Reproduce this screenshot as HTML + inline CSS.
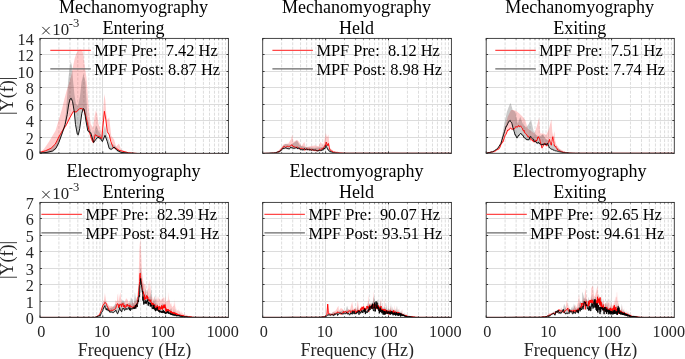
<!DOCTYPE html>
<html><head><meta charset="utf-8"><style>
html,body{margin:0;padding:0;background:#fff;}
svg{display:block;will-change:transform;filter:blur(0.3px);}
text{font-family:"Liberation Serif", serif;fill:#000;}
.tt{font-size:18px;text-anchor:middle;}
.lg{font-size:16.4px;white-space:pre;}
.tl{font-size:16.2px;fill:#262626;}
.al{fill:#262626;}
.ex{font-size:16.8px;fill:#262626;}
.es{font-size:12.6px;fill:#262626;}
.xm{stroke:#262626;stroke-width:1;fill:none;}
.mg{stroke:#d2d2d2;stroke-width:0.75;stroke-dasharray:3 1.4;stroke-dashoffset:0.5;fill:none;}
.Mg{stroke:#dcdcdc;stroke-width:1;fill:none;}
.tk{stroke:#262626;stroke-width:0.9;fill:none;}
.ax{stroke:#333;stroke-width:0.9;fill:none;}
.gb{fill:#000;fill-opacity:0.2;stroke:none;}
.pb{fill:#ff0000;fill-opacity:0.2;stroke:none;}
.bl{fill:none;stroke:#000;stroke-width:0.9;stroke-linejoin:round;}
.rl{fill:none;stroke:#ff0000;stroke-width:0.9;stroke-linejoin:round;}
.lr{stroke:#ff4848;stroke-width:1.1;fill:none;}
.lb{stroke:#6a6a6a;stroke-width:1.1;fill:none;}
</style></head><body>
<svg width="685" height="359" viewBox="0 0 685 359" xml:space="preserve">
<path d="M58.90 38.4V153.3M69.96 38.4V153.3M77.81 38.4V153.3M83.90 38.4V153.3M88.87 38.4V153.3M93.07 38.4V153.3M96.71 38.4V153.3M99.93 38.4V153.3M121.70 38.4V153.3M132.76 38.4V153.3M140.61 38.4V153.3M146.70 38.4V153.3M151.67 38.4V153.3M155.87 38.4V153.3M159.51 38.4V153.3M162.73 38.4V153.3M184.50 38.4V153.3M195.56 38.4V153.3M203.41 38.4V153.3M209.50 38.4V153.3M214.47 38.4V153.3M218.67 38.4V153.3M222.31 38.4V153.3M225.53 38.4V153.3" class="mg"/>
<path d="M102.50 38.4V153.3M165.50 38.4V153.3M40.0 54.50H228.4M40.0 71.50H228.4M40.0 87.50H228.4M40.0 104.50H228.4M40.0 120.50H228.4M40.0 137.50H228.4" class="Mg"/>
<clipPath id="c00"><rect x="40.0" y="38.4" width="188.40" height="114.90"/></clipPath><g clip-path="url(#c00)">
<polygon points="40.0,152.0 44.0,149.0 48.9,141.7 52.0,136.5 55.6,130.6 58.9,119.4 62.2,108.3 64.4,99.0 66.5,91.0 68.5,85.0 70.3,79.0 71.8,73.0 73.3,65.0 74.8,58.0 76.5,53.0 78.5,50.2 80.4,49.2 82.0,50.2 83.2,53.5 84.2,62.0 85.3,70.0 86.4,77.2 87.3,88.0 88.0,99.4 89.0,110.0 90.7,124.0 93.0,128.0 94.8,115.0 96.0,110.3 97.3,115.0 98.5,124.0 101.4,131.8 103.2,110.0 104.3,94.0 105.3,100.0 106.3,114.2 107.5,120.0 109.2,117.2 111.2,135.7 114.1,139.6 116.1,146.4 119.0,143.5 120.9,149.3 124.8,151.3 130.0,152.5 140.0,153.1 228.4,153.3 228.4,153.3 138.5,153.3 128.7,153.3 122.9,152.5 119.0,151.5 116.1,149.6 113.1,148.6 110.8,142.7 109.2,135.9 107.3,133.0 105.9,121.3 104.4,112.5 101.8,139.8 99.5,137.9 97.5,137.3 95.2,135.9 93.3,143.7 91.7,140.8 88.8,131.0 85.8,117.4 83.9,111.2 81.8,109.7 79.7,109.7 76.2,113.2 73.4,112.5 69.9,118.7 66.5,125.7 62.3,133.4 58.8,143.1 55.3,149.3 51.1,151.9 45.6,153.0 40.0,153.3" class="pb"/>
<polygon points="40.0,152.4 45.6,150.7 51.1,148.2 55.3,144.0 58.8,137.0 62.3,130.8 64.5,124.0 66.0,112.0 67.2,95.0 68.2,80.0 69.6,68.0 70.8,61.5 72.0,66.0 73.0,80.0 74.5,95.0 76.0,104.0 78.0,106.0 80.0,96.0 81.5,82.0 83.5,74.0 85.5,82.0 86.5,100.0 87.5,118.0 90.0,128.0 93.0,138.0 96.0,125.0 99.0,132.0 102.0,136.0 105.0,125.0 107.0,135.0 110.0,143.0 114.0,145.0 118.0,149.0 122.0,152.0 130.0,153.0 228.4,153.3 228.4,153.3 140.0,153.3 128.7,153.3 120.9,153.3 117.0,151.5 114.1,148.2 111.2,150.5 109.2,149.6 107.3,142.7 105.0,136.5 102.4,142.7 100.5,139.8 97.9,138.4 95.6,140.8 93.6,143.7 90.7,134.0 87.8,132.0 85.8,121.3 84.3,110.6 83.2,109.7 81.8,114.6 79.7,129.9 78.3,136.0 77.3,135.4 75.5,125.7 74.3,113.2 72.6,102.9 71.3,99.6 70.0,100.2 68.6,106.2 67.2,115.9 65.1,125.7 62.3,134.1 58.8,143.8 56.0,149.4 52.5,152.2 47.0,153.3 40.0,153.3" class="gb"/>
<polyline points="40.0,152.4 45.6,150.7 51.1,148.2 55.3,144.0 58.8,137.0 62.3,130.8 66.5,124.5 69.9,117.5 73.4,111.3 76.2,112.0 79.7,108.5 81.8,108.5 83.9,110.0 85.8,116.2 88.8,129.8 91.7,139.6 93.3,142.5 95.2,134.7 97.5,136.1 99.5,136.7 101.8,138.6 104.4,111.3 105.9,120.1 107.3,131.8 109.2,134.7 110.8,141.5 113.1,147.4 116.1,148.4 119.0,150.3 122.9,151.3 128.7,152.8 138.5,153.6 228.4,153.6" class="rl"/>
<polyline points="40.0,153.0 47.0,152.4 52.5,151.0 56.0,148.2 58.8,142.6 62.3,132.9 65.1,124.5 67.2,114.7 68.6,105.0 70.0,99.0 71.3,98.4 72.6,101.7 74.3,112.0 75.5,124.5 77.3,134.2 78.3,134.8 79.7,128.7 81.8,113.4 83.2,108.5 84.3,109.4 85.8,120.1 87.8,130.8 90.7,132.8 93.6,142.5 95.6,139.6 97.9,137.2 100.5,138.6 102.4,141.5 105.0,135.3 107.3,141.5 109.2,148.4 111.2,149.3 114.1,147.0 117.0,150.3 120.9,152.3 128.7,153.2 140.0,153.6 228.4,153.6" class="bl"/>
</g>
<path d="M40.00 153.3v-1.9M40.00 38.4v1.9M58.90 153.3v-1.0M58.90 38.4v1.0M69.96 153.3v-1.0M69.96 38.4v1.0M77.81 153.3v-1.0M77.81 38.4v1.0M83.90 153.3v-1.0M83.90 38.4v1.0M88.87 153.3v-1.0M88.87 38.4v1.0M93.07 153.3v-1.0M93.07 38.4v1.0M96.71 153.3v-1.0M96.71 38.4v1.0M99.93 153.3v-1.0M99.93 38.4v1.0M102.80 153.3v-1.9M102.80 38.4v1.9M121.70 153.3v-1.0M121.70 38.4v1.0M132.76 153.3v-1.0M132.76 38.4v1.0M140.61 153.3v-1.0M140.61 38.4v1.0M146.70 153.3v-1.0M146.70 38.4v1.0M151.67 153.3v-1.0M151.67 38.4v1.0M155.87 153.3v-1.0M155.87 38.4v1.0M159.51 153.3v-1.0M159.51 38.4v1.0M162.73 153.3v-1.0M162.73 38.4v1.0M165.60 153.3v-1.9M165.60 38.4v1.9M184.50 153.3v-1.0M184.50 38.4v1.0M195.56 153.3v-1.0M195.56 38.4v1.0M203.41 153.3v-1.0M203.41 38.4v1.0M209.50 153.3v-1.0M209.50 38.4v1.0M214.47 153.3v-1.0M214.47 38.4v1.0M218.67 153.3v-1.0M218.67 38.4v1.0M222.31 153.3v-1.0M222.31 38.4v1.0M225.53 153.3v-1.0M225.53 38.4v1.0M40.0 38.50h1.9M228.4 38.50h-1.9M40.0 54.50h1.9M228.4 54.50h-1.9M40.0 71.50h1.9M228.4 71.50h-1.9M40.0 87.50h1.9M228.4 87.50h-1.9M40.0 104.50h1.9M228.4 104.50h-1.9M40.0 120.50h1.9M228.4 120.50h-1.9M40.0 137.50h1.9M228.4 137.50h-1.9M40.0 153.50h1.9M228.4 153.50h-1.9" class="tk"/>
<rect x="40.0" y="38.4" width="188.40" height="114.90" class="ax"/>
<text x="133.60" y="13.10" class="tt">Mechanomyography</text>
<text x="133.60" y="34.20" class="tt">Entering</text>
<path d="M50.30 50.40h40.5" class="lr"/>
<path d="M50.30 68.90h40.5" class="lb"/>
<text x="94.30" y="56.20" class="lg">MPF Pre:  7.42 Hz</text>
<text x="94.30" y="74.80" class="lg">MPF Post: 8.87 Hz</text>
<text x="33.80" y="44.50" class="tl" text-anchor="end">14</text>
<text x="33.80" y="60.50" class="tl" text-anchor="end">12</text>
<text x="33.80" y="77.55" class="tl" text-anchor="end">10</text>
<text x="33.80" y="93.60" class="tl" text-anchor="end">8</text>
<text x="33.80" y="110.60" class="tl" text-anchor="end">6</text>
<text x="33.80" y="126.80" class="tl" text-anchor="end">4</text>
<text x="33.80" y="143.60" class="tl" text-anchor="end">2</text>
<text x="33.80" y="159.50" class="tl" text-anchor="end">0</text>
<path d="M42.30 26.90l7.4 7.4M49.70 26.90l-7.4 7.4" class="xm"/>
<text x="52.30" y="35.00" class="ex">10</text>
<text x="68.80" y="26.80" class="es">-3</text>
<text transform="translate(13.3 95.85) rotate(-90)" x="0" y="0" class="tt al">|Y(f)|</text>
<path d="M281.63 38.4V153.3M292.71 38.4V153.3M300.57 38.4V153.3M306.67 38.4V153.3M311.65 38.4V153.3M315.86 38.4V153.3M319.50 38.4V153.3M322.72 38.4V153.3M344.53 38.4V153.3M355.61 38.4V153.3M363.47 38.4V153.3M369.57 38.4V153.3M374.55 38.4V153.3M378.76 38.4V153.3M382.40 38.4V153.3M385.62 38.4V153.3M407.43 38.4V153.3M418.51 38.4V153.3M426.37 38.4V153.3M432.47 38.4V153.3M437.45 38.4V153.3M441.66 38.4V153.3M445.30 38.4V153.3M448.52 38.4V153.3" class="mg"/>
<path d="M325.50 38.4V153.3M388.50 38.4V153.3M262.7 54.50H451.4M262.7 71.50H451.4M262.7 87.50H451.4M262.7 104.50H451.4M262.7 120.50H451.4M262.7 137.50H451.4" class="Mg"/>
<clipPath id="c01"><rect x="262.7" y="38.4" width="188.70" height="114.90"/></clipPath><g clip-path="url(#c01)">
<polygon points="262.7,153.3 270.0,153.2 276.6,152.4 281.0,147.7 283.9,144.1 288.3,143.4 291.2,139.0 292.2,134.6 293.4,141.9 297.0,139.7 299.2,141.9 301.4,146.3 304.3,141.9 305.8,147.0 310.2,146.3 314.6,145.5 318.9,146.3 320.4,141.9 323.3,145.5 325.9,133.1 327.0,137.5 328.4,134.6 329.9,147.7 333.5,151.0 340.8,152.4 349.6,153.3 451.4,153.3 451.4,153.3 451.4,153.3 349.7,153.3 349.6,153.3 349.6,153.3 346.2,153.3 346.1,153.3 345.9,153.3 345.8,153.3 345.6,153.3 345.4,153.3 345.3,153.3 345.1,153.3 345.0,153.3 344.8,153.3 344.6,153.3 344.5,153.3 344.3,153.3 344.1,153.3 344.0,153.3 343.8,153.3 343.6,153.3 343.5,153.3 343.3,153.3 343.1,153.3 343.0,153.3 342.8,153.3 342.6,153.3 342.4,153.3 342.3,153.3 342.1,153.3 341.9,153.3 341.7,153.3 341.5,153.3 341.4,153.3 341.2,153.3 341.0,153.3 340.8,153.3 340.8,153.3 340.6,153.3 340.4,153.3 340.2,153.3 340.0,153.3 339.8,153.3 339.6,153.3 339.4,153.3 339.2,153.3 339.0,153.3 338.8,153.3 338.6,153.3 338.4,153.3 338.2,153.3 338.0,153.3 337.8,153.3 337.6,153.3 337.4,153.3 337.2,153.3 337.0,153.3 336.7,153.3 336.5,153.3 336.3,153.3 336.1,153.3 335.9,153.3 335.6,153.3 335.4,153.3 335.2,153.3 334.9,153.1 334.7,153.0 334.5,153.0 334.2,153.3 334.0,153.2 333.8,153.2 333.5,153.1 333.5,153.1 333.3,153.1 333.0,152.7 332.8,152.6 332.5,152.8 332.3,152.0 332.0,152.1 331.7,152.1 331.5,152.0 331.2,151.7 330.9,151.7 330.7,151.3 330.4,151.1 330.1,150.7 329.9,150.9 329.8,150.3 329.6,150.2 329.3,148.9 329.0,147.1 328.7,145.6 328.4,144.6 328.4,144.4 328.1,146.5 327.8,146.1 327.5,145.5 327.4,146.5 327.2,145.9 326.9,145.0 326.6,144.2 326.2,143.0 326.2,143.6 325.9,145.4 325.6,146.7 325.3,145.7 324.9,146.5 324.8,147.3 324.6,147.1 324.3,147.8 323.9,147.9 323.6,148.7 323.2,149.5 322.8,149.1 322.5,150.0 322.1,150.1 321.9,150.2 321.7,150.0 321.4,149.7 321.0,150.6 320.6,151.2 320.2,151.3 319.8,150.8 319.4,150.4 319.0,150.7 318.5,151.4 318.1,151.1 317.7,151.4 317.5,151.7 317.2,151.5 316.8,151.7 316.3,151.5 315.9,151.5 315.4,151.3 314.9,151.5 314.4,151.3 313.9,151.1 313.4,151.2 313.1,150.9 312.9,151.2 312.4,150.8 311.8,150.9 311.3,150.5 310.7,150.8 310.1,150.2 309.6,150.0 309.0,150.5 308.7,150.2 308.4,150.7 307.7,150.0 307.1,150.4 306.4,149.9 305.8,150.3 305.1,151.1 304.4,151.0 304.3,150.2 303.7,150.0 302.9,149.7 302.2,149.8 301.4,149.3 300.6,149.5 300.0,149.5 299.7,149.8 298.9,149.4 298.0,148.5 297.1,148.0 296.1,148.4 295.6,148.0 295.1,148.6 294.1,147.3 293.1,147.7 292.0,145.8 291.9,145.8 290.8,146.7 289.6,147.4 288.4,147.7 288.3,147.6 287.1,147.1 285.7,148.6 284.2,147.0 283.9,147.3 282.7,149.1 281.1,150.4 281.0,150.9 279.4,152.2 277.5,153.1 276.6,153.3 275.5,153.3 273.4,153.3 271.1,153.3 270.0,153.3 265.8,153.3 262.7,153.3" class="pb"/>
<polygon points="262.7,153.3 275.0,153.2 279.5,150.7 283.2,145.5 285.4,144.1 291.2,144.8 297.0,140.4 300.0,145.5 305.8,147.0 314.6,147.7 323.3,147.0 326.2,141.9 328.4,147.7 332.1,151.4 337.9,152.8 345.0,153.3 451.4,153.3 451.4,153.3 451.4,153.3 339.0,153.3 338.8,153.3 338.6,153.3 338.4,153.3 338.2,153.3 338.0,153.3 337.8,153.3 337.6,153.3 337.4,153.3 337.2,153.3 337.0,153.3 336.7,153.3 336.5,153.3 336.3,153.3 336.1,153.3 335.9,153.3 335.6,153.3 335.4,153.3 335.2,153.3 334.9,153.3 334.7,153.3 334.5,153.3 334.2,153.3 334.0,153.3 333.8,153.3 333.5,153.3 333.5,153.3 333.3,153.3 333.0,153.3 332.8,153.3 332.5,153.3 332.3,153.3 332.0,153.1 331.7,153.1 331.5,152.8 331.2,152.9 330.9,152.9 330.7,152.9 330.4,152.4 330.1,152.5 329.9,152.4 329.8,152.6 329.6,151.9 329.3,152.0 329.0,151.6 328.7,151.4 328.4,151.2 328.1,151.0 327.8,150.1 327.7,150.2 327.5,149.9 327.2,149.0 326.9,148.7 326.6,147.7 326.2,147.4 326.2,146.5 325.9,146.6 325.6,147.6 325.3,148.8 324.9,148.7 324.8,149.5 324.6,149.1 324.3,150.1 323.9,149.3 323.6,150.4 323.2,150.9 322.8,150.8 322.5,150.8 322.1,150.7 321.9,150.9 321.7,151.7 321.4,151.1 321.0,151.3 320.6,151.2 320.2,151.6 319.8,151.5 319.4,151.5 319.0,151.7 318.9,151.7 318.5,151.5 318.1,152.0 317.7,151.8 317.2,151.8 316.8,151.5 316.3,151.4 315.9,151.1 315.4,151.0 314.9,151.0 314.6,150.9 314.4,150.8 313.9,151.3 313.4,150.7 312.9,150.4 312.4,150.9 311.8,151.4 311.3,151.1 310.7,150.5 310.2,150.9 310.1,151.2 309.6,150.9 309.0,150.7 308.4,149.9 307.7,150.6 307.1,150.7 306.4,149.9 305.8,150.2 305.8,150.6 305.1,150.2 304.4,149.6 303.7,150.6 302.9,151.2 302.9,150.9 302.2,150.5 301.4,150.6 300.6,150.6 300.0,150.2 299.7,149.8 298.9,148.7 298.0,149.9 297.1,149.1 296.1,148.5 295.6,149.0 295.1,149.2 294.1,149.2 293.1,149.2 292.0,148.7 291.2,148.7 290.8,148.1 289.6,149.8 288.4,149.8 288.3,149.5 287.1,149.4 285.7,148.8 285.4,149.0 284.2,149.3 282.7,149.5 282.4,150.2 281.1,151.4 279.5,152.4 279.4,152.8 277.5,153.0 275.5,153.3 275.1,153.3 273.4,153.3 271.1,153.3 268.6,153.3 265.8,153.3 262.7,153.3" class="gb"/>
<polyline points="262.7,153.4 265.8,153.3 270.0,153.3 271.1,153.2 273.4,153.0 275.5,152.8 276.6,152.8 277.5,152.1 279.4,151.2 281.0,149.9 281.1,149.4 282.7,148.1 283.9,146.3 284.2,146.0 285.7,147.6 287.1,146.1 288.3,146.6 288.4,146.7 289.6,146.4 290.8,145.7 291.9,144.8 292.0,144.8 293.1,146.7 294.1,146.3 295.1,147.6 295.6,147.0 296.1,147.4 297.1,147.0 298.0,147.5 298.9,148.4 299.7,148.8 300.0,148.5 300.6,148.5 301.4,148.3 302.2,148.8 302.9,148.7 303.7,149.0 304.3,149.2 304.4,150.0 305.1,150.1 305.8,149.3 306.4,148.9 307.1,149.4 307.7,149.0 308.4,149.7 308.7,149.2 309.0,149.5 309.6,149.0 310.1,149.2 310.7,149.8 311.3,149.5 311.8,149.9 312.4,149.8 312.9,150.2 313.1,149.9 313.4,150.2 313.9,150.1 314.4,150.3 314.9,150.5 315.4,150.3 315.9,150.5 316.3,150.5 316.8,150.7 317.2,150.5 317.5,150.7 317.7,150.4 318.1,150.1 318.5,150.4 319.0,149.7 319.4,149.4 319.8,149.8 320.2,150.3 320.6,150.2 321.0,149.6 321.4,148.7 321.7,149.0 321.9,149.2 322.1,149.1 322.5,149.0 322.8,148.1 323.2,148.5 323.6,147.7 323.9,146.9 324.3,146.8 324.6,146.1 324.8,146.3 324.9,145.5 325.3,144.7 325.6,145.7 325.9,144.4 326.2,142.6 326.2,142.0 326.6,143.2 326.9,144.0 327.2,144.9 327.4,145.5 327.5,144.5 327.8,145.1 328.1,145.5 328.4,143.4 328.4,143.6 328.7,144.6 329.0,146.1 329.3,147.9 329.6,149.2 329.8,149.3 329.9,149.9 330.1,149.7 330.4,150.1 330.7,150.3 330.9,150.7 331.2,150.7 331.5,151.0 331.7,151.1 332.0,151.1 332.3,151.0 332.5,151.8 332.8,151.6 333.0,151.7 333.3,152.1 333.5,152.1 333.5,152.1 333.8,152.2 334.0,152.2 334.2,152.3 334.5,152.0 334.7,152.0 334.9,152.1 335.2,152.3 335.4,152.3 335.6,152.3 335.9,152.5 336.1,152.4 336.3,152.4 336.5,152.5 336.7,152.6 337.0,152.6 337.2,152.5 337.4,152.6 337.6,152.6 337.8,152.5 338.0,152.7 338.2,152.7 338.4,152.7 338.6,152.6 338.8,152.8 339.0,152.7 339.2,152.7 339.4,152.8 339.6,152.9 339.8,152.8 340.0,152.9 340.2,152.9 340.4,152.9 340.6,153.0 340.8,153.0 340.8,153.0 341.0,153.0 341.2,153.0 341.4,153.0 341.5,153.0 341.7,153.0 341.9,153.0 342.1,153.0 342.3,153.0 342.4,153.1 342.6,153.1 342.8,153.1 343.0,153.1 343.1,153.1 343.3,153.1 343.5,153.2 343.6,153.1 343.8,153.2 344.0,153.2 344.1,153.2 344.3,153.2 344.5,153.2 344.6,153.2 344.8,153.2 345.0,153.2 345.1,153.2 345.3,153.2 345.4,153.2 345.6,153.2 345.8,153.2 345.9,153.2 346.1,153.2 346.2,153.3 349.6,153.3 349.6,153.4 349.7,153.3 451.4,153.3 451.4,153.4" class="rl"/>
<polyline points="262.7,153.4 265.8,153.3 268.6,153.2 271.1,153.0 273.4,153.0 275.1,152.9 275.5,152.7 277.5,152.0 279.4,151.8 279.5,151.4 281.1,150.4 282.4,149.2 282.7,148.5 284.2,148.3 285.4,148.0 285.7,147.8 287.1,148.4 288.3,148.5 288.4,148.8 289.6,148.8 290.8,147.1 291.2,147.7 292.0,147.7 293.1,148.2 294.1,148.2 295.1,148.2 295.6,148.0 296.1,147.5 297.1,148.1 298.0,148.9 298.9,147.7 299.7,148.8 300.0,149.2 300.6,149.6 301.4,149.6 302.2,149.5 302.9,149.9 302.9,150.2 303.7,149.6 304.4,148.6 305.1,149.2 305.8,149.6 305.8,149.2 306.4,148.9 307.1,149.7 307.7,149.6 308.4,148.9 309.0,149.7 309.6,149.9 310.1,150.2 310.2,149.9 310.7,149.5 311.3,150.1 311.8,150.4 312.4,149.9 312.9,149.4 313.4,149.7 313.9,150.3 314.4,149.8 314.6,149.9 314.9,150.0 315.4,150.0 315.9,150.1 316.3,150.4 316.8,150.5 317.2,150.8 317.7,150.8 318.1,151.0 318.5,150.5 318.9,150.7 319.0,150.7 319.4,150.5 319.8,150.5 320.2,150.6 320.6,150.2 321.0,150.3 321.4,150.1 321.7,150.7 321.9,149.9 322.1,149.7 322.5,149.8 322.8,149.8 323.2,149.9 323.6,149.4 323.9,148.3 324.3,149.1 324.6,148.1 324.8,148.5 324.9,147.7 325.3,147.8 325.6,146.6 325.9,145.6 326.2,145.5 326.2,146.4 326.6,146.7 326.9,147.7 327.2,148.0 327.5,148.9 327.7,149.2 327.8,149.1 328.1,150.0 328.4,150.2 328.7,150.4 329.0,150.6 329.3,151.0 329.6,150.9 329.8,151.6 329.9,151.4 330.1,151.5 330.4,151.4 330.7,151.9 330.9,151.9 331.2,151.9 331.5,151.8 331.7,152.1 332.0,152.1 332.3,152.4 332.5,152.3 332.8,152.6 333.0,152.7 333.3,152.8 333.5,152.8 333.5,152.8 333.8,152.8 334.0,152.8 334.2,152.8 334.5,152.8 334.7,152.9 334.9,152.9 335.2,153.0 335.4,153.0 335.6,153.0 335.9,153.0 336.1,153.0 336.3,153.0 336.5,153.0 336.7,153.1 337.0,153.1 337.2,153.1 337.4,153.1 337.6,153.1 337.8,153.2 338.0,153.2 338.2,153.2 338.4,153.2 338.6,153.2 338.8,153.2 339.0,153.3 451.4,153.3 451.4,153.4" class="bl"/>
</g>
<path d="M262.70 153.3v-1.9M262.70 38.4v1.9M281.63 153.3v-1.0M281.63 38.4v1.0M292.71 153.3v-1.0M292.71 38.4v1.0M300.57 153.3v-1.0M300.57 38.4v1.0M306.67 153.3v-1.0M306.67 38.4v1.0M311.65 153.3v-1.0M311.65 38.4v1.0M315.86 153.3v-1.0M315.86 38.4v1.0M319.50 153.3v-1.0M319.50 38.4v1.0M322.72 153.3v-1.0M322.72 38.4v1.0M325.60 153.3v-1.9M325.60 38.4v1.9M344.53 153.3v-1.0M344.53 38.4v1.0M355.61 153.3v-1.0M355.61 38.4v1.0M363.47 153.3v-1.0M363.47 38.4v1.0M369.57 153.3v-1.0M369.57 38.4v1.0M374.55 153.3v-1.0M374.55 38.4v1.0M378.76 153.3v-1.0M378.76 38.4v1.0M382.40 153.3v-1.0M382.40 38.4v1.0M385.62 153.3v-1.0M385.62 38.4v1.0M388.50 153.3v-1.9M388.50 38.4v1.9M407.43 153.3v-1.0M407.43 38.4v1.0M418.51 153.3v-1.0M418.51 38.4v1.0M426.37 153.3v-1.0M426.37 38.4v1.0M432.47 153.3v-1.0M432.47 38.4v1.0M437.45 153.3v-1.0M437.45 38.4v1.0M441.66 153.3v-1.0M441.66 38.4v1.0M445.30 153.3v-1.0M445.30 38.4v1.0M448.52 153.3v-1.0M448.52 38.4v1.0M262.7 38.50h1.9M451.4 38.50h-1.9M262.7 54.50h1.9M451.4 54.50h-1.9M262.7 71.50h1.9M451.4 71.50h-1.9M262.7 87.50h1.9M451.4 87.50h-1.9M262.7 104.50h1.9M451.4 104.50h-1.9M262.7 120.50h1.9M451.4 120.50h-1.9M262.7 137.50h1.9M451.4 137.50h-1.9M262.7 153.50h1.9M451.4 153.50h-1.9" class="tk"/>
<rect x="262.7" y="38.4" width="188.70" height="114.90" class="ax"/>
<text x="356.45" y="13.10" class="tt">Mechanomyography</text>
<text x="356.45" y="34.20" class="tt">Held</text>
<path d="M272.40 50.40h40.5" class="lr"/>
<path d="M272.40 68.90h40.5" class="lb"/>
<text x="316.40" y="56.20" class="lg">MPF Pre:  8.12 Hz</text>
<text x="316.40" y="74.80" class="lg">MPF Post: 8.98 Hz</text>
<path d="M505.07 38.4V153.3M516.12 38.4V153.3M523.95 38.4V153.3M530.03 38.4V153.3M534.99 38.4V153.3M539.19 38.4V153.3M542.82 38.4V153.3M546.03 38.4V153.3M567.77 38.4V153.3M578.82 38.4V153.3M586.65 38.4V153.3M592.73 38.4V153.3M597.69 38.4V153.3M601.89 38.4V153.3M605.52 38.4V153.3M608.73 38.4V153.3M630.47 38.4V153.3M641.52 38.4V153.3M649.35 38.4V153.3M655.43 38.4V153.3M660.39 38.4V153.3M664.59 38.4V153.3M668.22 38.4V153.3M671.43 38.4V153.3" class="mg"/>
<path d="M548.50 38.4V153.3M611.50 38.4V153.3M486.2 54.50H674.3M486.2 71.50H674.3M486.2 87.50H674.3M486.2 104.50H674.3M486.2 120.50H674.3M486.2 137.50H674.3" class="Mg"/>
<clipPath id="c02"><rect x="486.2" y="38.4" width="188.10" height="114.90"/></clipPath><g clip-path="url(#c02)">
<polygon points="486.2,153.2 492.0,152.5 496.0,150.0 499.4,145.1 504.4,130.1 507.7,116.7 511.0,110.0 513.5,110.0 516.1,110.9 519.4,113.4 521.9,115.9 525.2,120.0 527.7,128.4 531.1,130.9 534.4,133.4 536.9,125.9 539.1,117.5 540.3,133.4 543.6,133.4 546.1,135.1 548.6,130.1 551.4,119.2 552.3,132.0 553.3,137.0 554.4,131.0 555.3,141.0 556.1,144.0 559.5,148.8 564.5,151.4 566.1,152.3 572.0,153.0 580.0,153.3 674.3,153.3 674.3,153.3 674.3,153.3 578.1,153.3 578.0,153.3 578.0,153.3 575.1,153.3 575.0,153.3 574.9,153.3 574.8,153.3 574.6,153.3 574.5,153.3 574.4,153.3 574.2,153.3 574.1,153.3 574.0,153.3 573.9,153.3 573.7,153.3 573.6,153.3 573.5,153.3 573.3,153.3 573.2,153.3 573.1,153.3 572.9,153.3 572.8,153.3 572.6,153.3 572.5,153.3 572.4,153.3 572.2,153.3 572.1,153.3 572.0,153.3 571.8,153.3 571.7,153.3 571.5,153.3 571.4,153.3 571.2,153.3 571.1,153.3 571.0,153.3 570.8,153.3 570.7,153.3 570.5,153.3 570.4,153.3 570.2,153.3 570.1,153.3 569.9,153.3 569.8,153.3 569.6,153.3 569.5,153.3 569.3,153.3 569.2,153.3 569.0,153.3 568.8,153.3 568.7,153.3 568.5,153.3 568.4,153.3 568.2,153.3 568.0,153.3 568.0,153.3 567.9,153.3 567.7,153.3 567.6,153.3 567.4,153.3 567.2,153.3 567.1,153.3 566.9,153.3 566.7,153.3 566.5,153.3 566.4,153.3 566.2,153.3 566.0,153.3 565.9,153.3 565.7,153.3 565.5,153.3 565.3,153.3 565.1,153.3 565.0,153.3 564.8,153.3 564.6,153.2 564.4,153.3 564.2,153.3 564.0,153.3 563.9,153.2 563.7,153.3 563.5,153.3 563.4,153.1 563.3,153.0 563.1,153.0 562.9,152.9 562.7,153.0 562.5,152.8 562.3,152.7 562.1,152.7 561.9,152.6 561.7,152.6 561.5,152.5 561.3,152.5 561.1,152.3 560.9,152.3 560.7,152.4 560.4,152.2 560.2,152.2 560.0,152.1 559.9,152.0 559.8,151.9 559.6,151.9 559.4,151.5 559.1,151.4 558.9,151.5 558.7,151.2 558.4,151.2 558.2,151.3 558.0,151.2 557.7,151.1 557.5,150.3 557.5,150.8 557.3,150.3 557.0,150.2 556.8,149.2 556.5,148.8 556.3,148.8 556.0,148.5 555.8,147.3 555.8,147.6 555.5,147.1 555.3,147.5 555.0,147.1 554.8,147.1 554.5,146.4 554.4,146.9 554.2,146.1 554.0,144.6 553.7,142.3 553.4,141.5 553.1,140.0 552.8,138.2 552.8,137.7 552.6,138.6 552.3,140.2 552.0,142.7 551.7,143.9 551.4,146.1 551.4,146.1 551.1,146.1 550.8,144.8 550.5,143.9 550.2,143.5 549.9,142.3 549.5,140.4 549.4,141.1 549.2,141.6 548.9,142.1 548.6,143.2 548.2,143.6 547.9,144.8 547.6,145.4 547.2,146.3 546.9,146.9 546.9,147.1 546.5,146.2 546.2,145.9 545.8,145.7 545.4,146.0 545.0,144.1 544.7,144.2 544.4,144.4 544.3,145.6 543.9,145.3 543.5,145.9 543.1,147.2 542.7,147.7 542.3,148.3 541.9,149.1 541.9,148.7 541.4,147.1 541.0,145.0 540.6,144.0 540.3,142.7 540.1,142.2 539.7,140.0 539.2,139.2 538.7,138.6 538.6,137.7 538.2,139.1 537.7,138.4 537.3,140.9 536.7,141.9 536.2,141.1 536.1,142.4 535.7,141.6 535.2,142.9 534.6,142.4 534.1,143.0 533.6,142.7 533.5,141.7 532.9,142.2 532.3,141.0 531.7,140.5 531.1,141.2 530.5,139.3 530.2,139.7 529.8,139.3 529.1,138.8 528.5,137.4 527.8,137.8 527.0,136.0 526.9,136.1 526.3,135.2 525.5,134.5 524.8,134.0 523.9,131.1 523.6,131.9 523.1,131.6 522.3,129.2 521.4,128.3 521.1,127.7 520.5,126.8 519.5,127.9 518.6,126.4 518.5,126.4 517.5,128.1 516.5,127.7 515.4,127.8 515.2,128.6 514.2,130.1 513.0,129.6 512.7,130.2 511.8,130.3 510.5,128.8 510.2,129.1 509.1,130.8 507.7,131.1 507.7,131.0 506.1,135.2 505.2,136.1 504.5,138.4 502.8,143.1 502.7,142.7 501.0,145.5 499.4,149.4 499.0,149.7 496.9,150.7 494.6,152.4 494.3,152.4 492.1,152.9 489.3,153.3 486.2,153.3" class="pb"/>
<polygon points="486.2,153.2 494.0,152.0 498.0,148.0 501.0,141.7 504.4,123.4 506.9,111.7 509.4,105.0 510.7,103.0 512.7,110.0 515.2,111.7 517.7,123.4 520.2,116.7 522.7,123.4 526.1,127.6 528.6,124.2 531.1,119.7 533.6,130.9 536.1,135.1 539.4,136.7 542.8,134.2 546.1,139.2 551.1,141.7 556.1,146.8 562.8,151.8 570.0,153.2 674.3,153.3 674.3,153.3 674.3,153.3 580.0,153.3 580.0,153.3 579.9,153.3 575.0,153.3 574.9,153.3 574.8,153.3 574.6,153.3 574.5,153.3 574.4,153.3 574.2,153.3 574.1,153.3 574.0,153.3 573.9,153.3 573.7,153.3 573.6,153.3 573.5,153.3 573.3,153.3 573.2,153.3 573.1,153.3 572.9,153.3 572.8,153.3 572.6,153.3 572.5,153.3 572.4,153.3 572.2,153.3 572.1,153.3 572.0,153.3 571.8,153.3 571.7,153.3 571.5,153.3 571.4,153.3 571.2,153.3 571.1,153.3 571.0,153.3 570.8,153.3 570.7,153.3 570.5,153.3 570.4,153.3 570.2,153.3 570.1,153.3 570.0,153.3 569.9,153.3 569.8,153.3 569.6,153.3 569.5,153.3 569.3,153.3 569.2,153.3 569.0,153.3 568.8,153.3 568.7,153.3 568.5,153.3 568.4,153.3 568.2,153.3 568.0,153.3 567.9,153.3 567.7,153.3 567.6,153.3 567.4,153.3 567.2,153.3 567.1,153.3 566.9,153.3 566.7,153.3 566.5,153.3 566.4,153.3 566.2,153.3 566.0,153.3 565.9,153.3 565.7,153.3 565.5,153.3 565.3,153.3 565.1,153.3 565.0,153.3 564.8,153.3 564.6,153.3 564.4,153.3 564.2,153.3 564.0,153.3 563.9,153.3 563.7,153.3 563.5,153.3 563.4,153.3 563.3,153.3 563.1,153.3 562.9,153.3 562.7,153.3 562.5,153.3 562.3,153.3 562.1,153.1 561.9,153.1 561.7,153.2 561.5,153.0 561.3,153.0 561.1,153.0 560.9,152.9 560.7,152.9 560.4,152.8 560.2,152.8 560.0,152.7 559.8,152.7 559.6,152.6 559.4,152.7 559.1,152.7 558.9,152.5 558.7,152.5 558.7,152.5 558.4,152.5 558.2,152.4 558.0,152.3 557.7,152.3 557.5,152.2 557.3,152.2 557.0,152.0 556.8,152.1 556.5,151.9 556.3,151.7 556.0,151.7 555.8,151.7 555.5,151.7 555.3,151.7 555.2,151.6 555.0,151.5 554.8,151.4 554.5,151.3 554.2,151.1 554.0,151.4 553.7,151.1 553.4,151.0 553.1,150.8 552.8,150.4 552.6,150.5 552.3,150.2 552.0,150.4 551.7,150.2 551.7,150.3 551.4,150.1 551.1,149.9 550.8,149.7 550.5,149.4 550.2,149.0 549.9,148.9 549.5,148.6 549.3,148.5 549.2,148.7 548.9,147.6 548.6,147.0 548.2,146.0 547.9,145.2 547.6,144.4 547.6,144.8 547.2,144.8 546.9,145.0 546.5,145.5 546.2,144.7 545.8,145.5 545.8,145.2 545.4,145.7 545.0,144.7 544.7,145.2 544.3,145.1 543.9,144.9 543.5,145.0 543.5,145.4 543.1,144.9 542.7,145.7 542.3,145.0 541.9,145.9 541.4,145.7 541.1,145.7 541.0,145.7 540.6,145.3 540.1,145.0 539.7,144.2 539.2,144.8 538.7,143.2 538.6,143.6 538.2,143.1 537.7,143.5 537.3,144.4 536.7,143.9 536.2,142.9 535.7,142.5 535.2,142.7 535.2,142.3 534.6,142.3 534.1,142.3 533.5,140.1 532.9,140.2 532.7,140.2 532.3,139.5 531.7,139.2 531.1,138.5 530.7,137.4 530.5,138.0 529.8,138.0 529.1,140.6 528.6,141.1 528.5,140.6 527.8,140.4 527.0,141.0 526.3,139.9 526.1,140.2 525.5,139.4 524.8,138.8 523.9,138.7 523.1,136.4 522.7,136.1 522.3,136.3 521.4,135.1 520.7,134.1 520.5,134.5 519.5,135.4 518.6,136.9 518.5,136.4 517.5,138.2 516.9,139.1 516.5,138.1 515.4,135.8 515.2,136.1 514.2,132.7 513.5,130.2 513.0,128.9 511.9,124.4 511.8,123.8 510.5,122.4 510.2,121.4 509.1,122.4 508.5,122.7 507.7,124.9 506.1,127.9 506.0,127.7 504.5,132.7 503.5,136.1 502.8,138.1 501.0,144.4 501.0,144.4 499.0,147.3 497.7,149.4 496.9,150.0 494.6,151.5 492.7,152.8 492.1,152.8 489.3,153.3 486.2,153.3" class="gb"/>
<polyline points="486.2,153.2 489.3,152.5 492.1,151.9 494.3,151.4 494.6,151.4 496.9,149.7 499.0,148.7 499.4,148.4 501.0,144.5 502.7,141.7 502.8,142.1 504.5,137.4 505.2,135.1 506.1,134.2 507.7,130.0 507.7,130.1 509.1,129.8 510.2,128.1 510.5,127.8 511.8,129.3 512.7,129.2 513.0,128.6 514.2,129.1 515.2,127.6 515.4,126.8 516.5,126.7 517.5,127.1 518.5,125.4 518.6,125.4 519.5,126.9 520.5,125.8 521.1,126.7 521.4,127.3 522.3,128.2 523.1,130.6 523.6,130.9 523.9,130.1 524.8,133.0 525.5,133.5 526.3,134.2 526.9,135.1 527.0,135.0 527.8,136.8 528.5,136.4 529.1,137.8 529.8,138.3 530.2,138.7 530.5,138.3 531.1,140.2 531.7,139.5 532.3,140.0 532.9,141.2 533.5,140.7 533.6,141.7 534.1,142.0 534.6,141.4 535.2,141.9 535.7,140.6 536.1,141.4 536.2,140.1 536.7,140.9 537.3,139.9 537.7,137.4 538.2,138.1 538.6,136.7 538.7,137.6 539.2,138.2 539.7,139.0 540.1,141.2 540.3,141.7 540.6,143.0 541.0,144.0 541.4,146.1 541.9,147.7 541.9,148.1 542.3,147.3 542.7,146.7 543.1,146.2 543.5,144.9 543.9,144.3 544.3,144.6 544.4,143.4 544.7,143.2 545.0,143.1 545.4,145.0 545.8,144.7 546.2,144.9 546.5,145.2 546.9,146.1 546.9,145.9 547.2,145.3 547.6,144.4 547.9,143.8 548.2,142.6 548.6,142.2 548.9,141.1 549.2,140.6 549.4,140.1 549.5,139.4 549.9,141.3 550.2,142.5 550.5,142.9 550.8,143.8 551.1,145.1 551.4,145.1 551.4,145.1 551.7,142.9 552.0,141.7 552.3,139.2 552.6,137.6 552.8,136.7 552.8,137.2 553.1,139.0 553.4,140.5 553.7,141.3 554.0,143.6 554.2,145.1 554.4,145.9 554.5,145.4 554.8,146.1 555.0,146.1 555.3,146.5 555.5,146.1 555.8,146.6 555.8,146.3 556.0,147.5 556.3,147.8 556.5,147.8 556.8,148.2 557.0,149.2 557.3,149.3 557.5,149.8 557.5,149.3 557.7,150.1 558.0,150.2 558.2,150.3 558.4,150.2 558.7,150.2 558.9,150.5 559.1,150.4 559.4,150.5 559.6,150.9 559.8,150.9 559.9,151.0 560.0,151.1 560.2,151.2 560.4,151.2 560.7,151.4 560.9,151.3 561.1,151.3 561.3,151.5 561.5,151.5 561.7,151.6 561.9,151.6 562.1,151.7 562.3,151.7 562.5,151.8 562.7,152.0 562.9,151.9 563.1,152.0 563.3,152.0 563.4,152.1 563.5,152.3 563.7,152.3 563.9,152.2 564.0,152.3 564.2,152.4 564.4,152.3 564.6,152.2 564.8,152.3 565.0,152.4 565.1,152.4 565.3,152.4 565.5,152.5 565.7,152.4 565.9,152.6 566.0,152.5 566.2,152.5 566.4,152.6 566.5,152.6 566.7,152.7 566.9,152.7 567.1,152.7 567.2,152.7 567.4,152.8 567.6,152.8 567.7,152.8 567.9,152.9 568.0,152.9 568.0,152.9 568.2,152.9 568.4,152.9 568.5,152.9 568.7,152.9 568.8,152.9 569.0,152.9 569.2,152.9 569.3,152.9 569.5,153.0 569.6,153.0 569.8,153.0 569.9,153.0 570.1,153.0 570.2,153.0 570.4,153.0 570.5,153.0 570.7,153.0 570.8,153.0 571.0,153.0 571.1,153.1 571.2,153.1 571.4,153.0 571.5,153.1 571.7,153.1 571.8,153.1 572.0,153.1 572.1,153.1 572.2,153.1 572.4,153.1 572.5,153.1 572.6,153.1 572.8,153.1 572.9,153.1 573.1,153.1 573.2,153.2 573.3,153.2 573.5,153.2 573.6,153.2 573.7,153.2 573.9,153.2 574.0,153.2 574.1,153.2 574.2,153.2 574.4,153.2 574.5,153.2 574.6,153.2 574.8,153.2 574.9,153.2 575.0,153.2 575.1,153.3 578.0,153.3 578.0,153.4 578.1,153.3 674.3,153.3 674.3,153.4" class="rl"/>
<polyline points="486.2,153.2 489.3,152.6 492.1,151.8 492.7,151.8 494.6,150.5 496.9,149.0 497.7,148.4 499.0,146.3 501.0,143.4 501.0,143.4 502.8,137.1 503.5,135.1 504.5,131.7 506.0,126.7 506.1,126.9 507.7,123.9 508.5,121.7 509.1,121.4 510.2,120.4 510.5,121.4 511.8,122.8 511.9,123.4 513.0,127.9 513.5,129.2 514.2,131.7 515.2,135.1 515.4,134.8 516.5,137.1 516.9,138.1 517.5,137.2 518.5,135.4 518.6,135.9 519.5,134.4 520.5,133.5 520.7,133.1 521.4,134.1 522.3,135.3 522.7,135.1 523.1,135.4 523.9,137.7 524.8,137.8 525.5,138.4 526.1,139.2 526.3,138.9 527.0,140.0 527.8,139.4 528.5,139.6 528.6,140.1 529.1,139.6 529.8,137.0 530.5,137.0 530.7,136.4 531.1,137.5 531.7,138.2 532.3,138.5 532.7,139.2 532.9,139.2 533.5,139.1 534.1,141.3 534.6,141.3 535.2,141.3 535.2,141.7 535.7,141.5 536.2,141.9 536.7,142.9 537.3,143.4 537.7,142.5 538.2,142.1 538.6,142.6 538.7,142.2 539.2,143.8 539.7,143.2 540.1,144.0 540.6,144.3 541.0,144.7 541.1,144.7 541.4,144.7 541.9,144.9 542.3,144.0 542.7,144.7 543.1,143.9 543.5,144.4 543.5,144.0 543.9,143.9 544.3,144.1 544.7,144.2 545.0,143.7 545.4,144.7 545.8,144.2 545.8,144.5 546.2,143.7 546.5,144.5 546.9,144.0 547.2,143.8 547.6,143.8 547.6,143.4 547.9,144.2 548.2,145.0 548.6,146.0 548.9,146.6 549.2,147.7 549.3,147.5 549.5,147.6 549.9,147.9 550.2,148.0 550.5,148.4 550.8,148.7 551.1,148.9 551.4,149.1 551.7,149.3 551.7,149.2 552.0,149.4 552.3,149.2 552.6,149.5 552.8,149.4 553.1,149.8 553.4,150.0 553.7,150.1 554.0,150.4 554.2,150.1 554.5,150.3 554.8,150.4 555.0,150.5 555.2,150.6 555.3,150.7 555.5,150.7 555.8,150.7 556.0,150.7 556.3,150.7 556.5,150.9 556.8,151.1 557.0,151.0 557.3,151.2 557.5,151.2 557.7,151.3 558.0,151.3 558.2,151.4 558.4,151.5 558.7,151.5 558.7,151.5 558.9,151.5 559.1,151.7 559.4,151.7 559.6,151.6 559.8,151.7 560.0,151.7 560.2,151.8 560.4,151.8 560.7,151.9 560.9,151.9 561.1,152.0 561.3,152.0 561.5,152.0 561.7,152.2 561.9,152.1 562.1,152.1 562.3,152.3 562.5,152.3 562.7,152.4 562.9,152.4 563.1,152.4 563.3,152.5 563.4,152.5 563.5,152.6 563.7,152.5 563.9,152.6 564.0,152.6 564.2,152.6 564.4,152.6 564.6,152.6 564.8,152.7 565.0,152.6 565.1,152.6 565.3,152.7 565.5,152.7 565.7,152.8 565.9,152.7 566.0,152.7 566.2,152.7 566.4,152.8 566.5,152.8 566.7,152.8 566.9,152.8 567.1,152.9 567.2,152.8 567.4,152.9 567.6,152.9 567.7,152.9 567.9,152.9 568.0,152.9 568.2,152.9 568.4,152.9 568.5,153.0 568.7,153.0 568.8,153.0 569.0,153.0 569.2,153.0 569.3,153.0 569.5,153.1 569.6,153.1 569.8,153.1 569.9,153.1 570.0,153.1 570.1,153.1 570.2,153.1 570.4,153.1 570.5,153.1 570.7,153.1 570.8,153.1 571.0,153.1 571.1,153.1 571.2,153.1 571.4,153.1 571.5,153.1 571.7,153.1 571.8,153.2 572.0,153.2 572.1,153.2 572.2,153.2 572.4,153.2 572.5,153.2 572.6,153.2 572.8,153.2 572.9,153.2 573.1,153.2 573.2,153.2 573.3,153.2 573.5,153.2 573.6,153.2 573.7,153.2 573.9,153.2 574.0,153.2 574.1,153.2 574.2,153.2 574.4,153.2 574.5,153.2 574.6,153.2 574.8,153.2 574.9,153.2 575.0,153.3 579.9,153.3 580.0,153.4 580.0,153.3 674.3,153.3 674.3,153.4" class="bl"/>
</g>
<path d="M486.20 153.3v-1.9M486.20 38.4v1.9M505.07 153.3v-1.0M505.07 38.4v1.0M516.12 153.3v-1.0M516.12 38.4v1.0M523.95 153.3v-1.0M523.95 38.4v1.0M530.03 153.3v-1.0M530.03 38.4v1.0M534.99 153.3v-1.0M534.99 38.4v1.0M539.19 153.3v-1.0M539.19 38.4v1.0M542.82 153.3v-1.0M542.82 38.4v1.0M546.03 153.3v-1.0M546.03 38.4v1.0M548.90 153.3v-1.9M548.90 38.4v1.9M567.77 153.3v-1.0M567.77 38.4v1.0M578.82 153.3v-1.0M578.82 38.4v1.0M586.65 153.3v-1.0M586.65 38.4v1.0M592.73 153.3v-1.0M592.73 38.4v1.0M597.69 153.3v-1.0M597.69 38.4v1.0M601.89 153.3v-1.0M601.89 38.4v1.0M605.52 153.3v-1.0M605.52 38.4v1.0M608.73 153.3v-1.0M608.73 38.4v1.0M611.60 153.3v-1.9M611.60 38.4v1.9M630.47 153.3v-1.0M630.47 38.4v1.0M641.52 153.3v-1.0M641.52 38.4v1.0M649.35 153.3v-1.0M649.35 38.4v1.0M655.43 153.3v-1.0M655.43 38.4v1.0M660.39 153.3v-1.0M660.39 38.4v1.0M664.59 153.3v-1.0M664.59 38.4v1.0M668.22 153.3v-1.0M668.22 38.4v1.0M671.43 153.3v-1.0M671.43 38.4v1.0M486.2 38.50h1.9M674.3 38.50h-1.9M486.2 54.50h1.9M674.3 54.50h-1.9M486.2 71.50h1.9M674.3 71.50h-1.9M486.2 87.50h1.9M674.3 87.50h-1.9M486.2 104.50h1.9M674.3 104.50h-1.9M486.2 120.50h1.9M674.3 120.50h-1.9M486.2 137.50h1.9M674.3 137.50h-1.9M486.2 153.50h1.9M674.3 153.50h-1.9" class="tk"/>
<rect x="486.2" y="38.4" width="188.10" height="114.90" class="ax"/>
<text x="579.65" y="13.10" class="tt">Mechanomyography</text>
<text x="579.65" y="34.20" class="tt">Exiting</text>
<path d="M495.30 50.40h40.5" class="lr"/>
<path d="M495.30 68.90h40.5" class="lb"/>
<text x="539.30" y="56.20" class="lg">MPF Pre:  7.51 Hz</text>
<text x="539.30" y="74.80" class="lg">MPF Post: 7.74 Hz</text>
<path d="M58.90 202.4V317.4M69.96 202.4V317.4M77.81 202.4V317.4M83.90 202.4V317.4M88.87 202.4V317.4M93.07 202.4V317.4M96.71 202.4V317.4M99.93 202.4V317.4M121.70 202.4V317.4M132.76 202.4V317.4M140.61 202.4V317.4M146.70 202.4V317.4M151.67 202.4V317.4M155.87 202.4V317.4M159.51 202.4V317.4M162.73 202.4V317.4M184.50 202.4V317.4M195.56 202.4V317.4M203.41 202.4V317.4M209.50 202.4V317.4M214.47 202.4V317.4M218.67 202.4V317.4M222.31 202.4V317.4M225.53 202.4V317.4" class="mg"/>
<path d="M102.50 202.4V317.4M165.50 202.4V317.4M40.0 218.50H228.4M40.0 235.50H228.4M40.0 251.50H228.4M40.0 268.50H228.4M40.0 284.50H228.4M40.0 301.50H228.4" class="Mg"/>
<clipPath id="c10"><rect x="40.0" y="202.4" width="188.40" height="115.00"/></clipPath><g clip-path="url(#c10)">
<polygon points="40.0,317.4 96.0,317.4 98.4,315.2 100.0,313.5 102.2,305.0 102.8,302.8 104.2,299.0 104.9,293.0 105.8,299.0 106.6,302.1 107.7,304.0 110.0,306.4 111.3,306.0 112.9,306.6 114.9,306.5 115.6,299.9 116.8,302.0 117.6,295.0 118.1,293.2 118.5,302.0 120.3,292.0 120.3,292.7 121.2,300.0 122.4,301.9 123.9,302.0 124.3,303.0 126.1,298.2 127.8,300.1 128.5,303.5 129.4,300.5 130.9,304.5 132.1,303.0 132.3,301.5 133.7,303.4 134.9,300.2 135.7,301.0 136.2,299.2 137.4,296.5 137.5,296.0 138.4,285.0 138.5,282.3 139.4,250.0 139.6,246.6 140.2,238.4 140.6,243.8 141.0,250.0 141.6,264.6 142.0,272.0 142.6,276.7 143.5,282.6 143.8,283.0 144.4,284.4 145.3,284.4 146.1,290.6 146.5,292.0 147.0,292.4 147.8,290.1 148.4,288.0 148.5,285.1 149.2,280.3 149.3,281.1 150.0,291.8 150.1,292.0 150.7,283.1 151.1,297.0 151.4,296.9 152.1,296.6 152.8,299.3 153.4,299.9 154.1,297.2 154.7,296.1 154.7,299.5 155.3,299.5 155.9,299.9 156.5,299.6 157.0,295.8 157.6,300.0 158.1,298.3 158.3,300.0 158.6,295.8 159.2,300.8 159.7,298.0 160.0,300.0 160.2,301.0 160.7,299.4 161.2,298.6 161.6,299.9 162.1,298.9 162.6,298.5 163.0,297.0 163.3,297.0 163.5,298.2 163.9,297.9 164.3,297.4 164.8,302.1 165.0,303.0 165.2,295.7 165.6,298.1 166.0,302.0 166.4,300.9 166.8,302.5 167.2,299.0 167.6,301.6 168.0,301.1 168.3,299.4 168.7,292.1 169.1,300.2 169.4,299.6 169.5,299.0 169.8,300.8 170.1,302.8 170.5,304.1 170.8,304.1 171.1,306.5 171.1,306.5 171.5,302.2 171.8,305.9 172.1,306.6 172.4,307.5 172.8,306.8 173.1,306.1 173.4,305.6 173.4,306.0 173.7,306.0 174.0,301.9 174.3,304.0 174.6,305.8 174.9,298.7 175.2,306.7 175.5,307.3 175.7,309.2 176.0,308.6 176.3,311.0 176.6,307.4 176.7,310.5 176.8,311.6 177.1,309.7 177.4,310.3 177.6,311.4 177.9,310.2 178.2,309.3 178.4,312.3 178.7,308.7 178.9,311.0 179.2,311.8 179.4,311.1 179.7,311.5 179.9,309.5 180.1,312.5 180.2,312.9 180.4,313.3 180.6,310.8 180.9,313.1 181.1,311.7 181.3,310.8 181.6,313.6 181.8,312.6 182.0,313.6 182.2,313.4 182.5,312.4 182.7,314.2 182.9,312.4 183.1,314.1 183.3,313.9 183.5,314.3 183.7,314.0 184.0,314.5 184.2,313.2 184.4,315.0 184.5,314.6 184.6,314.3 184.8,314.6 185.0,313.9 185.2,314.9 185.4,315.1 185.6,314.1 185.8,315.5 186.0,315.2 186.2,315.0 186.3,315.1 186.5,315.3 186.7,314.5 186.9,315.3 187.1,314.5 187.3,315.9 187.5,315.9 187.7,315.5 187.8,314.3 188.0,316.0 188.2,316.1 188.4,316.1 188.6,315.8 188.7,316.0 188.9,315.9 189.0,316.2 189.1,315.5 189.2,316.1 189.4,316.4 189.6,316.1 189.8,316.4 189.9,316.5 190.1,315.9 190.3,316.4 190.4,316.4 190.6,316.4 190.8,316.5 190.9,316.6 191.1,316.5 191.2,316.0 191.4,316.6 191.6,316.7 191.7,316.2 191.9,316.7 192.0,316.8 192.2,316.7 192.3,316.4 192.5,316.6 192.6,316.8 192.8,316.8 192.9,316.8 193.1,316.7 193.2,316.6 193.4,316.5 193.5,316.8 193.7,316.8 193.8,316.9 194.0,316.9 194.1,316.9 194.3,316.9 194.4,317.0 194.5,317.0 194.7,317.0 194.8,317.1 195.0,317.0 195.1,317.1 195.2,317.0 195.4,317.1 195.5,317.2 195.7,317.0 195.8,317.2 195.9,317.2 196.0,317.2 196.1,317.2 196.2,317.1 196.3,317.2 196.5,317.2 196.6,317.2 196.7,317.2 196.9,317.2 197.0,317.2 197.1,317.2 197.2,317.2 197.4,317.2 197.5,317.2 197.6,317.0 197.7,317.2 197.9,317.2 198.0,317.0 198.1,317.2 198.2,317.2 198.4,317.2 198.5,317.2 198.6,317.1 198.7,317.1 198.9,317.2 199.0,317.1 199.1,317.2 199.2,317.2 199.3,317.2 199.5,317.2 199.6,317.2 199.7,317.1 199.8,317.2 199.9,317.3 200.0,317.2 200.2,317.2 200.3,317.2 200.4,317.2 200.5,317.2 200.6,317.2 200.7,317.3 200.8,317.3 200.9,317.2 201.1,317.2 201.2,317.1 201.3,317.2 201.4,317.1 201.5,317.3 201.6,317.3 201.7,317.2 201.8,317.2 201.9,317.2 202.0,317.2 202.2,317.2 202.3,317.2 202.4,317.2 202.5,317.3 202.6,317.2 202.7,317.3 202.8,317.2 202.9,317.2 203.0,317.2 203.1,317.2 203.2,317.3 203.3,317.3 203.4,317.1 203.5,317.3 203.6,317.3 203.7,317.3 203.8,317.3 203.9,317.3 204.0,317.2 204.1,317.3 204.2,317.3 204.3,317.3 204.4,317.2 204.5,317.3 204.6,317.3 204.7,317.3 204.8,317.3 204.9,317.2 205.0,317.1 205.1,317.3 205.2,317.2 205.3,317.3 205.4,317.3 205.5,317.3 205.6,317.2 205.7,317.1 205.8,317.3 205.9,317.2 205.9,317.3 206.0,317.3 206.1,317.3 206.2,317.2 206.3,317.2 206.4,317.3 206.5,317.2 206.6,317.1 206.7,317.3 206.8,317.3 206.9,317.3 207.0,317.2 207.0,317.3 207.1,317.3 207.2,317.3 207.3,317.2 207.4,317.2 207.5,317.3 207.6,317.3 207.7,317.3 207.7,317.3 207.8,317.2 207.9,317.3 208.0,317.2 208.1,317.3 208.2,317.3 208.3,317.3 208.4,317.3 208.4,317.3 208.5,317.2 208.6,317.3 208.7,317.3 208.8,317.3 208.9,317.3 208.9,317.3 209.0,317.2 209.1,317.2 209.2,317.2 209.3,317.3 209.4,317.2 209.4,317.3 209.5,317.3 209.6,317.3 209.7,317.3 209.8,317.2 209.8,317.3 209.9,317.3 210.0,317.3 210.1,317.3 210.2,317.3 210.2,317.2 210.3,317.3 210.4,317.3 210.5,317.3 210.6,317.3 210.6,317.3 210.7,317.3 210.8,317.2 210.9,317.3 211.0,317.3 211.0,317.3 211.1,317.3 211.2,317.3 211.3,317.3 211.3,317.2 211.4,317.3 211.5,317.3 211.6,317.2 211.6,317.3 211.7,317.3 211.8,317.3 211.9,317.3 211.9,317.3 212.0,317.3 212.1,317.3 212.2,317.3 212.2,317.3 212.3,317.3 212.4,317.2 212.5,317.3 212.5,317.3 212.6,317.3 212.7,317.2 212.8,317.3 212.8,317.3 212.9,317.3 213.0,317.3 213.0,317.3 213.1,317.3 213.2,317.3 213.3,317.3 213.3,317.3 213.4,317.3 213.5,317.3 213.5,317.3 213.6,317.3 213.7,317.3 213.8,317.3 213.8,317.3 213.9,317.2 214.0,317.3 214.0,317.3 214.1,317.3 214.2,317.3 214.2,317.3 214.3,317.3 214.4,317.3 214.4,317.3 214.5,317.3 214.6,317.3 214.6,317.3 214.7,317.3 214.8,317.2 214.9,317.3 214.9,317.3 215.0,317.3 215.1,317.3 215.1,317.3 215.2,317.3 215.3,317.3 215.3,317.3 215.4,317.3 215.5,317.3 215.5,317.3 215.6,317.3 215.6,317.3 215.7,317.3 215.8,317.3 215.8,317.3 215.9,317.3 216.0,317.3 216.0,317.3 216.1,317.3 216.2,317.3 216.2,317.3 216.3,317.3 216.4,317.3 216.4,317.3 216.5,317.3 216.5,317.3 216.6,317.3 216.7,317.3 216.7,317.3 216.8,317.3 216.9,317.3 216.9,317.3 217.0,317.3 217.0,317.3 217.1,317.3 217.2,317.3 217.2,317.3 217.3,317.3 217.4,317.3 217.4,317.3 217.5,317.3 217.5,317.3 217.6,317.3 217.7,317.3 217.7,317.3 217.8,317.3 217.8,317.3 217.9,317.3 218.0,317.3 218.0,317.3 218.1,317.3 218.1,317.3 218.2,317.3 218.3,317.3 218.3,317.3 218.4,317.3 218.4,317.3 218.5,317.3 218.6,317.3 218.6,317.3 218.7,317.3 218.7,317.3 218.8,317.3 218.8,317.3 218.9,317.4 219.0,317.3 219.0,317.3 219.1,317.3 219.1,317.3 219.2,317.3 219.3,317.3 219.3,317.3 219.4,317.3 219.4,317.4 219.5,317.3 219.5,317.3 219.6,317.3 219.6,317.3 219.7,317.3 219.8,317.4 219.8,317.3 219.9,317.3 219.9,317.3 220.0,317.3 220.0,317.4 220.1,317.3 220.2,317.3 220.2,317.4 220.3,317.4 220.3,317.3 220.4,317.3 220.4,317.4 220.5,317.4 220.5,317.3 220.6,317.3 220.6,317.3 220.7,317.4 220.9,317.4 221.0,317.3 221.0,317.3 221.1,317.4 221.2,317.4 221.2,317.3 221.3,317.4 221.3,317.4 221.4,317.3 221.4,317.3 221.5,317.4 221.6,317.3 221.6,317.4 221.8,317.4 221.8,317.3 221.9,317.4 222.0,317.4 222.0,317.3 222.1,317.4 222.1,317.4 222.2,317.3 222.2,317.4 223.2,317.4 223.2,317.3 223.3,317.4 223.3,317.3 223.4,317.4 223.6,317.4 223.6,317.3 223.7,317.3 223.7,317.3 223.8,317.4 225.2,317.4 225.2,317.3 225.3,317.4 228.4,317.4 228.4,317.4 199.0,317.4 198.9,317.4 198.9,317.4 198.9,317.4 198.8,317.4 198.7,317.4 198.7,317.4 198.7,317.4 198.6,317.4 198.6,317.4 198.5,317.4 198.5,317.4 198.5,317.4 198.4,317.4 198.4,317.4 198.3,317.4 198.3,317.4 198.2,317.4 198.2,317.4 198.2,317.4 198.1,317.4 198.1,317.4 198.0,317.4 198.0,317.4 198.0,317.4 197.9,317.4 197.9,317.4 197.8,317.4 197.8,317.4 197.7,317.4 197.7,317.4 197.7,317.4 197.6,317.4 197.6,317.4 197.5,317.4 197.5,317.4 197.5,317.4 197.4,317.4 197.4,317.4 197.3,317.4 197.3,317.4 197.2,317.4 197.2,317.4 197.2,317.4 197.1,317.4 197.1,317.4 197.0,317.4 197.0,317.4 196.9,317.4 196.9,317.4 196.9,317.4 196.8,317.4 196.8,317.4 196.7,317.4 196.7,317.4 196.6,317.4 196.6,317.4 196.5,317.4 196.5,317.4 196.5,317.4 196.4,317.4 196.4,317.4 196.3,317.4 196.3,317.4 196.2,317.4 196.2,317.4 196.1,317.4 196.1,317.4 196.1,317.4 196.0,317.4 196.0,317.4 195.9,317.4 195.9,317.4 195.8,317.4 195.8,317.4 195.7,317.4 195.7,317.4 195.7,317.4 195.6,317.4 195.6,317.4 195.5,317.4 195.5,317.4 195.4,317.4 195.4,317.4 195.3,317.4 195.3,317.4 195.2,317.4 195.2,317.4 195.2,317.4 195.1,317.4 195.1,317.4 195.0,317.4 195.0,317.4 194.9,317.4 194.9,317.4 194.8,317.4 194.8,317.4 194.7,317.4 194.7,317.4 194.6,317.4 194.6,317.4 194.5,317.4 194.5,317.4 194.4,317.4 194.4,317.4 194.4,317.4 194.3,317.4 194.3,317.4 194.2,317.4 194.2,317.4 194.1,317.4 194.1,317.4 194.0,317.4 194.0,317.4 193.9,317.4 193.9,317.4 193.8,317.4 193.8,317.4 193.7,317.4 193.7,317.4 193.6,317.4 193.6,317.4 193.5,317.4 193.5,317.4 193.4,317.4 193.4,317.4 193.4,317.4 193.3,317.4 193.3,317.4 193.2,317.4 193.2,317.4 193.1,317.4 193.1,317.4 193.0,317.4 193.0,317.4 192.9,317.4 192.9,317.4 192.8,317.4 192.8,317.4 192.7,317.4 192.7,317.4 192.6,317.4 192.6,317.4 192.5,317.4 192.5,317.4 192.4,317.4 192.4,317.4 192.3,317.4 192.3,317.4 192.2,317.4 192.2,317.4 192.1,317.4 192.1,317.4 192.0,317.4 192.0,317.4 191.9,317.4 191.9,317.4 191.8,317.4 191.8,317.4 191.7,317.4 191.7,317.4 191.6,317.4 191.6,317.4 191.5,317.4 191.4,317.4 191.4,317.4 191.3,317.4 191.3,317.4 191.2,317.4 191.2,317.4 191.1,317.4 191.1,317.4 191.0,317.4 191.0,317.4 190.9,317.4 190.9,317.4 190.8,317.4 190.8,317.4 190.7,317.4 190.6,317.4 190.6,317.4 190.5,317.4 190.5,317.4 190.4,317.4 190.4,317.4 190.3,317.4 190.3,317.4 190.2,317.4 190.2,317.4 190.1,317.4 190.0,317.4 190.0,317.4 189.9,317.4 189.9,317.4 189.8,317.4 189.8,317.4 189.7,317.4 189.6,317.4 189.6,317.4 189.5,317.4 189.5,317.4 189.4,317.4 189.4,317.4 189.3,317.4 189.2,317.4 189.2,317.4 189.1,317.4 189.1,317.4 189.0,317.4 189.0,317.4 188.9,317.4 188.8,317.4 188.8,317.4 188.7,317.4 188.7,317.4 188.6,317.4 188.6,317.4 188.5,317.4 188.4,317.4 188.4,317.4 188.3,317.4 188.3,317.4 188.2,317.4 188.1,317.4 188.1,317.4 188.0,317.4 188.0,317.4 187.9,317.4 187.8,317.4 187.8,317.4 187.7,317.4 187.7,317.4 187.6,317.4 187.5,317.4 187.5,317.4 187.4,317.4 187.4,317.4 187.3,317.4 187.2,317.4 187.2,317.4 187.1,317.4 187.0,317.4 187.0,317.4 186.9,317.4 186.9,317.4 186.8,317.4 186.8,317.4 186.7,317.4 186.7,317.4 186.6,317.4 186.5,317.4 186.5,317.4 186.4,317.4 186.3,317.3 186.3,317.4 186.2,317.4 186.2,317.4 186.1,317.4 186.0,317.4 186.0,317.4 185.9,317.4 185.8,317.3 185.8,317.4 185.7,317.3 185.6,317.3 185.6,317.4 185.5,317.4 185.4,317.2 185.4,317.2 185.3,317.0 185.2,317.3 185.2,317.2 185.1,317.1 185.0,317.3 185.0,317.1 184.9,317.3 184.8,317.1 184.8,317.2 184.7,317.4 184.6,317.0 184.6,317.2 184.5,317.3 184.4,317.1 184.4,317.1 184.3,316.9 184.2,317.4 184.2,317.0 184.1,317.1 184.0,317.1 184.0,317.2 183.9,316.9 183.8,316.9 183.7,316.8 183.7,317.1 183.6,317.0 183.5,316.7 183.5,316.7 183.4,317.0 183.3,317.0 183.2,316.9 183.2,316.7 183.1,316.7 183.0,316.7 183.0,316.9 182.9,316.9 182.8,316.7 182.7,316.7 182.7,316.6 182.6,316.4 182.5,317.1 182.5,316.8 182.4,316.4 182.3,316.9 182.3,316.7 182.2,316.8 182.2,316.7 182.1,316.8 182.0,316.3 181.9,316.5 181.9,316.8 181.8,316.4 181.7,316.4 181.6,316.4 181.6,316.3 181.5,316.6 181.4,316.1 181.3,316.5 181.2,316.6 181.2,316.5 181.1,316.5 181.0,316.2 180.9,316.3 180.9,316.3 180.8,316.2 180.7,316.5 180.6,316.1 180.5,316.6 180.5,316.2 180.4,316.2 180.3,316.0 180.2,315.8 180.2,316.1 180.1,316.1 180.0,316.9 179.9,316.8 179.8,316.1 179.7,316.1 179.7,315.9 179.6,316.2 179.5,316.2 179.4,315.9 179.3,315.8 179.3,315.8 179.2,316.1 179.1,315.9 179.0,316.0 178.9,316.0 178.8,316.0 178.8,316.1 178.7,316.0 178.6,315.8 178.5,315.7 178.4,316.3 178.3,316.1 178.2,315.9 178.2,316.2 178.1,315.8 178.0,315.7 177.9,316.1 177.8,315.4 177.8,315.6 177.7,315.2 177.6,315.1 177.6,315.5 177.5,314.8 177.4,315.5 177.3,315.9 177.2,315.1 177.1,315.5 177.0,315.3 176.9,315.6 176.8,315.5 176.7,315.5 176.7,315.2 176.6,315.6 176.5,315.1 176.4,314.9 176.3,314.3 176.2,314.8 176.1,314.8 176.0,314.5 175.9,314.1 175.8,315.4 175.7,316.0 175.6,314.6 175.5,315.4 175.5,315.1 175.4,315.0 175.3,315.3 175.2,315.1 175.1,315.1 175.0,314.7 174.9,313.6 174.8,314.1 174.7,314.6 174.6,314.0 174.5,314.4 174.5,314.7 174.4,314.7 174.3,314.4 174.2,313.7 174.1,314.8 174.0,313.7 173.9,315.0 173.8,314.5 173.7,313.8 173.6,314.0 173.5,314.5 173.4,314.5 173.3,314.4 173.2,313.5 173.1,314.5 173.0,313.9 172.9,314.0 172.8,314.0 172.7,313.5 172.5,315.1 172.4,313.7 172.3,313.7 172.2,313.7 172.1,312.9 172.0,314.2 171.9,313.7 171.8,313.6 171.7,313.4 171.6,313.7 171.5,313.5 171.4,312.9 171.2,312.3 171.1,314.1 171.1,313.3 171.0,313.2 170.9,312.4 170.8,314.1 170.7,313.4 170.6,312.0 170.5,312.3 170.3,312.8 170.2,312.1 170.1,312.4 170.0,312.4 169.9,311.5 169.8,310.9 169.6,311.1 169.5,311.0 169.4,311.4 169.3,311.3 169.2,311.7 169.1,311.6 168.9,311.4 168.9,311.1 168.8,312.5 168.7,311.9 168.6,311.1 168.4,310.6 168.3,311.8 168.2,312.3 168.1,311.4 168.0,310.7 167.8,311.0 167.7,310.2 167.6,311.4 167.4,311.9 167.3,311.6 167.2,311.0 167.1,310.8 166.9,311.9 166.8,311.8 166.7,311.5 166.7,311.7 166.5,310.3 166.4,312.0 166.3,313.0 166.1,309.8 166.0,310.2 165.9,312.3 165.7,308.7 165.6,309.8 165.5,308.0 165.3,307.8 165.2,309.2 165.0,305.5 164.9,308.6 164.8,308.2 164.6,309.1 164.5,307.8 164.5,308.0 164.3,306.4 164.2,307.4 164.1,306.8 163.9,305.8 163.8,305.7 163.6,308.2 163.5,308.9 163.3,307.1 163.2,307.3 163.0,309.4 162.9,306.7 162.7,308.2 162.6,308.9 162.4,310.8 162.3,308.9 162.2,308.3 162.1,309.6 162.0,310.0 161.8,308.5 161.6,306.4 161.5,308.4 161.3,308.2 161.2,309.9 161.0,308.5 160.8,307.9 160.7,308.6 160.5,309.2 160.4,310.0 160.2,310.5 160.1,309.5 160.0,310.5 159.9,310.0 159.7,307.0 159.5,307.3 159.3,309.3 159.2,309.5 159.0,309.3 158.8,308.4 158.6,309.5 158.5,309.6 158.3,311.7 158.1,307.4 157.9,307.8 157.8,309.9 157.6,307.7 157.4,306.4 157.2,310.6 157.0,309.3 156.8,309.3 156.6,308.3 156.5,308.4 156.5,309.5 156.3,307.5 156.1,306.9 155.9,307.8 155.7,309.1 155.5,308.4 155.3,308.1 155.1,308.0 154.9,308.6 154.7,305.4 154.5,308.1 154.3,307.8 154.1,309.6 153.9,307.0 153.6,305.1 153.4,308.3 153.2,305.2 153.0,303.9 152.9,306.6 152.8,306.4 152.6,303.9 152.3,304.9 152.1,304.3 151.9,305.8 151.7,306.4 151.4,303.5 151.2,304.1 151.0,303.0 150.7,300.7 150.5,302.6 150.3,302.3 150.2,303.0 150.0,302.2 149.8,301.0 149.5,301.6 149.3,302.1 149.0,300.0 148.8,300.3 148.5,301.5 148.3,301.1 148.0,299.3 147.8,297.9 147.5,299.8 147.4,297.6 147.2,297.0 147.0,298.4 146.7,296.3 146.4,298.2 146.1,300.1 145.9,299.7 145.6,299.8 145.3,299.0 145.0,297.7 144.7,301.0 144.7,299.4 144.4,295.7 144.1,300.3 143.8,296.0 143.5,292.7 143.2,294.8 142.9,294.0 142.9,293.7 142.6,292.5 142.3,290.4 141.9,287.5 141.7,284.9 141.6,283.8 141.3,282.5 140.9,279.8 140.6,280.1 140.3,276.7 140.2,274.1 139.9,275.5 139.6,282.5 139.2,287.8 138.8,291.7 138.5,297.1 138.4,297.6 138.1,298.0 137.7,303.1 137.4,304.6 137.0,304.1 136.6,306.6 136.6,308.0 136.2,307.3 135.8,305.7 135.4,308.9 134.9,309.0 134.5,309.3 134.1,306.7 133.7,309.1 133.2,308.2 133.0,308.4 132.8,308.5 132.3,308.7 131.8,307.4 131.4,308.0 130.9,307.6 130.4,308.3 129.9,305.9 129.4,307.5 129.4,308.3 128.9,306.5 128.3,306.7 127.8,307.1 127.2,305.0 126.7,307.5 126.1,306.5 125.7,308.4 125.5,308.6 124.9,309.0 124.3,306.0 123.7,308.1 123.0,304.3 122.4,305.5 122.1,304.8 121.7,308.1 121.0,305.1 120.3,305.3 119.6,307.3 119.4,305.7 118.8,308.9 118.1,305.1 117.3,304.7 116.7,306.6 116.5,306.6 115.6,309.7 114.8,310.3 113.9,310.6 113.1,311.2 112.9,311.5 112.0,311.2 111.0,311.2 110.0,312.3 109.5,311.2 108.9,311.1 107.8,308.6 106.8,306.6 106.6,305.1 105.4,303.6 104.9,303.4 104.1,304.9 102.8,306.6 102.2,308.4 101.4,311.0 99.9,314.8 99.5,315.7 98.4,316.4 96.7,317.4 95.0,317.4 40.0,317.4" class="pb"/>
<polygon points="40.0,317.4 97.0,317.4 98.4,316.0 101.0,313.0 102.8,306.5 104.9,301.0 106.6,304.7 107.0,305.0 110.0,308.7 110.0,308.0 112.9,307.2 113.0,307.0 115.6,303.4 116.0,304.0 118.1,304.4 119.0,303.0 120.3,304.2 122.0,301.0 122.4,300.3 124.3,301.1 125.0,304.0 126.1,303.9 127.8,303.5 129.4,303.2 130.0,303.0 130.9,297.3 132.3,299.6 133.7,304.0 134.0,302.0 134.9,292.1 136.2,300.5 137.0,298.0 137.4,297.3 138.5,286.2 139.0,285.0 139.6,277.9 140.6,268.0 140.6,266.1 141.6,276.1 142.0,280.0 142.6,284.8 143.5,285.6 144.0,294.0 144.4,295.7 145.3,288.6 146.1,295.0 147.0,296.3 147.0,296.0 147.8,287.9 148.5,299.2 149.3,295.3 150.0,299.0 150.0,292.3 150.7,297.8 151.4,287.6 152.1,302.5 152.8,303.2 153.4,298.2 154.0,303.0 154.1,295.5 154.7,301.5 155.3,303.8 155.9,294.6 156.5,305.9 157.0,302.9 157.6,304.2 158.0,305.0 158.1,306.4 158.6,306.7 159.2,306.4 159.7,306.7 160.2,306.8 160.7,306.4 161.2,307.7 161.6,302.0 162.0,307.0 162.1,304.2 162.6,303.7 163.0,308.8 163.5,306.9 163.9,307.1 164.3,309.5 164.8,302.2 165.2,309.6 165.6,308.1 166.0,309.0 166.0,309.3 166.4,309.3 166.8,307.3 167.2,310.4 167.6,309.5 168.0,310.1 168.3,308.6 168.7,309.4 169.1,310.2 169.4,310.0 169.8,311.8 170.0,311.0 170.1,311.0 170.5,307.8 170.8,310.5 171.1,308.7 171.5,308.1 171.8,310.9 172.1,312.1 172.4,312.2 172.8,312.2 173.1,312.8 173.4,310.5 173.7,308.0 174.0,313.2 174.3,308.1 174.6,312.2 174.9,312.6 175.0,313.0 175.2,309.2 175.5,312.5 175.7,313.4 176.0,313.1 176.3,312.8 176.6,312.7 176.8,314.0 177.1,314.0 177.4,312.5 177.6,313.9 177.9,314.2 178.2,314.2 178.4,313.9 178.7,313.4 178.9,314.6 179.2,314.7 179.4,312.0 179.7,314.5 179.9,314.2 180.2,314.6 180.4,314.9 180.6,313.6 180.9,315.1 181.0,315.0 181.1,315.1 181.3,314.5 181.6,314.9 181.8,314.6 182.0,315.0 182.2,315.6 182.5,315.6 182.7,314.8 182.9,315.6 183.1,315.2 183.3,315.4 183.5,315.8 183.7,315.4 184.0,315.9 184.2,315.3 184.4,315.0 184.6,315.7 184.8,316.2 185.0,316.2 185.2,316.0 185.4,316.0 185.6,316.2 185.8,316.0 186.0,315.9 186.2,316.4 186.3,316.2 186.5,316.5 186.7,316.4 186.9,316.3 187.1,316.5 187.3,316.6 187.5,316.6 187.7,316.8 187.8,316.6 188.0,316.8 188.0,316.8 188.2,316.7 188.4,316.9 188.6,316.8 188.7,316.6 188.9,316.8 189.1,316.8 189.2,316.7 189.4,316.4 189.6,316.6 189.8,316.8 189.9,316.9 190.1,316.9 190.3,316.9 190.4,316.6 190.6,316.9 190.8,316.8 190.9,316.9 191.1,317.0 191.2,316.8 191.4,316.9 191.6,316.8 191.7,316.9 191.9,316.8 192.0,317.0 192.2,317.0 192.3,317.1 192.5,316.9 192.6,316.9 192.8,316.9 192.9,317.1 193.1,317.1 193.2,316.9 193.4,317.0 193.5,317.0 193.7,317.0 193.8,317.1 194.0,317.1 194.1,317.0 194.3,317.1 194.4,316.8 194.5,317.2 194.7,317.1 194.8,317.2 195.0,317.2 195.1,317.1 195.2,317.2 195.4,317.1 195.5,317.2 195.7,317.2 195.8,317.2 195.9,317.2 196.1,317.1 196.2,317.1 196.3,317.2 196.5,317.2 196.6,317.2 196.7,317.2 196.9,317.2 197.0,317.2 197.1,317.3 197.2,317.3 197.4,317.2 197.5,317.3 197.6,317.3 197.7,317.3 197.9,317.2 198.0,317.2 198.1,317.3 198.2,317.3 198.4,317.3 198.5,317.3 198.6,317.3 198.7,317.3 198.9,317.4 199.0,317.3 199.1,317.3 199.2,317.4 228.4,317.4 228.4,317.4 213.3,317.4 213.2,317.4 213.2,317.4 213.0,317.4 212.9,317.4 212.9,317.4 212.7,317.4 212.7,317.4 212.6,317.4 212.5,317.4 212.5,317.4 212.4,317.4 212.4,317.4 212.4,317.4 212.3,317.4 211.8,317.4 211.7,317.4 211.7,317.4 211.7,317.4 211.7,317.4 211.6,317.4 211.6,317.4 211.5,317.4 211.5,317.4 211.4,317.4 211.3,317.4 211.3,317.4 211.3,317.4 211.2,317.4 211.2,317.4 211.1,317.4 211.1,317.4 211.0,317.4 211.0,317.4 211.0,317.4 211.0,317.4 210.9,317.4 210.9,317.4 210.9,317.4 210.9,317.4 210.8,317.4 210.8,317.4 210.7,317.4 210.7,317.4 210.7,317.4 210.6,317.4 210.6,317.4 210.5,317.4 210.5,317.4 210.5,317.4 210.5,317.4 210.4,317.4 210.4,317.4 210.4,317.4 210.4,317.4 210.3,317.4 210.3,317.4 210.2,317.4 210.2,317.4 210.2,317.4 210.2,317.4 210.0,317.4 210.0,317.4 210.0,317.4 210.0,317.4 209.9,317.4 209.9,317.4 209.9,317.4 209.8,317.4 209.8,317.4 209.8,317.4 209.8,317.4 209.7,317.4 209.7,317.4 209.7,317.4 209.7,317.4 209.6,317.4 209.6,317.4 209.6,317.4 209.5,317.4 209.5,317.4 209.5,317.4 209.5,317.4 209.4,317.4 209.4,317.4 209.4,317.4 209.4,317.4 209.3,317.4 209.3,317.4 209.3,317.4 209.2,317.4 209.2,317.4 209.2,317.4 209.2,317.4 209.1,317.4 209.1,317.4 209.1,317.4 209.0,317.4 209.0,317.4 209.0,317.4 208.9,317.4 208.9,317.4 208.9,317.4 208.9,317.4 208.8,317.4 208.8,317.4 208.8,317.4 208.7,317.4 208.7,317.4 208.7,317.4 208.7,317.4 208.6,317.4 208.6,317.4 208.6,317.4 208.6,317.4 208.5,317.4 208.5,317.4 208.5,317.4 208.4,317.4 208.4,317.4 208.4,317.4 208.4,317.4 208.3,317.4 208.3,317.4 208.3,317.4 208.2,317.4 208.2,317.4 208.2,317.4 208.2,317.4 208.1,317.4 208.1,317.4 208.1,317.4 208.0,317.4 208.0,317.4 208.0,317.4 208.0,317.4 207.9,317.4 207.9,317.4 207.9,317.4 207.8,317.4 207.8,317.4 207.8,317.4 207.7,317.4 207.7,317.4 207.7,317.4 207.7,317.4 207.6,317.4 207.6,317.4 207.6,317.4 207.5,317.4 207.5,317.4 207.5,317.4 207.5,317.4 207.4,317.4 207.4,317.4 207.4,317.4 207.3,317.4 207.3,317.4 207.3,317.4 207.3,317.4 207.2,317.4 207.2,317.4 207.2,317.4 207.1,317.4 207.1,317.4 207.1,317.4 207.0,317.4 207.0,317.4 207.0,317.4 207.0,317.4 206.9,317.4 206.9,317.4 206.9,317.4 206.8,317.4 206.8,317.4 206.8,317.4 206.7,317.4 206.7,317.4 206.7,317.4 206.7,317.4 206.6,317.4 206.6,317.4 206.6,317.4 206.5,317.4 206.5,317.4 206.5,317.4 206.4,317.4 206.4,317.4 206.4,317.4 206.3,317.4 206.3,317.4 206.3,317.4 206.3,317.4 206.2,317.4 206.2,317.4 206.2,317.4 206.1,317.4 206.1,317.4 206.1,317.4 206.0,317.4 206.0,317.4 206.0,317.4 205.9,317.4 205.9,317.4 205.9,317.4 205.9,317.4 205.8,317.4 205.8,317.4 205.8,317.4 205.7,317.4 205.7,317.4 205.7,317.4 205.6,317.4 205.6,317.4 205.6,317.4 205.5,317.4 205.5,317.4 205.5,317.4 205.4,317.4 205.4,317.4 205.4,317.4 205.4,317.4 205.3,317.4 205.3,317.4 205.3,317.4 205.2,317.4 205.2,317.4 205.2,317.4 205.1,317.4 205.1,317.4 205.1,317.4 205.0,317.4 205.0,317.4 205.0,317.4 204.9,317.4 204.9,317.4 204.9,317.4 204.8,317.4 204.8,317.4 204.8,317.4 204.7,317.4 204.7,317.4 204.7,317.4 204.6,317.4 204.6,317.4 204.6,317.4 204.5,317.4 204.5,317.4 204.5,317.4 204.4,317.4 204.4,317.4 204.4,317.4 204.3,317.4 204.3,317.4 204.3,317.4 204.2,317.4 204.2,317.4 204.2,317.4 204.1,317.4 204.1,317.4 204.1,317.4 204.0,317.4 204.0,317.4 204.0,317.4 203.9,317.4 203.9,317.4 203.9,317.4 203.8,317.4 203.8,317.4 203.8,317.4 203.7,317.4 203.7,317.4 203.7,317.4 203.6,317.4 203.6,317.4 203.6,317.4 203.5,317.4 203.5,317.4 203.5,317.4 203.4,317.4 203.4,317.4 203.4,317.4 203.3,317.4 203.3,317.4 203.3,317.4 203.2,317.4 203.2,317.4 203.2,317.4 203.1,317.4 203.1,317.4 203.1,317.4 203.0,317.4 203.0,317.4 203.0,317.4 202.9,317.4 202.9,317.4 202.9,317.4 202.8,317.4 202.8,317.4 202.8,317.4 202.7,317.4 202.7,317.4 202.6,317.4 202.6,317.4 202.6,317.4 202.5,317.4 202.5,317.4 202.5,317.4 202.4,317.4 202.4,317.4 202.4,317.4 202.3,317.4 202.3,317.4 202.3,317.4 202.2,317.4 202.2,317.4 202.2,317.4 202.1,317.4 202.1,317.4 202.0,317.4 202.0,317.4 202.0,317.4 201.9,317.4 201.9,317.4 201.9,317.4 201.8,317.4 201.8,317.4 201.8,317.4 201.7,317.4 201.7,317.4 201.6,317.4 201.6,317.4 201.6,317.4 201.5,317.4 201.5,317.4 201.5,317.4 201.4,317.4 201.4,317.4 201.4,317.4 201.3,317.4 201.3,317.4 201.2,317.4 201.2,317.4 201.2,317.4 201.1,317.4 201.1,317.4 201.1,317.4 201.0,317.4 201.0,317.4 200.9,317.4 200.9,317.4 200.9,317.4 200.8,317.4 200.8,317.4 200.8,317.4 200.7,317.4 200.7,317.4 200.6,317.4 200.6,317.4 200.6,317.4 200.5,317.4 200.5,317.4 200.5,317.4 200.4,317.4 200.4,317.4 200.3,317.4 200.3,317.4 200.3,317.4 200.2,317.4 200.2,317.4 200.2,317.4 200.1,317.4 200.1,317.4 200.0,317.4 200.0,317.4 200.0,317.4 199.9,317.4 199.9,317.4 199.8,317.4 199.8,317.4 199.8,317.4 199.7,317.4 199.7,317.4 199.7,317.4 199.6,317.4 199.6,317.4 199.5,317.4 199.5,317.4 199.5,317.4 199.4,317.4 199.4,317.4 199.3,317.4 199.3,317.4 199.3,317.4 199.2,317.4 199.2,317.4 199.1,317.4 199.1,317.4 199.1,317.4 199.0,317.4 199.0,317.4 198.9,317.4 198.9,317.4 198.9,317.4 198.8,317.4 198.8,317.4 198.7,317.4 198.7,317.4 198.7,317.4 198.6,317.4 198.6,317.4 198.5,317.4 198.5,317.4 198.5,317.4 198.4,317.4 198.4,317.4 198.3,317.4 198.3,317.4 198.2,317.4 198.2,317.4 198.2,317.4 198.1,317.4 198.1,317.4 198.0,317.4 198.0,317.4 198.0,317.4 197.9,317.4 197.9,317.4 197.8,317.4 197.8,317.4 197.7,317.4 197.7,317.4 197.7,317.4 197.6,317.4 197.6,317.4 197.5,317.4 197.5,317.4 197.5,317.4 197.4,317.4 197.4,317.4 197.3,317.4 197.3,317.4 197.2,317.4 197.2,317.4 197.2,317.4 197.1,317.4 197.1,317.4 197.0,317.4 197.0,317.4 196.9,317.4 196.9,317.4 196.9,317.4 196.8,317.4 196.8,317.4 196.7,317.4 196.7,317.4 196.6,317.4 196.6,317.4 196.5,317.4 196.5,317.4 196.5,317.4 196.4,317.4 196.4,317.4 196.3,317.4 196.3,317.4 196.2,317.4 196.2,317.4 196.1,317.4 196.1,317.4 196.1,317.4 196.0,317.4 196.0,317.4 195.9,317.4 195.9,317.4 195.8,317.4 195.8,317.4 195.7,317.4 195.7,317.4 195.7,317.4 195.6,317.4 195.6,317.4 195.5,317.4 195.5,317.4 195.4,317.4 195.4,317.4 195.3,317.4 195.3,317.4 195.2,317.4 195.2,317.4 195.2,317.4 195.1,317.4 195.1,317.4 195.0,317.4 195.0,317.4 194.9,317.4 194.9,317.4 194.8,317.4 194.8,317.4 194.7,317.4 194.7,317.4 194.6,317.4 194.6,317.4 194.5,317.4 194.5,317.4 194.4,317.4 194.4,317.4 194.4,317.4 194.3,317.4 194.3,317.4 194.2,317.4 194.2,317.4 194.1,317.4 194.1,317.4 194.0,317.4 194.0,317.4 193.9,317.4 193.9,317.4 193.8,317.4 193.8,317.4 193.7,317.4 193.7,317.4 193.6,317.4 193.6,317.4 193.5,317.4 193.5,317.4 193.4,317.4 193.4,317.4 193.3,317.4 193.3,317.4 193.2,317.4 193.2,317.4 193.1,317.4 193.1,317.4 193.0,317.4 193.0,317.4 192.9,317.4 192.9,317.4 192.8,317.4 192.8,317.4 192.7,317.4 192.7,317.4 192.6,317.4 192.6,317.4 192.5,317.4 192.5,317.4 192.4,317.4 192.4,317.4 192.3,317.4 192.3,317.4 192.2,317.4 192.2,317.4 192.1,317.4 192.1,317.4 192.0,317.4 192.0,317.4 192.0,317.4 191.9,317.4 191.9,317.4 191.8,317.4 191.8,317.4 191.7,317.4 191.7,317.4 191.6,317.4 191.6,317.4 191.5,317.4 191.4,317.4 191.4,317.4 191.3,317.4 191.3,317.4 191.2,317.4 191.2,317.4 191.1,317.4 191.1,317.4 191.0,317.4 191.0,317.4 190.9,317.4 190.9,317.4 190.8,317.4 190.8,317.4 190.7,317.4 190.6,317.4 190.6,317.4 190.5,317.4 190.5,317.4 190.4,317.4 190.4,317.4 190.3,317.4 190.3,317.4 190.2,317.4 190.2,317.4 190.1,317.4 190.0,317.4 190.0,317.4 189.9,317.4 189.9,317.4 189.8,317.4 189.8,317.4 189.7,317.4 189.6,317.4 189.6,317.4 189.5,317.4 189.5,317.4 189.4,317.4 189.4,317.4 189.3,317.4 189.2,317.4 189.2,317.4 189.1,317.4 189.1,317.4 189.0,317.4 189.0,317.4 188.9,317.4 188.8,317.4 188.8,317.4 188.7,317.4 188.7,317.4 188.6,317.4 188.6,317.4 188.5,317.4 188.4,317.4 188.4,317.4 188.3,317.4 188.3,317.4 188.2,317.4 188.1,317.4 188.1,317.4 188.0,317.4 188.0,317.4 187.9,317.4 187.8,317.4 187.8,317.4 187.7,317.4 187.7,317.4 187.6,317.4 187.5,317.4 187.5,317.4 187.4,317.4 187.4,317.4 187.3,317.4 187.2,317.4 187.2,317.4 187.1,317.4 187.0,317.4 187.0,317.4 186.9,317.4 186.9,317.4 186.8,317.4 186.7,317.4 186.7,317.4 186.6,317.4 186.5,317.4 186.5,317.4 186.4,317.4 186.3,317.4 186.3,317.4 186.2,317.4 186.2,317.4 186.1,317.4 186.0,317.4 186.0,317.4 185.9,317.4 185.8,317.4 185.8,317.4 185.7,317.4 185.6,317.4 185.6,317.4 185.5,317.4 185.4,317.4 185.4,317.4 185.3,317.4 185.2,317.4 185.2,317.4 185.1,317.4 185.0,317.4 185.0,317.4 184.9,317.4 184.8,317.4 184.8,317.4 184.7,317.4 184.6,317.4 184.6,317.4 184.5,317.4 184.5,317.4 184.4,317.4 184.4,317.4 184.3,317.4 184.2,317.4 184.2,317.4 184.1,317.4 184.0,317.4 184.0,317.4 183.9,317.4 183.8,317.4 183.7,317.4 183.7,317.4 183.6,317.4 183.5,317.4 183.5,317.4 183.4,317.4 183.3,317.4 183.2,317.4 183.2,317.4 183.1,317.4 183.0,317.4 183.0,317.4 182.9,317.4 182.8,317.4 182.7,317.4 182.7,317.4 182.6,317.4 182.5,317.2 182.5,317.4 182.4,317.4 182.3,317.4 182.2,317.2 182.2,317.4 182.1,317.4 182.0,317.3 181.9,317.4 181.9,317.4 181.8,317.4 181.7,317.4 181.6,317.4 181.6,317.1 181.5,317.3 181.4,317.4 181.3,317.1 181.2,316.8 181.2,317.0 181.1,317.4 181.0,317.4 180.9,317.2 180.9,317.2 180.8,317.2 180.7,317.2 180.6,317.1 180.5,317.2 180.5,317.1 180.4,317.4 180.3,317.3 180.2,317.0 180.2,317.1 180.1,317.3 180.0,317.3 179.9,317.2 179.8,316.8 179.7,316.9 179.7,317.0 179.6,316.6 179.5,316.9 179.4,317.0 179.3,316.8 179.3,316.7 179.2,317.2 179.1,316.7 179.0,316.6 179.0,316.9 178.9,317.1 178.8,317.0 178.8,316.8 178.7,317.0 178.6,316.7 178.5,316.6 178.4,316.9 178.3,316.7 178.2,316.8 178.2,316.9 178.1,317.0 178.0,316.5 177.9,316.8 177.8,316.5 177.7,316.5 177.6,316.7 177.6,316.7 177.5,317.0 177.4,316.7 177.3,316.5 177.2,316.4 177.1,316.5 177.0,317.2 176.9,316.2 176.8,316.2 176.7,316.4 176.7,317.1 176.6,316.5 176.5,316.2 176.4,316.7 176.3,316.7 176.2,316.9 176.1,316.4 176.0,316.4 175.9,316.2 175.8,316.6 175.7,316.5 175.6,316.3 175.5,315.6 175.5,316.0 175.4,316.4 175.3,316.3 175.2,316.2 175.1,316.4 175.0,316.3 174.9,316.3 174.8,316.5 174.7,316.4 174.6,315.9 174.5,316.1 174.5,316.0 174.4,316.2 174.3,315.5 174.2,315.6 174.1,316.3 174.0,315.4 173.9,316.1 173.8,316.4 173.7,315.8 173.6,315.5 173.5,315.7 173.4,315.6 173.3,315.6 173.2,315.9 173.1,315.5 173.0,316.1 172.9,316.2 172.8,316.3 172.7,315.5 172.5,315.2 172.4,315.4 172.3,314.8 172.2,315.8 172.1,315.2 172.0,315.4 171.9,314.7 171.8,315.4 171.7,315.3 171.6,315.5 171.5,315.8 171.4,314.7 171.2,314.9 171.1,315.5 171.1,315.0 171.0,315.4 170.9,314.6 170.8,314.5 170.7,314.4 170.6,315.2 170.5,314.3 170.3,314.9 170.2,314.7 170.1,315.2 170.0,313.7 169.9,313.8 169.8,314.2 169.6,314.1 169.5,314.2 169.4,314.4 169.3,313.8 169.2,314.4 169.1,314.3 168.9,313.7 168.8,314.0 168.7,313.4 168.6,314.5 168.4,314.8 168.3,313.0 168.2,312.7 168.1,312.4 168.0,312.3 167.8,314.1 167.8,313.3 167.7,312.7 167.6,312.3 167.4,313.8 167.3,313.9 167.2,313.7 167.1,313.5 166.9,312.8 166.8,314.2 166.7,314.1 166.5,313.2 166.4,313.6 166.3,314.1 166.1,314.5 166.0,313.6 165.9,313.6 165.7,313.5 165.6,314.8 165.6,313.9 165.5,314.2 165.3,313.9 165.2,314.2 165.0,313.5 164.9,313.1 164.8,314.3 164.6,313.1 164.5,312.3 164.3,313.9 164.2,313.2 164.1,313.2 163.9,312.6 163.8,313.9 163.6,311.9 163.5,311.8 163.3,311.3 163.3,312.5 163.2,311.5 163.0,311.5 162.9,313.6 162.7,313.2 162.6,313.6 162.4,312.0 162.3,313.1 162.1,312.3 162.0,313.7 161.8,312.7 161.6,312.8 161.5,313.6 161.3,312.5 161.2,312.1 161.0,312.6 160.8,312.5 160.7,311.8 160.5,312.2 160.4,313.0 160.2,313.1 160.1,313.0 160.0,312.0 159.9,313.6 159.7,311.4 159.5,312.6 159.3,311.7 159.2,311.1 159.0,312.1 158.8,311.3 158.6,311.8 158.5,312.5 158.3,311.7 158.1,311.3 157.9,310.9 157.8,311.4 157.6,310.7 157.4,311.2 157.4,310.8 157.2,308.2 157.0,309.6 156.8,310.8 156.6,311.1 156.5,311.4 156.3,310.2 156.1,309.3 155.9,310.8 155.7,309.8 155.5,312.2 155.3,309.2 155.1,309.6 154.9,311.2 154.7,309.3 154.7,309.5 154.5,308.4 154.3,308.2 154.1,309.9 153.9,306.0 153.6,309.3 153.4,310.1 153.2,305.9 153.0,310.0 152.8,308.8 152.6,308.8 152.3,309.3 152.1,309.4 151.9,308.4 151.9,308.1 151.7,307.9 151.4,306.0 151.2,307.0 151.0,305.6 150.7,306.7 150.5,303.9 150.3,307.6 150.0,305.1 149.8,304.7 149.5,303.7 149.3,304.6 149.2,304.8 149.0,303.9 148.8,305.2 148.5,303.1 148.3,306.7 148.0,306.0 147.8,300.4 147.5,300.7 147.4,302.1 147.2,302.8 147.0,301.6 146.7,303.8 146.4,302.4 146.1,305.0 145.9,302.9 145.6,304.2 145.3,301.3 145.0,301.3 144.7,302.3 144.7,303.9 144.4,304.3 144.1,303.3 143.8,305.5 143.5,302.0 143.2,299.6 142.9,297.6 142.9,301.6 142.6,291.9 142.3,293.2 141.9,289.7 141.7,288.5 141.6,287.0 141.3,285.7 140.9,282.1 140.6,281.3 140.6,279.5 140.3,285.8 139.9,286.4 139.6,295.9 139.3,297.6 139.2,296.8 138.8,299.3 138.5,303.0 138.1,301.4 137.7,305.2 137.5,305.7 137.4,307.9 137.0,307.3 136.6,304.8 136.2,307.6 135.8,309.6 135.4,306.1 134.9,308.8 134.8,308.4 134.5,309.8 134.1,307.9 133.7,309.8 133.2,308.7 132.8,309.4 132.3,309.1 131.8,310.4 131.4,309.9 131.2,309.3 130.9,308.9 130.4,311.7 129.9,308.8 129.4,311.1 128.9,308.3 128.3,309.4 127.8,310.0 127.5,310.2 127.2,309.8 126.7,310.5 126.1,309.2 125.5,310.1 124.9,311.3 124.3,311.2 123.9,309.3 123.7,309.8 123.0,309.1 122.4,310.1 121.7,312.9 121.2,312.1 121.0,311.3 120.3,311.3 119.6,308.6 119.4,310.2 118.8,311.8 118.1,313.8 117.6,314.8 117.3,314.6 116.5,312.5 115.8,311.2 115.6,312.0 114.8,312.3 113.9,313.2 113.1,313.5 112.9,313.6 112.0,312.8 111.0,313.1 110.0,312.9 109.5,313.0 108.9,311.2 107.8,311.5 106.8,309.3 106.6,311.1 105.4,309.6 104.9,306.6 104.1,308.0 103.1,310.2 102.8,311.8 101.4,313.5 100.4,316.6 99.9,316.4 98.4,317.1 96.7,317.4 95.0,317.4 40.0,317.4" class="gb"/>
<polyline points="40.0,317.4 95.0,317.4 96.7,316.6 98.4,315.4 99.5,314.7 99.9,313.8 101.4,310.0 102.2,307.4 102.8,305.6 104.1,303.9 104.9,302.4 105.4,302.6 106.6,304.1 106.8,305.6 107.8,307.6 108.9,310.1 109.5,310.2 110.0,311.3 111.0,310.2 112.0,310.2 112.9,310.5 113.1,310.2 113.9,309.6 114.8,309.3 115.6,308.7 116.5,305.6 116.7,305.6 117.3,303.7 118.1,304.1 118.8,307.9 119.4,304.7 119.6,306.3 120.3,304.3 121.0,304.1 121.7,307.1 122.1,303.8 122.4,304.5 123.0,303.3 123.7,307.1 124.3,305.0 124.9,308.0 125.5,307.6 125.7,307.4 126.1,305.5 126.7,306.5 127.2,304.0 127.8,306.1 128.3,305.7 128.9,305.5 129.4,307.3 129.4,306.5 129.9,304.9 130.4,307.3 130.9,306.6 131.4,307.0 131.8,306.4 132.3,307.7 132.8,307.5 133.0,307.4 133.2,307.2 133.7,308.1 134.1,305.7 134.5,308.3 134.9,308.0 135.4,307.9 135.8,304.7 136.2,306.3 136.6,307.0 136.6,305.6 137.0,303.1 137.4,303.6 137.7,302.1 138.1,297.0 138.4,296.6 138.5,296.1 138.8,290.7 139.2,286.8 139.6,281.5 139.9,274.5 140.2,273.1 140.3,275.7 140.6,279.1 140.9,278.8 141.3,281.5 141.6,282.8 141.7,283.9 141.9,286.5 142.3,289.4 142.6,291.5 142.9,292.7 142.9,293.0 143.2,293.8 143.5,291.7 143.8,295.0 144.1,299.3 144.4,294.7 144.7,298.4 144.7,300.0 145.0,296.7 145.3,298.0 145.6,298.8 145.9,298.7 146.1,299.1 146.4,297.2 146.7,295.3 147.0,297.4 147.2,296.0 147.4,296.6 147.5,298.8 147.8,296.9 148.0,298.3 148.3,300.1 148.5,300.5 148.8,299.3 149.0,299.0 149.3,301.1 149.5,300.6 149.8,300.0 150.0,301.2 150.2,302.0 150.3,301.3 150.5,301.6 150.7,299.7 151.0,302.0 151.2,303.1 151.4,302.5 151.7,305.4 151.9,304.8 152.1,303.3 152.3,303.9 152.6,302.9 152.8,305.4 152.9,305.6 153.0,302.9 153.2,304.2 153.4,307.3 153.6,304.1 153.9,306.0 154.1,308.6 154.3,306.8 154.5,307.1 154.7,304.4 154.9,307.6 155.1,307.0 155.3,307.1 155.5,307.4 155.7,308.1 155.9,306.8 156.1,305.9 156.3,306.5 156.5,308.5 156.5,307.4 156.6,307.3 156.8,308.3 157.0,308.3 157.2,309.6 157.4,305.4 157.6,306.7 157.8,308.9 157.9,306.8 158.1,306.4 158.3,310.7 158.5,308.6 158.6,308.5 158.8,307.4 159.0,308.3 159.2,308.5 159.3,308.3 159.5,306.3 159.7,306.0 159.9,309.0 160.0,309.5 160.1,308.5 160.2,309.5 160.4,309.0 160.5,308.2 160.7,307.6 160.8,306.9 161.0,307.5 161.2,308.9 161.3,307.2 161.5,307.4 161.6,305.4 161.8,307.5 162.0,309.0 162.1,308.6 162.2,307.3 162.3,307.9 162.4,309.8 162.6,307.9 162.7,307.2 162.9,305.7 163.0,308.4 163.2,306.3 163.3,306.1 163.5,307.9 163.6,307.2 163.8,304.7 163.9,304.8 164.1,305.8 164.2,306.4 164.3,305.4 164.5,307.0 164.5,306.8 164.6,308.1 164.8,307.2 164.9,307.6 165.0,304.5 165.2,308.2 165.3,306.8 165.5,307.0 165.6,308.8 165.7,307.7 165.9,311.3 166.0,309.2 166.1,308.8 166.3,312.0 166.4,311.0 166.5,309.3 166.7,310.7 166.7,310.5 166.8,310.8 166.9,310.9 167.1,309.8 167.2,310.0 167.3,310.6 167.4,310.9 167.6,310.4 167.7,309.2 167.8,310.0 168.0,309.7 168.1,310.4 168.2,311.3 168.3,310.8 168.4,309.6 168.6,310.1 168.7,310.9 168.8,311.5 168.9,310.1 168.9,310.4 169.1,310.6 169.2,310.7 169.3,310.3 169.4,310.4 169.5,310.0 169.6,310.1 169.8,309.9 169.9,310.5 170.0,311.4 170.1,311.4 170.2,311.1 170.3,311.8 170.5,311.3 170.6,311.0 170.7,312.4 170.8,313.1 170.9,311.4 171.0,312.2 171.1,312.3 171.1,313.1 171.2,311.3 171.4,311.9 171.5,312.5 171.6,312.7 171.7,312.4 171.8,312.6 171.9,312.7 172.0,313.2 172.1,311.9 172.2,312.7 172.3,312.7 172.4,312.7 172.5,314.1 172.7,312.5 172.8,313.0 172.9,313.0 173.0,312.9 173.1,313.5 173.2,312.5 173.3,313.4 173.4,313.5 173.5,313.5 173.6,313.0 173.7,312.8 173.8,313.5 173.9,314.0 174.0,312.7 174.1,313.8 174.2,312.7 174.3,313.4 174.4,313.7 174.5,313.7 174.5,313.4 174.6,313.0 174.7,313.6 174.8,313.1 174.9,312.6 175.0,313.7 175.1,314.1 175.2,314.1 175.3,314.3 175.4,314.0 175.5,314.1 175.5,314.4 175.6,313.6 175.7,315.0 175.8,314.4 175.9,313.1 176.0,313.5 176.1,313.8 176.2,313.8 176.3,313.3 176.4,313.9 176.5,314.1 176.6,314.6 176.7,314.2 176.7,314.5 176.8,314.5 176.9,314.6 177.0,314.3 177.1,314.5 177.2,314.1 177.3,314.9 177.4,314.5 177.5,313.8 177.6,314.5 177.6,314.1 177.7,314.2 177.8,314.6 177.8,314.4 177.9,315.1 178.0,314.7 178.1,314.8 178.2,315.2 178.2,314.9 178.3,315.1 178.4,315.3 178.5,314.7 178.6,314.8 178.7,315.0 178.8,315.1 178.8,315.0 178.9,315.0 179.0,315.0 179.1,314.9 179.2,315.1 179.3,314.8 179.3,314.8 179.4,314.9 179.5,315.2 179.6,315.2 179.7,314.9 179.7,315.1 179.8,315.1 179.9,315.8 180.0,315.9 180.1,315.1 180.2,315.1 180.2,314.8 180.3,315.0 180.4,315.2 180.5,315.2 180.5,315.6 180.6,315.1 180.7,315.5 180.8,315.2 180.9,315.3 180.9,315.3 181.0,315.2 181.1,315.5 181.2,315.5 181.2,315.6 181.3,315.5 181.4,315.1 181.5,315.6 181.6,315.3 181.6,315.4 181.7,315.4 181.8,315.4 181.9,315.8 181.9,315.5 182.0,315.3 182.1,315.8 182.2,315.7 182.2,315.8 182.3,315.7 182.3,315.9 182.4,315.4 182.5,315.8 182.5,316.1 182.6,315.4 182.7,315.6 182.7,315.7 182.8,315.7 182.9,315.9 183.0,315.9 183.0,315.7 183.1,315.7 183.2,315.7 183.2,315.9 183.3,316.0 183.4,316.0 183.5,315.7 183.5,315.7 183.6,316.0 183.7,316.1 183.7,315.8 183.8,315.9 183.9,315.9 184.0,316.2 184.0,316.1 184.1,316.1 184.2,316.0 184.2,316.4 184.3,315.9 184.4,316.1 184.4,316.1 184.5,316.3 184.6,316.2 184.6,316.0 184.7,316.4 184.8,316.2 184.8,316.1 184.9,316.3 185.0,316.1 185.0,316.3 185.1,316.1 185.2,316.2 185.2,316.3 185.3,316.0 185.4,316.2 185.4,316.2 185.5,316.5 185.6,316.4 185.6,316.3 185.7,316.3 185.8,316.4 185.8,316.3 185.9,316.5 186.0,316.4 186.0,316.6 186.1,316.4 186.2,316.5 186.2,316.6 186.3,316.5 186.3,316.3 186.4,316.6 186.5,316.6 186.5,316.4 186.6,316.6 186.7,316.4 186.7,316.6 186.8,316.6 186.8,316.6 186.9,316.4 186.9,316.5 187.0,316.6 187.0,316.6 187.1,316.8 187.2,316.7 187.2,316.5 187.3,316.6 187.4,316.6 187.4,316.6 187.5,316.7 187.5,316.6 187.6,316.7 187.7,316.6 187.7,316.7 187.8,316.7 187.8,316.6 187.9,316.7 188.0,316.6 188.0,316.7 188.1,316.7 188.1,316.6 188.2,316.8 188.3,316.8 188.3,316.7 188.4,316.6 188.4,316.6 188.5,316.7 188.6,316.7 188.6,316.8 188.7,316.7 188.7,316.7 188.8,316.8 188.8,316.8 188.9,316.8 189.0,316.7 189.0,317.0 189.1,316.8 189.1,316.8 189.2,316.8 189.2,316.8 189.3,316.8 189.4,316.9 189.4,316.8 189.5,316.8 189.5,316.9 189.6,316.8 189.6,316.7 189.7,316.9 189.8,316.9 189.8,316.9 189.9,316.7 189.9,316.9 190.0,316.8 190.0,316.9 190.1,316.9 190.2,317.0 190.2,316.8 190.3,316.8 190.3,317.0 190.4,316.9 190.4,316.9 190.5,316.9 190.5,316.9 190.6,316.8 190.6,316.8 190.7,316.8 190.8,316.8 190.8,317.0 190.9,316.9 190.9,316.8 191.0,316.9 191.0,316.9 191.1,317.0 191.1,317.0 191.2,316.9 191.2,316.9 191.3,317.0 191.3,317.0 191.4,317.0 191.4,316.9 191.5,316.9 191.6,316.9 191.6,317.0 191.7,317.0 191.7,317.0 191.8,316.9 191.8,316.9 191.9,317.0 191.9,317.0 192.0,317.0 192.0,317.0 192.1,317.1 192.1,317.0 192.2,317.0 192.2,317.1 192.3,317.1 192.3,317.2 192.4,317.0 192.4,317.0 192.5,317.0 192.5,317.0 192.6,317.1 192.6,317.0 192.7,317.1 192.7,317.1 192.8,317.1 192.8,317.1 192.9,317.0 192.9,317.1 193.0,317.1 193.0,317.1 193.1,317.1 193.1,317.2 193.2,317.1 193.2,317.1 193.3,317.1 193.3,317.1 193.4,317.1 193.4,317.1 193.4,317.1 193.5,317.1 193.5,317.1 193.6,317.1 193.6,317.1 193.7,317.1 193.7,317.1 193.8,317.1 193.8,317.1 193.9,317.2 193.9,317.1 194.0,317.1 194.0,317.1 194.1,317.1 194.1,317.2 194.2,317.1 194.2,317.2 194.3,317.2 194.3,317.2 194.4,317.2 194.4,317.1 194.4,317.2 194.5,317.1 194.5,317.1 194.6,317.2 194.6,317.1 194.7,317.2 194.7,317.2 194.8,317.1 194.8,317.1 194.9,317.2 194.9,317.2 195.0,317.2 195.0,317.2 195.1,317.2 195.1,317.2 195.2,317.2 195.2,317.2 195.2,317.1 195.3,317.2 195.3,317.2 195.4,317.2 195.4,317.2 195.5,317.2 195.5,317.2 195.6,317.1 195.6,317.2 195.7,317.2 195.7,317.2 195.7,317.2 195.8,317.2 195.8,317.2 195.9,317.1 195.9,317.2 196.0,317.3 196.0,317.2 196.1,317.2 196.1,317.2 196.1,317.2 196.2,317.2 196.2,317.2 196.3,317.2 196.3,317.3 196.4,317.2 196.4,317.3 196.5,317.2 196.5,317.2 196.5,317.2 196.6,317.2 196.6,317.2 196.7,317.2 196.7,317.2 196.8,317.3 196.8,317.3 196.9,317.2 196.9,317.2 196.9,317.3 197.0,317.3 197.0,317.3 197.1,317.3 197.1,317.2 197.2,317.3 197.2,317.3 197.2,317.3 197.3,317.3 197.3,317.3 197.4,317.3 197.4,317.3 197.5,317.3 197.5,317.3 197.5,317.3 197.6,317.3 197.6,317.3 197.7,317.3 197.7,317.3 197.7,317.3 197.8,317.3 197.8,317.3 197.9,317.3 197.9,317.3 198.0,317.3 198.0,317.3 198.0,317.3 198.1,317.3 198.1,317.3 198.2,317.3 198.2,317.3 198.2,317.3 198.3,317.3 198.3,317.3 198.4,317.3 198.4,317.3 198.5,317.3 198.5,317.3 198.5,317.3 198.6,317.3 198.6,317.3 198.7,317.3 198.7,317.3 198.7,317.3 198.8,317.4 198.9,317.4 198.9,317.3 198.9,317.3 199.0,317.4 228.4,317.4" class="rl"/>
<polyline points="40.0,317.4 95.0,317.4 96.7,316.7 98.4,316.1 99.9,315.4 100.4,315.6 101.4,312.5 102.8,310.8 103.1,309.2 104.1,307.0 104.9,305.6 105.4,308.6 106.6,310.1 106.8,308.3 107.8,310.5 108.9,310.2 109.5,312.0 110.0,311.9 111.0,312.1 112.0,311.8 112.9,312.6 113.1,312.5 113.9,312.2 114.8,311.3 115.6,311.0 115.8,310.2 116.5,311.5 117.3,313.6 117.6,313.8 118.1,312.8 118.8,310.8 119.4,309.2 119.6,307.6 120.3,310.3 121.0,310.3 121.2,311.1 121.7,311.9 122.4,309.1 123.0,308.1 123.7,308.8 123.9,308.3 124.3,310.2 124.9,310.3 125.5,309.1 126.1,308.2 126.7,309.5 127.2,308.8 127.5,309.2 127.8,309.0 128.3,308.4 128.9,307.3 129.4,310.1 129.9,307.8 130.4,310.7 130.9,307.9 131.2,308.3 131.4,308.9 131.8,309.4 132.3,308.1 132.8,308.4 133.2,307.7 133.7,308.8 134.1,306.9 134.5,308.8 134.8,307.4 134.9,307.8 135.4,305.1 135.8,308.6 136.2,306.6 136.6,303.8 137.0,306.3 137.4,306.9 137.5,304.7 137.7,304.2 138.1,300.4 138.5,302.0 138.8,298.3 139.2,295.8 139.3,296.6 139.6,294.9 139.9,285.4 140.3,284.8 140.6,278.5 140.6,280.3 140.9,281.1 141.3,284.7 141.6,286.0 141.7,287.5 141.9,288.7 142.3,292.2 142.6,290.9 142.9,300.6 142.9,296.6 143.2,298.6 143.5,301.0 143.8,304.5 144.1,302.3 144.4,303.3 144.7,302.9 144.7,301.3 145.0,300.3 145.3,300.3 145.6,303.2 145.9,301.9 146.1,304.0 146.4,301.4 146.7,302.8 147.0,300.6 147.2,301.8 147.4,301.1 147.5,299.7 147.8,299.4 148.0,305.0 148.3,305.7 148.5,302.1 148.8,304.2 149.0,302.9 149.2,303.8 149.3,303.6 149.5,302.7 149.8,303.7 150.0,304.1 150.3,306.6 150.5,302.9 150.7,305.7 151.0,304.6 151.2,306.0 151.4,305.0 151.7,306.9 151.9,307.1 151.9,307.4 152.1,308.4 152.3,308.3 152.6,307.8 152.8,307.8 153.0,309.0 153.2,304.9 153.4,309.1 153.6,308.3 153.9,305.0 154.1,308.9 154.3,307.2 154.5,307.4 154.7,308.5 154.7,308.3 154.9,310.2 155.1,308.6 155.3,308.2 155.5,311.2 155.7,308.8 155.9,309.8 156.1,308.3 156.3,309.2 156.5,310.4 156.6,310.1 156.8,309.8 157.0,308.6 157.2,307.2 157.4,309.8 157.4,310.2 157.6,309.7 157.8,310.4 157.9,309.9 158.1,310.3 158.3,310.7 158.5,311.5 158.6,310.8 158.8,310.3 159.0,311.1 159.2,310.1 159.3,310.7 159.5,311.6 159.7,310.4 159.9,312.6 160.0,311.0 160.1,312.0 160.2,312.1 160.4,312.0 160.5,311.2 160.7,310.8 160.8,311.5 161.0,311.6 161.2,311.1 161.3,311.5 161.5,312.6 161.6,311.8 161.8,311.7 162.0,312.7 162.1,311.3 162.3,312.1 162.4,311.0 162.6,312.6 162.7,312.2 162.9,312.6 163.0,310.5 163.2,310.5 163.3,311.5 163.3,310.3 163.5,310.8 163.6,310.9 163.8,312.9 163.9,311.6 164.1,312.2 164.2,312.2 164.3,312.9 164.5,311.3 164.6,312.1 164.8,313.3 164.9,312.1 165.0,312.5 165.2,313.2 165.3,312.9 165.5,313.2 165.6,312.9 165.6,313.8 165.7,312.5 165.9,312.6 166.0,312.6 166.1,313.5 166.3,313.1 166.4,312.6 166.5,312.2 166.7,313.1 166.8,313.2 166.9,311.8 167.1,312.5 167.2,312.7 167.3,312.9 167.4,312.8 167.6,311.3 167.7,311.7 167.8,312.3 167.8,313.1 168.0,311.3 168.1,311.4 168.2,311.7 168.3,312.0 168.4,313.8 168.6,313.5 168.7,312.4 168.8,313.0 168.9,312.7 169.1,313.3 169.2,313.4 169.3,312.8 169.4,313.4 169.5,313.2 169.6,313.1 169.8,313.2 169.9,312.8 170.0,312.7 170.1,314.2 170.2,313.7 170.3,313.9 170.5,313.3 170.6,314.2 170.7,313.4 170.8,313.5 170.9,313.6 171.0,314.4 171.1,314.0 171.1,314.5 171.2,313.9 171.4,313.7 171.5,314.8 171.6,314.5 171.7,314.3 171.8,314.4 171.9,313.7 172.0,314.4 172.1,314.2 172.2,314.8 172.3,313.8 172.4,314.4 172.5,314.2 172.7,314.5 172.8,315.3 172.9,315.2 173.0,315.1 173.1,314.5 173.2,314.9 173.3,314.6 173.4,314.6 173.5,314.7 173.6,314.5 173.7,314.8 173.8,315.4 173.9,315.1 174.0,314.4 174.1,315.3 174.2,314.6 174.3,314.5 174.4,315.2 174.5,315.0 174.5,315.1 174.6,314.9 174.7,315.4 174.8,315.5 174.9,315.3 175.0,315.3 175.1,315.4 175.2,315.2 175.3,315.3 175.4,315.4 175.5,315.0 175.5,314.6 175.6,315.3 175.7,315.5 175.8,315.6 175.9,315.2 176.0,315.4 176.1,315.4 176.2,315.9 176.3,315.7 176.4,315.7 176.5,315.2 176.6,315.5 176.7,316.1 176.7,315.4 176.8,315.2 176.9,315.2 177.0,316.2 177.1,315.5 177.2,315.4 177.3,315.5 177.4,315.7 177.5,316.0 177.6,315.7 177.6,315.7 177.7,315.5 177.8,315.5 177.9,315.8 178.0,315.5 178.1,316.0 178.2,315.9 178.2,315.8 178.3,315.7 178.4,315.9 178.5,315.6 178.6,315.7 178.7,316.0 178.8,315.8 178.8,316.0 178.9,316.1 179.0,315.9 179.0,315.6 179.1,315.7 179.2,316.2 179.3,315.7 179.3,315.8 179.4,316.0 179.5,315.9 179.6,315.6 179.7,316.0 179.7,315.9 179.8,315.8 179.9,316.2 180.0,316.3 180.1,316.3 180.2,316.1 180.2,316.0 180.3,316.3 180.4,316.4 180.5,316.1 180.5,316.2 180.6,316.1 180.7,316.2 180.8,316.2 180.9,316.2 180.9,316.2 181.0,316.4 181.1,316.4 181.2,316.0 181.2,315.8 181.3,316.1 181.4,316.5 181.5,316.3 181.6,316.1 181.6,316.5 181.7,316.4 181.8,316.4 181.9,316.5 181.9,316.5 182.0,316.3 182.1,316.5 182.2,316.4 182.2,316.2 182.3,316.5 182.4,316.7 182.5,316.4 182.5,316.2 182.6,316.5 182.7,316.5 182.7,316.7 182.8,316.6 182.9,316.4 183.0,316.4 183.0,316.5 183.1,316.6 183.2,316.7 183.2,316.7 183.3,316.7 183.4,316.6 183.5,316.7 183.5,316.7 183.6,316.6 183.7,316.6 183.7,316.7 183.8,316.6 183.9,316.7 184.0,316.9 184.0,316.7 184.1,316.8 184.2,316.8 184.2,316.7 184.3,316.8 184.4,316.7 184.4,316.8 184.5,316.8 184.5,316.8 184.6,316.8 184.6,316.8 184.7,316.8 184.8,316.8 184.8,316.9 184.9,316.9 185.0,316.9 185.0,316.8 185.1,317.0 185.2,316.9 185.2,316.9 185.3,316.9 185.4,316.9 185.4,316.8 185.5,316.8 185.6,316.8 185.6,316.9 185.7,316.9 185.8,316.9 185.8,316.8 185.9,316.8 186.0,316.9 186.0,316.9 186.1,316.8 186.2,317.0 186.2,316.9 186.3,316.8 186.3,316.9 186.4,317.0 186.5,316.8 186.5,316.9 186.6,316.9 186.7,317.0 186.7,317.0 186.8,316.9 186.9,316.9 186.9,316.9 187.0,317.0 187.0,316.9 187.1,317.0 187.2,316.9 187.2,317.0 187.3,317.0 187.4,316.9 187.4,317.1 187.5,317.0 187.5,317.0 187.6,317.1 187.7,317.1 187.7,317.0 187.8,317.0 187.8,317.0 187.9,317.0 188.0,316.9 188.0,317.1 188.1,316.9 188.1,317.0 188.2,317.1 188.3,317.2 188.3,317.1 188.4,317.0 188.4,317.0 188.5,317.1 188.6,317.1 188.6,317.0 188.7,317.1 188.7,317.2 188.8,317.1 188.8,317.1 188.9,317.1 189.0,317.1 189.0,317.1 189.1,317.1 189.1,317.1 189.2,317.1 189.2,317.1 189.3,317.1 189.4,317.1 189.4,317.2 189.5,317.2 189.5,317.2 189.6,317.2 189.6,317.2 189.7,317.2 189.8,317.2 189.8,317.2 189.9,317.2 189.9,317.1 190.0,317.1 190.0,317.2 190.1,317.2 190.2,317.2 190.2,317.1 190.3,317.2 190.3,317.2 190.4,317.2 190.4,317.2 190.5,317.2 190.5,317.2 190.6,317.2 190.6,317.2 190.7,317.2 190.8,317.3 190.8,317.2 190.9,317.3 190.9,317.3 191.0,317.2 191.0,317.2 191.1,317.2 191.1,317.2 191.2,317.2 191.2,317.2 191.3,317.2 191.3,317.3 191.4,317.3 191.4,317.3 191.5,317.3 191.6,317.3 191.6,317.3 191.7,317.3 191.7,317.3 191.8,317.3 191.8,317.3 191.9,317.3 191.9,317.3 192.0,317.3 192.0,317.3 192.0,317.3 192.1,317.3 192.1,317.3 192.2,317.3 192.2,317.3 192.3,317.3 192.3,317.3 192.4,317.3 192.4,317.3 192.5,317.3 192.5,317.3 192.6,317.3 192.6,317.3 192.7,317.3 192.7,317.3 192.8,317.3 192.8,317.3 192.9,317.3 192.9,317.3 193.0,317.3 193.0,317.3 193.1,317.3 193.1,317.3 193.2,317.3 193.2,317.3 193.3,317.3 193.3,317.3 193.4,317.3 193.4,317.3 193.5,317.3 193.5,317.3 193.6,317.3 193.6,317.3 193.7,317.3 193.7,317.3 193.8,317.3 193.8,317.3 193.9,317.3 193.9,317.3 194.0,317.3 194.0,317.3 194.1,317.3 194.1,317.3 194.2,317.3 194.2,317.3 194.3,317.3 194.3,317.3 194.4,317.3 194.4,317.3 194.4,317.3 194.5,317.3 194.5,317.3 194.6,317.3 194.6,317.3 194.7,317.3 194.7,317.3 194.8,317.3 194.8,317.3 194.9,317.3 194.9,317.3 195.0,317.3 195.0,317.3 195.1,317.3 195.1,317.3 195.2,317.3 195.2,317.3 195.2,317.3 195.3,317.3 195.3,317.3 195.4,317.3 195.4,317.3 195.5,317.3 195.5,317.3 195.6,317.3 195.6,317.3 195.7,317.3 195.7,317.3 195.7,317.3 195.8,317.3 195.8,317.3 195.9,317.3 195.9,317.3 196.0,317.3 196.0,317.3 196.1,317.3 196.1,317.3 196.1,317.3 196.2,317.3 196.2,317.3 196.3,317.3 196.3,317.3 196.4,317.3 196.4,317.3 196.5,317.3 196.5,317.3 196.5,317.3 196.6,317.3 196.6,317.3 196.7,317.3 196.7,317.3 196.8,317.3 196.8,317.3 196.9,317.3 196.9,317.3 196.9,317.3 197.0,317.3 197.0,317.3 197.1,317.3 197.1,317.3 197.2,317.3 197.2,317.3 197.2,317.3 197.3,317.3 197.3,317.3 197.4,317.3 197.4,317.3 197.5,317.3 197.5,317.3 197.5,317.3 197.6,317.3 197.6,317.3 197.7,317.3 197.7,317.3 197.7,317.3 197.8,317.3 197.8,317.3 197.9,317.3 197.9,317.3 198.0,317.3 198.0,317.3 198.0,317.3 198.1,317.3 198.1,317.3 198.2,317.3 198.2,317.3 198.2,317.3 198.3,317.3 198.3,317.3 198.4,317.3 198.4,317.3 198.5,317.3 198.5,317.3 198.5,317.3 198.6,317.3 198.6,317.3 198.7,317.3 198.7,317.3 198.7,317.3 198.8,317.3 198.8,317.3 198.9,317.3 198.9,317.3 198.9,317.3 199.0,317.3 199.0,317.3 199.1,317.3 199.1,317.3 199.1,317.3 199.2,317.3 199.2,317.3 199.3,317.3 199.3,317.3 199.3,317.3 199.4,317.3 199.4,317.3 199.5,317.3 199.5,317.3 199.5,317.3 199.6,317.3 199.6,317.3 199.7,317.3 199.7,317.3 199.7,317.3 199.8,317.3 199.8,317.3 199.8,317.3 199.9,317.3 199.9,317.3 200.0,317.3 200.0,317.3 200.0,317.3 200.1,317.3 200.1,317.3 200.2,317.3 200.2,317.3 200.2,317.3 200.3,317.3 200.3,317.3 200.3,317.3 200.4,317.3 200.4,317.3 200.5,317.3 200.5,317.3 200.5,317.3 200.6,317.3 200.6,317.3 200.6,317.3 200.7,317.3 200.7,317.3 200.8,317.3 200.8,317.3 200.8,317.3 200.9,317.3 200.9,317.3 200.9,317.3 201.0,317.3 201.0,317.3 201.1,317.3 201.1,317.3 201.1,317.3 201.2,317.3 201.2,317.3 201.2,317.3 201.3,317.3 201.3,317.3 201.4,317.3 201.4,317.3 201.4,317.3 201.5,317.3 201.5,317.3 201.5,317.3 201.6,317.3 201.6,317.3 201.6,317.3 201.7,317.3 201.7,317.3 201.8,317.3 201.8,317.3 201.8,317.3 201.9,317.3 201.9,317.3 201.9,317.3 202.0,317.3 202.0,317.3 202.0,317.3 202.1,317.3 202.1,317.3 202.2,317.3 202.2,317.3 202.2,317.3 202.3,317.3 202.3,317.3 202.3,317.3 202.4,317.3 202.4,317.3 202.4,317.3 202.5,317.3 202.5,317.3 202.5,317.3 202.6,317.3 202.6,317.3 202.6,317.3 202.7,317.3 202.7,317.3 202.8,317.3 202.8,317.3 202.8,317.3 202.9,317.3 202.9,317.3 202.9,317.3 203.0,317.3 203.0,317.3 203.0,317.3 203.1,317.3 203.1,317.3 203.1,317.3 203.2,317.3 203.2,317.3 203.2,317.3 203.3,317.3 203.3,317.3 203.3,317.3 203.4,317.3 203.4,317.4 203.4,317.3 203.5,317.3 203.5,317.3 203.5,317.4 203.6,317.3 203.6,317.3 203.6,317.3 203.7,317.3 203.7,317.3 203.7,317.3 203.8,317.3 203.8,317.3 203.8,317.3 203.9,317.3 203.9,317.3 203.9,317.3 204.0,317.3 204.0,317.3 204.0,317.3 204.1,317.3 204.1,317.3 204.1,317.3 204.2,317.3 204.2,317.3 204.2,317.3 204.3,317.3 204.3,317.3 204.3,317.3 204.4,317.3 204.4,317.3 204.4,317.3 204.5,317.3 204.5,317.3 204.5,317.3 204.6,317.3 204.6,317.3 204.6,317.3 204.7,317.3 204.7,317.3 204.7,317.3 204.8,317.4 204.8,317.3 204.8,317.3 204.9,317.3 204.9,317.3 204.9,317.3 205.0,317.3 205.0,317.3 205.0,317.3 205.1,317.3 205.1,317.3 205.1,317.3 205.2,317.3 205.2,317.3 205.2,317.3 205.3,317.3 205.3,317.3 205.3,317.3 205.4,317.3 205.4,317.3 205.4,317.3 205.4,317.3 205.5,317.3 205.5,317.3 205.5,317.3 205.6,317.3 205.6,317.3 205.6,317.3 205.7,317.3 205.7,317.3 205.7,317.3 205.8,317.3 205.8,317.3 205.8,317.3 205.9,317.3 205.9,317.3 205.9,317.3 205.9,317.3 206.0,317.3 206.0,317.3 206.0,317.3 206.1,317.3 206.1,317.3 206.1,317.3 206.2,317.4 206.2,317.3 206.2,317.3 206.3,317.3 206.3,317.3 206.3,317.3 206.3,317.3 206.4,317.3 206.4,317.3 206.4,317.3 206.5,317.3 206.5,317.3 206.5,317.3 206.6,317.3 206.6,317.3 206.6,317.3 206.7,317.3 206.7,317.3 206.7,317.3 206.7,317.3 206.8,317.3 206.8,317.3 206.8,317.4 206.9,317.3 206.9,317.3 206.9,317.4 207.0,317.4 207.0,317.3 207.0,317.3 207.0,317.3 207.1,317.4 207.1,317.3 207.1,317.3 207.2,317.3 207.2,317.3 207.2,317.3 207.3,317.3 207.3,317.3 207.3,317.3 207.3,317.3 207.4,317.3 207.4,317.3 207.4,317.3 207.5,317.3 207.5,317.3 207.5,317.4 207.5,317.4 207.6,317.3 207.6,317.3 207.6,317.3 207.7,317.3 207.7,317.3 207.7,317.3 207.7,317.4 207.8,317.3 207.8,317.3 207.8,317.3 207.9,317.4 207.9,317.3 207.9,317.3 208.0,317.4 208.0,317.3 208.0,317.3 208.0,317.3 208.1,317.3 208.1,317.4 208.1,317.3 208.2,317.3 208.2,317.3 208.2,317.4 208.2,317.3 208.3,317.3 208.3,317.4 208.3,317.3 208.4,317.3 208.4,317.3 208.4,317.3 208.4,317.3 208.5,317.3 208.5,317.3 208.5,317.4 208.6,317.3 208.6,317.3 208.6,317.3 208.6,317.3 208.7,317.3 208.7,317.3 208.7,317.3 208.7,317.3 208.8,317.3 208.8,317.3 208.8,317.3 208.9,317.3 208.9,317.3 208.9,317.3 208.9,317.4 209.0,317.3 209.0,317.3 209.0,317.3 209.1,317.3 209.1,317.4 209.1,317.4 209.2,317.3 209.2,317.4 209.2,317.4 209.2,317.3 209.3,317.4 209.3,317.3 209.3,317.3 209.4,317.3 209.4,317.4 209.4,317.3 209.4,317.4 209.5,317.4 209.5,317.3 209.5,317.3 209.5,317.3 209.6,317.3 209.6,317.3 209.6,317.3 209.7,317.3 209.7,317.3 209.7,317.3 209.7,317.4 209.8,317.3 209.8,317.3 209.8,317.3 209.8,317.3 209.9,317.3 209.9,317.3 209.9,317.4 210.0,317.3 210.0,317.4 210.0,317.3 210.0,317.4 210.2,317.4 210.2,317.3 210.2,317.3 210.2,317.4 210.3,317.4 210.3,317.3 210.4,317.4 210.4,317.4 210.4,317.3 210.4,317.4 210.5,317.3 210.5,317.3 210.5,317.4 210.5,317.3 210.6,317.3 210.6,317.4 210.7,317.4 210.7,317.3 210.7,317.4 210.8,317.4 210.8,317.3 210.9,317.3 210.9,317.3 210.9,317.4 210.9,317.3 211.0,317.4 211.0,317.3 211.0,317.3 211.0,317.4 211.1,317.3 211.1,317.4 211.2,317.4 211.2,317.3 211.3,317.4 211.3,317.4 211.3,317.3 211.4,317.4 211.5,317.4 211.5,317.3 211.6,317.4 211.6,317.4 211.7,317.3 211.7,317.3 211.7,317.4 211.7,317.3 211.8,317.4 212.3,317.4 212.4,317.3 212.4,317.4 212.4,317.4 212.5,317.3 212.5,317.4 212.6,317.4 212.7,317.3 212.7,317.4 212.9,317.4 212.9,317.3 213.0,317.4 213.2,317.4 213.2,317.3 213.3,317.4 228.4,317.4" class="bl"/>
</g>
<path d="M40.00 317.4v-1.9M40.00 202.4v1.9M58.90 317.4v-1.0M58.90 202.4v1.0M69.96 317.4v-1.0M69.96 202.4v1.0M77.81 317.4v-1.0M77.81 202.4v1.0M83.90 317.4v-1.0M83.90 202.4v1.0M88.87 317.4v-1.0M88.87 202.4v1.0M93.07 317.4v-1.0M93.07 202.4v1.0M96.71 317.4v-1.0M96.71 202.4v1.0M99.93 317.4v-1.0M99.93 202.4v1.0M102.80 317.4v-1.9M102.80 202.4v1.9M121.70 317.4v-1.0M121.70 202.4v1.0M132.76 317.4v-1.0M132.76 202.4v1.0M140.61 317.4v-1.0M140.61 202.4v1.0M146.70 317.4v-1.0M146.70 202.4v1.0M151.67 317.4v-1.0M151.67 202.4v1.0M155.87 317.4v-1.0M155.87 202.4v1.0M159.51 317.4v-1.0M159.51 202.4v1.0M162.73 317.4v-1.0M162.73 202.4v1.0M165.60 317.4v-1.9M165.60 202.4v1.9M184.50 317.4v-1.0M184.50 202.4v1.0M195.56 317.4v-1.0M195.56 202.4v1.0M203.41 317.4v-1.0M203.41 202.4v1.0M209.50 317.4v-1.0M209.50 202.4v1.0M214.47 317.4v-1.0M214.47 202.4v1.0M218.67 317.4v-1.0M218.67 202.4v1.0M222.31 317.4v-1.0M222.31 202.4v1.0M225.53 317.4v-1.0M225.53 202.4v1.0M40.0 202.50h1.9M228.4 202.50h-1.9M40.0 218.50h1.9M228.4 218.50h-1.9M40.0 235.50h1.9M228.4 235.50h-1.9M40.0 251.50h1.9M228.4 251.50h-1.9M40.0 268.50h1.9M228.4 268.50h-1.9M40.0 284.50h1.9M228.4 284.50h-1.9M40.0 301.50h1.9M228.4 301.50h-1.9M40.0 317.50h1.9M228.4 317.50h-1.9" class="tk"/>
<rect x="40.0" y="202.4" width="188.40" height="115.00" class="ax"/>
<text x="133.60" y="177.10" class="tt">Electromyography</text>
<text x="133.60" y="198.20" class="tt">Entering</text>
<path d="M41.40 214.40h40.5" class="lr"/>
<path d="M41.40 232.90h40.5" class="lb"/>
<text x="85.40" y="220.20" class="lg">MPF Pre:  82.39 Hz</text>
<text x="85.40" y="238.80" class="lg">MPF Post: 84.91 Hz</text>
<text x="41.20" y="336.90" class="tl" text-anchor="middle">0</text>
<text x="102.10" y="336.90" class="tl" text-anchor="middle">10</text>
<text x="162.70" y="336.90" class="tl" text-anchor="middle">100</text>
<text x="222.60" y="336.90" class="tl" text-anchor="middle">1000</text>
<text x="134.40" y="355.70" class="tt al">Frequency (Hz)</text>
<text x="33.80" y="208.50" class="tl" text-anchor="end">7</text>
<text x="33.80" y="224.50" class="tl" text-anchor="end">6</text>
<text x="33.80" y="241.55" class="tl" text-anchor="end">5</text>
<text x="33.80" y="257.60" class="tl" text-anchor="end">4</text>
<text x="33.80" y="274.60" class="tl" text-anchor="end">3</text>
<text x="33.80" y="290.80" class="tl" text-anchor="end">2</text>
<text x="33.80" y="307.60" class="tl" text-anchor="end">1</text>
<text x="33.80" y="323.50" class="tl" text-anchor="end">0</text>
<path d="M42.30 190.90l7.4 7.4M49.70 190.90l-7.4 7.4" class="xm"/>
<text x="52.30" y="199.00" class="ex">10</text>
<text x="68.80" y="190.80" class="es">-3</text>
<text transform="translate(13.3 259.90) rotate(-90)" x="0" y="0" class="tt al">|Y(f)|</text>
<path d="M281.63 202.4V317.4M292.71 202.4V317.4M300.57 202.4V317.4M306.67 202.4V317.4M311.65 202.4V317.4M315.86 202.4V317.4M319.50 202.4V317.4M322.72 202.4V317.4M344.53 202.4V317.4M355.61 202.4V317.4M363.47 202.4V317.4M369.57 202.4V317.4M374.55 202.4V317.4M378.76 202.4V317.4M382.40 202.4V317.4M385.62 202.4V317.4M407.43 202.4V317.4M418.51 202.4V317.4M426.37 202.4V317.4M432.47 202.4V317.4M437.45 202.4V317.4M441.66 202.4V317.4M445.30 202.4V317.4M448.52 202.4V317.4" class="mg"/>
<path d="M325.50 202.4V317.4M388.50 202.4V317.4M262.7 218.50H451.4M262.7 235.50H451.4M262.7 251.50H451.4M262.7 268.50H451.4M262.7 284.50H451.4M262.7 301.50H451.4" class="Mg"/>
<clipPath id="c11"><rect x="262.7" y="202.4" width="188.70" height="115.00"/></clipPath><g clip-path="url(#c11)">
<polygon points="262.7,317.4 287.7,317.4 300.6,317.3 309.3,317.3 315.9,317.3 321.2,317.2 322.0,317.3 325.6,315.5 326.0,315.0 327.2,304.0 328.2,304.0 329.4,312.1 329.5,313.0 332.0,313.5 332.8,311.9 335.8,310.4 338.4,305.7 338.9,310.5 340.9,308.0 343.1,309.3 343.7,311.0 345.2,310.7 347.1,310.1 348.9,308.9 350.0,309.5 350.6,307.3 352.2,301.4 352.5,304.0 353.7,309.9 354.0,309.0 355.2,307.3 356.5,309.4 357.8,300.6 359.0,308.5 360.2,308.8 361.3,305.6 362.4,308.9 363.0,307.5 363.5,308.9 364.5,308.7 365.4,307.3 366.4,306.6 367.3,303.0 367.8,305.0 368.2,293.9 369.0,304.1 369.8,306.0 370.6,303.7 371.0,302.0 371.4,304.7 372.2,305.1 372.9,304.0 373.6,290.8 374.2,302.5 374.3,301.0 375.0,304.7 375.7,305.3 376.3,306.1 376.9,302.5 377.4,304.0 377.6,304.6 378.2,301.6 378.8,307.1 379.3,306.5 379.9,303.8 380.5,300.6 380.6,306.0 381.0,296.0 381.5,306.6 382.1,309.2 382.6,309.3 383.1,309.4 383.6,305.7 384.1,307.4 384.5,297.8 385.0,310.3 385.4,309.5 385.5,308.1 385.9,309.3 386.4,308.1 386.8,310.6 387.2,309.2 387.7,310.9 388.1,302.2 388.5,311.2 388.9,311.0 389.3,308.6 389.7,311.3 390.1,307.1 390.5,308.7 390.9,305.5 391.2,308.3 391.6,309.6 392.0,311.0 392.3,306.2 392.7,310.7 393.0,309.6 393.4,311.1 393.5,310.5 393.7,310.0 394.0,307.9 394.4,304.8 394.7,312.0 395.0,308.7 395.4,310.6 395.7,308.3 396.0,310.0 396.3,311.6 396.6,312.3 396.9,306.3 397.2,311.3 397.5,311.9 397.8,308.3 398.1,312.3 398.4,308.5 398.7,311.1 398.9,312.8 399.2,312.8 399.5,307.8 399.8,311.1 399.9,312.0 400.0,311.9 400.3,313.1 400.6,313.0 400.8,313.3 401.1,309.3 401.3,312.2 401.6,313.7 401.8,313.7 402.1,313.7 402.3,308.9 402.6,309.9 402.8,312.7 403.1,314.3 403.3,314.1 403.6,313.6 403.8,314.4 404.0,314.5 404.3,314.8 404.5,311.6 404.7,314.5 404.7,311.8 404.9,314.7 405.2,314.7 405.4,312.4 405.6,314.8 405.8,315.1 406.0,314.4 406.2,315.4 406.5,315.1 406.7,313.8 406.9,315.1 407.1,315.6 407.3,314.6 407.5,315.5 407.7,314.9 407.9,315.8 408.1,315.5 408.3,315.3 408.5,315.5 408.7,316.0 408.9,316.1 409.1,316.0 409.3,314.0 409.5,316.3 409.7,316.1 409.9,315.3 410.0,316.5 410.2,316.2 410.4,316.5 410.6,316.5 410.8,316.4 411.0,316.6 411.1,316.6 411.1,316.6 411.3,316.4 411.5,316.7 411.7,315.7 411.8,316.6 412.0,316.8 412.2,316.2 412.4,316.4 412.5,316.4 412.7,316.7 412.9,316.4 413.0,316.7 413.2,316.6 413.4,316.9 413.5,316.8 413.7,316.8 413.9,316.7 414.0,316.5 414.2,316.8 414.3,316.8 414.5,316.9 414.7,316.9 414.8,316.9 415.0,317.0 415.1,316.9 415.3,316.8 415.4,316.9 415.6,316.4 415.7,317.0 415.9,316.8 416.0,317.0 416.2,317.0 416.3,317.0 416.5,317.1 416.6,317.0 416.8,316.9 416.9,317.0 417.1,317.1 417.2,317.1 417.3,317.0 417.5,317.0 417.6,317.2 417.8,317.0 417.9,317.0 418.1,317.2 418.2,317.1 418.3,317.2 418.5,317.1 418.6,317.1 418.7,317.2 418.9,317.2 419.0,317.1 419.1,317.3 419.3,317.2 419.4,317.1 419.5,317.2 419.7,317.1 419.8,317.3 419.9,317.3 420.0,317.3 420.1,317.3 420.2,317.3 420.3,317.3 420.4,317.3 420.6,317.3 420.7,317.3 420.8,317.3 420.9,317.3 421.1,317.3 421.2,317.3 421.3,317.3 421.4,317.3 421.6,317.3 421.7,317.3 421.8,317.2 421.9,317.3 422.1,317.3 422.2,317.3 422.3,317.3 422.4,317.3 422.5,317.3 422.6,317.3 422.8,317.2 422.9,317.3 423.0,317.3 423.1,317.3 423.2,317.2 423.3,317.3 423.5,317.2 423.6,317.3 423.7,317.3 423.8,317.3 423.9,317.3 424.0,317.3 424.1,317.3 424.2,317.3 424.4,317.3 424.5,317.3 424.6,317.3 424.7,317.3 424.8,317.3 424.9,317.3 425.0,317.2 425.1,317.3 425.2,317.3 425.3,317.3 425.4,317.3 425.5,317.3 425.6,317.3 425.7,317.3 425.9,317.3 426.0,317.3 426.1,317.3 426.2,317.3 426.3,317.3 426.4,317.3 426.5,317.3 426.6,317.3 426.7,317.3 426.8,317.3 426.9,317.3 427.0,317.3 427.1,317.3 427.2,317.3 427.3,317.3 427.4,317.3 427.5,317.3 427.6,317.3 427.7,317.3 427.8,317.3 427.9,317.3 428.0,317.3 428.1,317.3 428.2,317.3 428.2,317.3 428.3,317.3 428.4,317.3 428.5,317.3 428.6,317.3 428.7,317.3 428.8,317.3 428.9,317.3 429.0,317.3 429.1,317.3 429.2,317.3 429.3,317.3 429.4,317.3 429.5,317.3 429.6,317.3 429.6,317.3 429.7,317.3 429.8,317.3 429.9,317.3 430.0,317.3 430.1,317.3 430.2,317.3 430.3,317.3 430.4,317.3 430.5,317.3 430.5,317.3 430.6,317.3 430.7,317.3 430.8,317.3 430.9,317.3 431.0,317.3 431.1,317.3 431.2,317.3 431.2,317.3 431.3,317.3 431.4,317.3 431.5,317.3 431.6,317.3 431.7,317.3 431.7,317.3 431.8,317.3 431.9,317.3 432.0,317.3 432.1,317.3 432.2,317.3 432.2,317.3 432.3,317.3 432.4,317.3 432.5,317.3 432.6,317.3 432.7,317.3 432.7,317.3 432.8,317.4 432.9,317.3 433.0,317.4 433.1,317.3 433.1,317.4 433.2,317.3 433.3,317.3 433.4,317.3 433.5,317.3 433.5,317.3 433.6,317.3 433.7,317.4 433.8,317.3 433.9,317.4 433.9,317.4 434.0,317.3 434.1,317.3 434.2,317.3 434.2,317.4 434.3,317.3 434.4,317.4 434.5,317.3 434.5,317.3 434.6,317.4 434.7,317.3 434.8,317.3 434.8,317.3 434.9,317.3 435.0,317.4 435.1,317.3 435.1,317.3 435.2,317.3 435.3,317.4 435.4,317.3 435.4,317.3 435.5,317.4 435.6,317.3 435.7,317.4 435.8,317.4 435.9,317.3 435.9,317.3 436.0,317.4 436.1,317.3 436.2,317.3 436.2,317.4 436.3,317.3 436.4,317.4 436.4,317.4 436.5,317.3 436.6,317.3 436.7,317.3 436.7,317.4 436.8,317.3 436.9,317.4 436.9,317.4 437.0,317.3 437.1,317.3 437.1,317.3 437.2,317.4 437.3,317.4 437.4,317.3 437.4,317.4 437.5,317.3 437.6,317.3 437.6,317.4 437.7,317.3 437.8,317.4 437.9,317.4 438.0,317.3 438.0,317.4 438.2,317.4 438.3,317.3 438.4,317.4 438.4,317.4 438.5,317.3 438.6,317.4 438.6,317.4 438.7,317.3 438.8,317.4 438.8,317.3 438.9,317.4 439.1,317.4 439.2,317.3 439.3,317.4 439.3,317.3 439.4,317.3 439.5,317.4 439.8,317.4 439.9,317.3 440.0,317.4 440.1,317.4 440.2,317.3 440.2,317.4 441.4,317.4 441.4,317.3 441.5,317.4 441.9,317.4 442.0,317.3 442.1,317.4 442.1,317.4 442.2,317.3 442.2,317.4 442.7,317.4 442.8,317.3 442.9,317.4 443.5,317.4 443.6,317.3 443.6,317.4 451.4,317.4 451.4,317.4 439.0,317.4 439.0,317.4 438.9,317.4 438.8,317.4 438.8,317.4 438.7,317.4 438.5,317.4 438.5,317.4 438.5,317.4 437.8,317.4 437.8,317.4 437.8,317.4 437.8,317.4 437.7,317.4 437.6,317.4 437.6,317.4 437.6,317.4 437.6,317.4 437.6,317.4 437.5,317.4 437.5,317.4 437.4,317.4 437.4,317.4 437.4,317.4 437.4,317.4 437.4,317.4 437.3,317.4 437.3,317.4 437.2,317.4 437.1,317.4 437.1,317.4 437.0,317.4 437.0,317.4 437.0,317.4 436.9,317.4 436.9,317.4 436.9,317.4 436.9,317.4 436.8,317.4 436.8,317.4 436.8,317.4 436.8,317.4 436.7,317.4 436.6,317.4 436.6,317.4 436.6,317.4 436.5,317.4 436.5,317.4 436.5,317.4 436.4,317.4 436.4,317.4 436.4,317.4 436.4,317.4 436.3,317.4 436.3,317.4 436.3,317.4 436.3,317.4 436.2,317.4 436.2,317.4 436.1,317.4 436.1,317.4 436.1,317.4 436.1,317.4 436.0,317.4 436.0,317.4 436.0,317.4 436.0,317.4 435.9,317.4 435.9,317.4 435.9,317.4 435.9,317.4 435.8,317.4 435.8,317.4 435.7,317.4 435.7,317.4 435.7,317.4 435.7,317.4 435.6,317.4 435.6,317.4 435.6,317.4 435.5,317.4 435.5,317.4 435.5,317.4 435.5,317.4 435.4,317.4 435.4,317.4 435.4,317.4 435.4,317.4 435.3,317.4 435.3,317.4 435.3,317.4 435.3,317.4 435.2,317.4 435.2,317.4 435.2,317.4 435.2,317.4 435.1,317.4 435.1,317.4 435.1,317.4 435.1,317.4 435.0,317.4 435.0,317.4 435.0,317.4 435.0,317.4 434.9,317.4 434.9,317.4 434.9,317.4 434.9,317.4 434.8,317.4 434.8,317.4 434.8,317.4 434.8,317.4 434.7,317.4 434.7,317.4 434.7,317.4 434.7,317.4 434.6,317.4 434.6,317.4 434.6,317.4 434.6,317.4 434.5,317.4 434.5,317.4 434.5,317.4 434.5,317.4 434.4,317.4 434.4,317.4 434.4,317.4 434.4,317.4 434.3,317.4 434.3,317.4 434.3,317.4 434.2,317.4 434.2,317.4 434.2,317.4 434.2,317.4 434.1,317.4 434.1,317.4 434.1,317.4 434.1,317.4 434.0,317.4 434.0,317.4 434.0,317.4 434.0,317.4 433.9,317.4 433.9,317.4 433.9,317.4 433.9,317.4 433.8,317.4 433.8,317.4 433.8,317.4 433.7,317.4 433.7,317.4 433.7,317.4 433.7,317.4 433.6,317.4 433.6,317.4 433.6,317.4 433.6,317.4 433.5,317.4 433.5,317.4 433.5,317.4 433.5,317.4 433.4,317.4 433.4,317.4 433.4,317.4 433.4,317.4 433.3,317.4 433.3,317.4 433.3,317.4 433.2,317.4 433.2,317.4 433.2,317.4 433.2,317.4 433.1,317.4 433.1,317.4 433.1,317.4 433.1,317.4 433.0,317.4 433.0,317.4 433.0,317.4 433.0,317.4 432.9,317.4 432.9,317.4 432.9,317.4 432.8,317.4 432.8,317.4 432.8,317.4 432.8,317.4 432.7,317.4 432.7,317.4 432.7,317.4 432.7,317.4 432.6,317.4 432.6,317.4 432.6,317.4 432.5,317.4 432.5,317.4 432.5,317.4 432.5,317.4 432.4,317.4 432.4,317.4 432.4,317.4 432.4,317.4 432.3,317.4 432.3,317.4 432.3,317.4 432.2,317.4 432.2,317.4 432.2,317.4 432.2,317.4 432.1,317.4 432.1,317.4 432.1,317.4 432.1,317.4 432.0,317.4 432.0,317.4 432.0,317.4 431.9,317.4 431.9,317.4 431.9,317.4 431.9,317.4 431.8,317.4 431.8,317.4 431.8,317.4 431.7,317.4 431.7,317.4 431.7,317.4 431.7,317.4 431.6,317.4 431.6,317.4 431.6,317.4 431.5,317.4 431.5,317.4 431.5,317.4 431.5,317.4 431.4,317.4 431.4,317.4 431.4,317.4 431.4,317.4 431.3,317.4 431.3,317.4 431.3,317.4 431.2,317.4 431.2,317.4 431.2,317.4 431.2,317.4 431.1,317.4 431.1,317.4 431.1,317.4 431.0,317.4 431.0,317.4 431.0,317.4 430.9,317.4 430.9,317.4 430.9,317.4 430.9,317.4 430.8,317.4 430.8,317.4 430.8,317.4 430.7,317.4 430.7,317.4 430.7,317.4 430.7,317.4 430.6,317.4 430.6,317.4 430.6,317.4 430.5,317.4 430.5,317.4 430.5,317.4 430.5,317.4 430.4,317.4 430.4,317.4 430.4,317.4 430.3,317.4 430.3,317.4 430.3,317.4 430.2,317.4 430.2,317.4 430.2,317.4 430.2,317.4 430.1,317.4 430.1,317.4 430.1,317.4 430.0,317.4 430.0,317.4 430.0,317.4 429.9,317.4 429.9,317.4 429.9,317.4 429.9,317.4 429.8,317.4 429.8,317.4 429.8,317.4 429.7,317.4 429.7,317.4 429.7,317.4 429.6,317.4 429.6,317.4 429.6,317.4 429.6,317.4 429.5,317.4 429.5,317.4 429.5,317.4 429.4,317.4 429.4,317.4 429.4,317.4 429.3,317.4 429.3,317.4 429.3,317.4 429.3,317.4 429.2,317.4 429.2,317.4 429.2,317.4 429.1,317.4 429.1,317.4 429.1,317.4 429.0,317.4 429.0,317.4 429.0,317.4 428.9,317.4 428.9,317.4 428.9,317.4 428.8,317.4 428.8,317.4 428.8,317.4 428.8,317.4 428.7,317.4 428.7,317.4 428.7,317.4 428.6,317.4 428.6,317.4 428.6,317.4 428.5,317.4 428.5,317.4 428.5,317.4 428.4,317.4 428.4,317.4 428.4,317.4 428.3,317.4 428.3,317.4 428.3,317.4 428.2,317.4 428.2,317.4 428.2,317.4 428.2,317.4 428.1,317.4 428.1,317.4 428.1,317.4 428.0,317.4 428.0,317.4 428.0,317.4 427.9,317.4 427.9,317.4 427.9,317.4 427.8,317.4 427.8,317.4 427.8,317.4 427.7,317.4 427.7,317.4 427.7,317.4 427.6,317.4 427.6,317.4 427.6,317.4 427.5,317.4 427.5,317.4 427.5,317.4 427.4,317.4 427.4,317.4 427.4,317.4 427.3,317.4 427.3,317.4 427.3,317.4 427.2,317.4 427.2,317.4 427.2,317.4 427.1,317.4 427.1,317.4 427.1,317.4 427.0,317.4 427.0,317.4 427.0,317.4 426.9,317.4 426.9,317.4 426.9,317.4 426.8,317.4 426.8,317.4 426.8,317.4 426.7,317.4 426.7,317.4 426.7,317.4 426.6,317.4 426.6,317.4 426.6,317.4 426.5,317.4 426.5,317.4 426.5,317.4 426.4,317.4 426.4,317.4 426.4,317.4 426.3,317.4 426.3,317.4 426.3,317.4 426.2,317.4 426.2,317.4 426.2,317.4 426.1,317.4 426.1,317.4 426.1,317.4 426.0,317.4 426.0,317.4 426.0,317.4 425.9,317.4 425.9,317.4 425.9,317.4 425.8,317.4 425.8,317.4 425.7,317.4 425.7,317.4 425.7,317.4 425.6,317.4 425.6,317.4 425.6,317.4 425.5,317.4 425.5,317.4 425.5,317.4 425.4,317.4 425.4,317.4 425.4,317.4 425.3,317.4 425.3,317.4 425.3,317.4 425.2,317.4 425.2,317.4 425.1,317.4 425.1,317.4 425.1,317.4 425.0,317.4 425.0,317.4 425.0,317.4 424.9,317.4 424.9,317.4 424.9,317.4 424.8,317.4 424.8,317.4 424.8,317.4 424.7,317.4 424.7,317.4 424.6,317.4 424.6,317.4 424.6,317.4 424.5,317.4 424.5,317.4 424.5,317.4 424.4,317.4 424.4,317.4 424.4,317.4 424.3,317.4 424.3,317.4 424.2,317.4 424.2,317.4 424.2,317.4 424.1,317.4 424.1,317.4 424.1,317.4 424.0,317.4 424.0,317.4 423.9,317.4 423.9,317.4 423.9,317.4 423.8,317.4 423.8,317.4 423.8,317.4 423.7,317.4 423.7,317.4 423.6,317.4 423.6,317.4 423.6,317.4 423.5,317.4 423.5,317.4 423.5,317.4 423.4,317.4 423.4,317.4 423.3,317.4 423.3,317.4 423.3,317.4 423.2,317.4 423.2,317.4 423.1,317.4 423.1,317.4 423.1,317.4 423.0,317.4 423.0,317.4 423.0,317.4 422.9,317.4 422.9,317.4 422.8,317.4 422.8,317.4 422.8,317.4 422.7,317.4 422.7,317.4 422.6,317.4 422.6,317.4 422.6,317.4 422.5,317.4 422.5,317.4 422.4,317.4 422.4,317.4 422.4,317.4 422.3,317.4 422.3,317.4 422.2,317.4 422.2,317.4 422.2,317.4 422.1,317.4 422.1,317.4 422.1,317.4 422.0,317.4 422.0,317.4 421.9,317.4 421.9,317.4 421.8,317.4 421.8,317.4 421.8,317.4 421.7,317.4 421.7,317.4 421.6,317.4 421.6,317.4 421.6,317.4 421.5,317.4 421.5,317.4 421.4,317.4 421.4,317.4 421.4,317.4 421.3,317.4 421.3,317.4 421.2,317.4 421.2,317.4 421.2,317.4 421.1,317.4 421.1,317.4 421.0,317.4 421.0,317.4 420.9,317.4 420.9,317.4 420.9,317.4 420.8,317.4 420.8,317.4 420.7,317.4 420.7,317.4 420.7,317.4 420.6,317.4 420.6,317.4 420.5,317.4 420.5,317.4 420.4,317.4 420.4,317.4 420.4,317.4 420.3,317.4 420.3,317.4 420.2,317.4 420.2,317.4 420.1,317.4 420.1,317.4 420.1,317.4 420.0,317.4 420.0,317.4 420.0,317.4 419.9,317.4 419.9,317.4 419.8,317.4 419.8,317.4 419.8,317.4 419.7,317.4 419.7,317.4 419.6,317.4 419.6,317.4 419.5,317.4 419.5,317.4 419.5,317.4 419.4,317.4 419.4,317.4 419.3,317.4 419.3,317.4 419.2,317.4 419.2,317.4 419.1,317.4 419.1,317.4 419.1,317.4 419.0,317.4 419.0,317.4 418.9,317.4 418.9,317.4 418.8,317.4 418.8,317.4 418.7,317.4 418.7,317.4 418.6,317.4 418.6,317.4 418.6,317.4 418.5,317.4 418.5,317.4 418.4,317.4 418.4,317.4 418.3,317.4 418.3,317.4 418.2,317.4 418.2,317.4 418.1,317.4 418.1,317.4 418.1,317.4 418.0,317.4 418.0,317.4 417.9,317.4 417.9,317.4 417.8,317.4 417.8,317.4 417.7,317.4 417.7,317.4 417.6,317.4 417.6,317.4 417.5,317.4 417.5,317.4 417.4,317.4 417.4,317.4 417.3,317.4 417.3,317.4 417.3,317.4 417.2,317.4 417.2,317.4 417.1,317.4 417.1,317.4 417.0,317.4 417.0,317.4 416.9,317.4 416.9,317.4 416.8,317.4 416.8,317.4 416.7,317.4 416.7,317.4 416.6,317.4 416.6,317.4 416.5,317.4 416.5,317.4 416.4,317.4 416.4,317.4 416.3,317.4 416.3,317.4 416.2,317.4 416.2,317.4 416.1,317.4 416.1,317.4 416.0,317.4 416.0,317.4 415.9,317.4 415.9,317.4 415.8,317.4 415.8,317.4 415.7,317.4 415.7,317.4 415.6,317.4 415.6,317.4 415.5,317.4 415.5,317.4 415.4,317.4 415.4,317.4 415.3,317.4 415.3,317.4 415.2,317.4 415.2,317.4 415.1,317.4 415.1,317.4 415.0,317.4 415.0,317.4 414.9,317.4 414.9,317.4 414.8,317.4 414.8,317.4 414.7,317.4 414.7,317.4 414.6,317.4 414.5,317.4 414.5,317.4 414.4,317.4 414.4,317.4 414.3,317.4 414.3,317.4 414.2,317.4 414.2,317.4 414.1,317.4 414.1,317.4 414.0,317.4 414.0,317.4 413.9,317.4 413.9,317.4 413.8,317.4 413.7,317.4 413.7,317.4 413.6,317.4 413.6,317.4 413.5,317.4 413.5,317.4 413.4,317.4 413.4,317.4 413.3,317.4 413.3,317.4 413.2,317.4 413.1,317.4 413.1,317.4 413.0,317.4 413.0,317.4 412.9,317.4 412.9,317.4 412.8,317.4 412.8,317.4 412.7,317.4 412.7,317.4 412.6,317.4 412.6,317.4 412.5,317.4 412.5,317.4 412.4,317.4 412.4,317.4 412.3,317.4 412.2,317.4 412.2,317.4 412.1,317.4 412.1,317.4 412.0,317.4 412.0,317.4 411.9,317.4 411.8,317.4 411.8,317.4 411.7,317.4 411.7,317.4 411.6,317.4 411.5,317.4 411.5,317.4 411.4,317.4 411.4,317.4 411.3,317.4 411.3,317.4 411.2,317.4 411.1,317.4 411.1,317.4 411.0,317.4 411.0,317.4 410.9,317.4 410.8,317.4 410.8,317.4 410.7,317.4 410.7,317.4 410.6,317.4 410.5,317.4 410.5,317.4 410.4,317.4 410.3,317.4 410.3,317.4 410.2,317.4 410.2,317.4 410.1,317.4 410.0,317.4 410.0,317.4 409.9,317.4 409.9,317.3 409.8,317.4 409.7,317.4 409.7,317.3 409.6,317.4 409.5,317.4 409.5,317.4 409.4,317.4 409.3,317.4 409.3,317.4 409.2,317.4 409.2,317.3 409.1,317.4 409.0,317.2 409.0,317.4 408.9,317.4 408.8,317.4 408.8,317.4 408.7,317.4 408.6,317.4 408.6,317.4 408.5,317.4 408.4,317.2 408.4,317.3 408.3,317.4 408.2,317.0 408.2,317.4 408.1,317.4 408.0,317.4 408.0,317.4 407.9,317.1 407.8,317.3 407.8,317.4 407.7,317.2 407.6,317.0 407.6,317.3 407.5,317.4 407.4,317.4 407.4,317.1 407.3,316.9 407.2,317.0 407.2,317.4 407.1,317.2 407.0,317.2 407.0,317.0 406.9,317.0 406.8,316.9 406.7,317.0 406.7,317.1 406.6,317.4 406.5,316.9 406.5,317.2 406.4,317.0 406.3,317.4 406.3,317.1 406.2,316.7 406.2,317.0 406.1,317.0 406.0,316.5 406.0,317.2 405.9,317.1 405.8,316.8 405.7,316.9 405.7,317.0 405.6,317.1 405.5,317.0 405.5,316.5 405.4,316.4 405.3,316.7 405.2,316.3 405.2,316.7 405.1,316.5 405.0,316.5 404.9,317.1 404.9,316.6 404.8,316.4 404.7,316.4 404.6,316.2 404.6,316.7 404.5,316.5 404.4,316.1 404.3,316.7 404.3,316.1 404.2,316.2 404.1,316.3 404.0,316.6 403.9,316.3 403.9,316.0 403.8,316.4 403.7,316.6 403.6,316.2 403.6,316.8 403.5,316.1 403.4,316.7 403.3,316.3 403.2,316.0 403.2,316.3 403.1,315.6 403.0,315.4 402.9,316.3 402.8,315.3 402.8,315.4 402.7,315.8 402.6,315.7 402.5,315.9 402.4,315.8 402.3,315.7 402.3,316.6 402.2,316.6 402.1,316.2 402.0,316.1 401.9,315.1 401.8,315.2 401.8,315.5 401.7,315.5 401.6,315.0 401.5,315.5 401.5,315.5 401.4,315.5 401.3,315.6 401.3,314.6 401.2,316.3 401.1,315.0 401.0,315.0 400.9,315.1 400.8,315.7 400.7,315.5 400.6,315.7 400.6,315.1 400.5,315.3 400.4,315.1 400.3,315.0 400.2,315.3 400.1,314.9 400.0,315.5 399.9,314.9 399.8,314.7 399.8,313.9 399.7,315.6 399.6,315.2 399.5,314.2 399.4,315.6 399.3,315.6 399.2,315.2 399.1,314.5 399.0,314.8 398.9,314.9 398.8,313.3 398.7,314.4 398.7,313.7 398.6,313.9 398.5,314.1 398.4,314.1 398.3,314.2 398.2,314.2 398.1,314.4 398.0,315.2 397.9,313.7 397.8,314.1 397.7,314.7 397.6,313.4 397.5,313.9 397.4,313.7 397.3,314.2 397.2,313.3 397.1,313.2 397.0,314.4 396.9,315.0 396.8,315.1 396.7,313.9 396.7,314.2 396.6,313.9 396.5,313.1 396.4,314.3 396.3,315.0 396.2,313.6 396.1,313.9 396.0,314.3 395.9,315.2 395.8,314.8 395.7,314.2 395.6,312.6 395.5,313.6 395.4,313.4 395.2,315.1 395.1,313.8 395.0,313.6 394.9,313.3 394.8,313.7 394.7,314.4 394.6,313.9 394.5,313.6 394.4,313.7 394.3,312.6 394.2,312.9 394.0,313.7 393.9,313.2 393.8,313.4 393.7,311.3 393.6,314.0 393.5,313.7 393.4,313.3 393.3,314.6 393.1,312.6 393.0,312.5 392.9,312.6 392.8,313.2 392.7,314.6 392.6,313.8 392.4,312.4 392.3,312.1 392.2,313.7 392.1,313.5 392.0,312.3 391.9,313.1 391.8,313.6 391.7,313.2 391.6,312.8 391.5,312.4 391.4,312.1 391.2,312.3 391.1,313.1 391.0,314.0 390.9,311.9 390.7,312.8 390.6,314.2 390.5,312.7 390.3,311.3 390.2,311.9 390.1,313.2 390.0,312.2 389.8,311.8 389.7,313.8 389.6,313.6 389.4,314.0 389.3,314.1 389.2,314.3 389.0,315.6 388.9,313.5 388.8,312.8 388.6,314.5 388.5,313.2 388.4,312.9 388.2,312.1 388.1,314.4 387.9,311.7 387.8,313.0 387.7,313.1 387.5,312.8 387.4,313.8 387.2,312.2 387.1,313.3 387.0,313.1 387.0,312.4 386.8,311.2 386.7,312.5 386.5,314.4 386.4,313.0 386.2,312.7 386.1,314.5 385.9,312.2 385.8,312.2 385.6,313.6 385.5,311.4 385.3,311.3 385.2,310.3 385.0,312.8 384.9,311.4 384.7,311.9 384.5,313.7 384.4,312.4 384.2,312.2 384.1,310.0 383.9,311.5 383.7,311.0 383.6,310.4 383.4,311.7 383.2,312.5 383.1,310.8 382.9,312.2 382.7,312.2 382.6,309.9 382.4,311.8 382.2,312.0 382.2,310.7 382.1,310.2 381.9,311.7 381.7,311.3 381.5,310.8 381.4,310.5 381.2,310.8 381.0,307.0 380.8,311.7 380.6,309.9 380.5,310.2 380.3,310.0 380.1,308.3 379.9,307.7 379.7,311.8 379.5,309.1 379.3,308.2 379.1,311.2 379.0,309.1 379.0,311.2 378.8,308.3 378.6,310.1 378.4,306.4 378.2,307.7 378.0,306.7 377.8,308.1 377.6,307.7 377.4,309.2 377.1,309.1 376.9,308.2 376.7,309.7 376.5,306.8 376.3,307.1 376.1,308.9 375.9,310.1 375.8,307.5 375.7,306.6 375.4,307.4 375.2,305.2 375.0,309.2 374.8,308.5 374.5,306.8 374.3,306.0 374.1,304.9 373.9,309.1 373.6,308.0 373.4,307.3 373.1,305.5 372.9,305.4 372.7,306.5 372.6,306.7 372.4,309.9 372.2,305.7 371.9,307.8 371.7,307.9 371.4,307.7 371.2,306.9 370.9,307.7 370.6,309.6 370.4,308.4 370.1,307.2 369.8,306.4 369.6,305.8 369.4,309.1 369.3,307.5 369.0,308.5 368.7,312.8 368.5,310.3 368.2,310.0 367.9,307.3 367.6,308.1 367.3,309.4 367.0,307.0 366.7,308.4 366.4,309.7 366.2,309.9 366.1,309.6 365.8,311.5 365.4,309.3 365.1,311.4 364.8,311.8 364.5,309.6 364.1,310.7 363.8,307.6 363.5,307.6 363.1,310.9 362.8,307.8 362.4,309.5 362.1,308.6 361.7,308.4 361.4,310.7 361.3,312.4 361.0,311.8 360.6,309.6 360.2,311.9 359.8,311.9 359.4,311.0 359.0,312.9 358.6,311.7 358.2,311.0 357.8,311.0 357.4,313.3 356.9,312.3 356.5,313.9 356.5,312.3 356.1,312.9 355.6,313.8 355.2,312.0 354.7,310.7 354.2,311.4 353.7,313.1 353.2,311.6 352.7,311.2 352.2,312.2 351.7,312.2 351.7,312.3 351.2,312.6 350.6,313.8 350.1,311.6 349.5,311.8 348.9,311.8 348.4,312.2 347.8,314.1 347.1,312.7 346.9,313.1 346.5,314.1 345.9,312.5 345.2,312.6 344.5,313.3 343.8,312.2 343.1,314.3 342.4,313.7 342.1,313.9 341.7,315.1 340.9,315.1 340.1,314.4 339.3,313.5 338.4,313.4 337.6,312.8 337.3,313.9 336.7,313.9 335.8,314.1 334.8,314.8 333.8,315.5 332.8,315.1 332.5,315.5 331.7,315.6 330.6,315.6 329.4,314.9 328.3,314.7 328.2,311.9 327.7,305.1 327.1,314.0 326.9,315.3 325.6,317.2 325.2,317.4 324.2,317.4 322.7,317.4 321.2,317.4 320.0,317.4 319.5,317.4 317.7,317.4 315.9,317.4 313.8,317.4 311.6,317.4 309.3,317.4 306.7,317.4 303.8,317.4 300.6,317.4 296.9,317.4 292.7,317.4 287.7,317.4 262.7,317.4" class="pb"/>
<polygon points="262.7,317.4 287.7,317.4 300.6,317.3 309.3,317.3 315.9,317.3 321.2,317.3 323.0,317.3 325.6,315.8 327.0,314.5 329.4,313.1 332.0,313.5 332.8,312.1 335.8,313.2 338.4,311.6 340.0,311.5 340.9,311.4 343.1,310.0 345.2,311.6 347.1,305.8 348.9,310.9 350.0,310.5 350.6,309.6 352.2,310.6 353.7,309.5 355.2,308.9 356.5,310.3 357.8,306.3 358.0,309.5 359.0,310.1 360.2,310.1 361.3,308.4 362.4,307.8 363.5,308.0 364.5,309.3 365.0,308.0 365.4,307.8 366.4,308.3 367.3,307.4 368.2,301.3 369.0,307.1 369.8,304.7 370.0,305.0 370.6,303.6 371.4,304.2 372.2,301.4 372.9,302.8 373.0,302.0 373.6,297.9 374.3,296.1 375.0,301.4 375.7,302.1 376.0,301.0 376.3,301.1 376.9,303.5 377.6,299.6 378.2,300.7 378.8,306.5 379.0,305.0 379.3,306.3 379.9,306.4 380.5,299.1 381.0,307.4 381.5,307.7 382.1,308.2 382.6,304.9 383.0,308.0 383.1,308.7 383.6,308.3 384.1,307.4 384.5,306.8 385.0,309.0 385.5,310.0 385.9,304.2 386.4,308.9 386.8,302.3 387.2,310.0 387.7,309.8 388.1,308.3 388.5,308.9 388.9,308.3 389.3,310.4 389.7,308.3 390.0,310.0 390.1,302.1 390.5,308.3 390.9,310.6 391.2,303.6 391.6,310.3 392.0,309.9 392.3,310.1 392.7,306.2 393.0,310.3 393.4,309.7 393.7,308.3 394.0,310.5 394.4,310.3 394.7,310.4 395.0,310.5 395.4,310.9 395.7,311.4 396.0,307.4 396.3,310.9 396.6,309.1 396.9,305.5 397.2,307.3 397.5,310.6 397.8,311.6 398.0,311.5 398.1,308.4 398.4,309.9 398.7,311.7 398.9,312.4 399.2,312.5 399.5,312.7 399.8,312.1 400.0,311.8 400.3,311.0 400.6,312.6 400.8,311.5 401.1,313.1 401.3,310.9 401.6,312.5 401.8,309.2 402.1,313.2 402.3,313.0 402.6,313.7 402.8,313.6 403.1,313.5 403.3,314.2 403.6,313.0 403.8,314.3 404.0,314.0 404.0,314.5 404.3,313.1 404.5,314.0 404.7,313.3 404.9,313.9 405.2,314.3 405.4,314.8 405.6,314.7 405.8,314.9 406.0,315.2 406.2,315.1 406.5,313.4 406.7,315.0 406.9,315.3 407.1,315.4 407.3,315.0 407.5,315.5 407.7,315.7 407.9,315.7 408.1,315.7 408.3,315.4 408.5,316.0 408.7,315.6 408.9,315.9 409.1,315.6 409.3,316.2 409.5,316.0 409.7,316.0 409.9,315.9 410.0,316.3 410.0,316.2 410.2,316.1 410.4,316.4 410.6,316.4 410.8,315.9 411.0,315.7 411.1,316.1 411.3,316.5 411.5,316.4 411.7,316.3 411.8,316.5 412.0,316.5 412.2,316.5 412.4,316.2 412.5,316.6 412.7,316.7 412.9,316.7 413.0,316.1 413.2,316.8 413.4,316.8 413.5,316.7 413.7,316.4 413.9,316.6 414.0,316.8 414.2,316.7 414.3,316.8 414.5,316.8 414.7,316.3 414.8,316.8 415.0,316.9 415.1,316.9 415.3,316.7 415.4,317.0 415.6,317.0 415.7,316.9 415.9,316.9 416.0,317.0 416.2,317.0 416.3,316.8 416.5,317.0 416.6,316.7 416.8,317.1 416.9,317.1 417.1,316.9 417.2,317.1 417.3,317.1 417.5,317.1 417.6,317.2 417.8,317.2 417.9,317.1 418.1,317.2 418.2,317.1 418.3,317.2 418.5,317.2 418.6,317.2 418.7,317.2 418.9,317.3 419.0,317.3 419.1,317.3 419.3,317.3 419.4,317.3 419.5,317.4 419.7,317.3 419.8,317.4 451.4,317.4 451.4,317.4 418.8,317.4 418.8,317.4 418.7,317.4 418.7,317.4 418.6,317.4 418.6,317.4 418.6,317.4 418.5,317.4 418.5,317.4 418.4,317.4 418.4,317.4 418.3,317.4 418.3,317.4 418.2,317.4 418.2,317.4 418.1,317.4 418.1,317.4 418.1,317.4 418.0,317.4 418.0,317.4 417.9,317.4 417.9,317.4 417.8,317.4 417.8,317.4 417.7,317.4 417.7,317.4 417.6,317.4 417.6,317.4 417.5,317.4 417.5,317.4 417.4,317.4 417.4,317.4 417.3,317.4 417.3,317.4 417.3,317.4 417.2,317.4 417.2,317.4 417.1,317.4 417.1,317.4 417.0,317.4 417.0,317.4 416.9,317.4 416.9,317.4 416.8,317.4 416.8,317.4 416.7,317.4 416.7,317.4 416.6,317.4 416.6,317.4 416.5,317.4 416.5,317.4 416.4,317.4 416.4,317.4 416.3,317.4 416.3,317.4 416.2,317.4 416.2,317.4 416.1,317.4 416.1,317.4 416.0,317.4 416.0,317.4 415.9,317.4 415.9,317.4 415.8,317.4 415.8,317.4 415.7,317.4 415.7,317.4 415.6,317.4 415.6,317.4 415.5,317.4 415.5,317.4 415.4,317.4 415.4,317.4 415.3,317.4 415.3,317.4 415.2,317.4 415.2,317.4 415.1,317.4 415.1,317.4 415.0,317.4 415.0,317.4 414.9,317.4 414.9,317.4 414.8,317.4 414.8,317.4 414.7,317.4 414.7,317.4 414.6,317.4 414.5,317.4 414.5,317.4 414.4,317.4 414.4,317.4 414.3,317.4 414.3,317.4 414.2,317.4 414.2,317.4 414.1,317.4 414.1,317.4 414.0,317.4 414.0,317.4 413.9,317.4 413.9,317.4 413.8,317.4 413.7,317.4 413.7,317.4 413.6,317.4 413.6,317.4 413.5,317.4 413.5,317.4 413.4,317.4 413.4,317.4 413.3,317.4 413.3,317.4 413.2,317.4 413.1,317.4 413.1,317.4 413.0,317.4 413.0,317.4 412.9,317.4 412.9,317.4 412.8,317.4 412.8,317.4 412.7,317.4 412.6,317.4 412.6,317.4 412.5,317.4 412.5,317.4 412.4,317.4 412.4,317.4 412.3,317.4 412.2,317.4 412.2,317.4 412.1,317.4 412.1,317.4 412.0,317.4 412.0,317.4 412.0,317.4 411.9,317.4 411.8,317.4 411.8,317.4 411.7,317.4 411.7,317.4 411.6,317.4 411.5,317.4 411.5,317.4 411.4,317.4 411.4,317.4 411.3,317.4 411.3,317.4 411.2,317.4 411.1,317.4 411.1,317.4 411.0,317.4 411.0,317.4 410.9,317.4 410.8,317.4 410.8,317.4 410.7,317.4 410.7,317.4 410.6,317.4 410.5,317.4 410.5,317.4 410.4,317.4 410.3,317.4 410.3,317.4 410.2,317.4 410.2,317.4 410.1,317.4 410.0,317.4 410.0,317.4 409.9,317.4 409.9,317.4 409.8,317.4 409.7,317.4 409.7,317.4 409.6,317.4 409.5,317.4 409.5,317.4 409.4,317.4 409.3,317.4 409.3,317.4 409.2,317.4 409.2,317.4 409.1,317.4 409.0,317.4 409.0,317.4 408.9,317.4 408.8,317.4 408.8,317.4 408.7,317.4 408.6,317.4 408.6,317.4 408.5,317.4 408.4,317.4 408.4,317.4 408.3,317.4 408.2,317.4 408.2,317.4 408.1,317.4 408.0,317.4 408.0,317.4 407.9,317.4 407.8,317.4 407.8,317.4 407.7,317.4 407.6,317.4 407.6,317.4 407.5,317.4 407.4,317.4 407.4,317.4 407.3,317.4 407.2,317.4 407.2,317.4 407.1,317.4 407.0,317.4 407.0,317.4 406.9,317.4 406.8,317.4 406.7,317.4 406.7,317.4 406.6,317.4 406.5,317.4 406.5,317.4 406.4,317.1 406.3,317.4 406.3,317.4 406.2,317.4 406.2,317.4 406.1,317.4 406.0,317.4 406.0,317.4 405.9,317.4 405.8,317.3 405.7,317.4 405.7,317.4 405.6,317.1 405.5,317.3 405.5,317.1 405.4,317.2 405.3,317.0 405.2,317.4 405.2,316.9 405.1,316.9 405.0,316.8 404.9,317.0 404.9,316.8 404.8,317.1 404.7,316.9 404.6,316.7 404.6,317.2 404.5,317.2 404.4,316.8 404.3,317.1 404.3,317.1 404.2,316.4 404.1,316.9 404.0,316.6 403.9,316.2 403.9,316.9 403.8,316.4 403.7,316.4 403.6,316.0 403.6,316.2 403.5,316.9 403.4,316.7 403.3,316.3 403.2,316.3 403.2,315.5 403.1,316.3 403.1,316.6 403.0,317.0 402.9,316.2 402.8,316.4 402.8,316.6 402.7,316.2 402.6,316.5 402.5,315.9 402.4,317.0 402.3,317.0 402.3,316.6 402.2,315.8 402.1,316.2 402.0,315.7 401.9,315.8 401.8,316.2 401.8,316.0 401.7,315.7 401.6,315.8 401.5,315.9 401.4,315.5 401.3,314.8 401.3,315.7 401.2,316.6 401.1,315.9 401.0,316.2 400.9,315.8 400.8,314.4 400.7,317.4 400.6,315.7 400.6,316.2 400.5,315.4 400.4,316.2 400.3,315.1 400.2,314.9 400.1,315.7 400.0,314.9 399.9,314.1 399.9,315.0 399.8,315.0 399.8,315.5 399.7,316.4 399.6,314.9 399.5,315.2 399.4,315.3 399.3,314.1 399.2,314.2 399.1,315.6 399.0,314.5 398.9,315.7 398.8,314.7 398.7,314.6 398.7,316.3 398.6,314.2 398.5,314.6 398.4,316.7 398.3,315.8 398.2,314.3 398.1,315.5 398.0,314.8 397.9,316.7 397.8,314.4 397.7,315.7 397.6,315.1 397.5,315.1 397.4,314.9 397.3,315.2 397.2,315.0 397.1,314.6 397.0,315.3 396.9,316.1 396.8,315.1 396.7,314.3 396.6,315.5 396.5,313.4 396.4,314.3 396.3,315.0 396.2,315.0 396.1,313.8 396.0,315.2 395.9,315.3 395.8,315.1 395.7,316.7 395.6,314.7 395.5,315.5 395.4,314.2 395.2,314.1 395.1,314.1 395.1,314.7 395.0,315.6 394.9,313.6 394.8,314.9 394.7,315.4 394.6,314.5 394.5,313.6 394.4,315.6 394.3,315.7 394.2,315.6 394.0,314.2 393.9,314.2 393.8,314.7 393.7,315.1 393.6,314.8 393.5,314.1 393.4,315.1 393.3,314.1 393.1,316.3 393.0,315.0 392.9,313.5 392.8,314.4 392.7,315.2 392.6,314.1 392.4,314.1 392.3,314.7 392.2,314.0 392.1,314.8 392.0,312.9 391.8,315.1 391.7,312.1 391.6,315.0 391.5,314.7 391.4,313.2 391.2,313.8 391.1,315.0 391.0,313.2 390.9,314.4 390.7,314.3 390.6,313.4 390.5,315.5 390.3,313.0 390.3,313.9 390.2,313.7 390.1,315.2 390.0,312.3 389.8,313.2 389.7,314.3 389.6,314.1 389.4,313.8 389.3,315.1 389.2,313.0 389.0,313.8 388.9,314.2 388.8,314.1 388.6,314.0 388.5,313.9 388.4,313.0 388.2,314.0 388.1,312.0 387.9,315.0 387.8,314.9 387.7,314.8 387.5,313.2 387.4,313.1 387.2,313.3 387.1,314.0 387.0,314.5 386.8,312.8 386.7,312.8 386.5,312.5 386.4,311.6 386.2,312.8 386.1,312.4 385.9,313.9 385.8,315.0 385.6,314.2 385.5,315.3 385.4,313.9 385.3,312.7 385.2,313.2 385.0,313.5 384.9,313.3 384.7,314.2 384.5,315.6 384.4,312.0 384.2,313.2 384.1,314.8 383.9,315.1 383.7,313.4 383.6,312.5 383.4,313.1 383.2,315.7 383.1,311.6 382.9,312.7 382.7,312.6 382.6,312.7 382.4,311.4 382.2,314.4 382.1,312.1 381.9,310.9 381.7,313.6 381.5,312.9 381.4,312.3 381.4,312.3 381.2,312.1 381.0,310.6 380.8,311.5 380.6,313.1 380.5,311.1 380.3,308.7 380.1,311.3 379.9,310.6 379.7,313.1 379.5,311.3 379.3,314.4 379.1,312.1 379.0,309.6 378.8,311.1 378.6,311.7 378.4,311.1 378.2,310.7 378.2,307.6 378.0,309.8 377.8,308.4 377.6,309.2 377.4,309.2 377.1,303.6 376.9,309.2 376.7,307.7 376.5,307.5 376.3,307.0 376.1,305.9 376.1,302.4 375.9,307.7 375.7,308.4 375.4,312.1 375.2,311.0 375.0,312.5 374.8,309.2 374.5,303.6 374.3,306.3 374.2,309.1 374.1,308.3 373.9,310.8 373.6,311.9 373.4,311.8 373.1,310.5 372.9,306.4 372.7,304.8 372.6,306.7 372.4,304.8 372.2,307.0 371.9,310.0 371.7,306.5 371.4,308.8 371.2,307.1 370.9,308.1 370.6,307.7 370.4,308.0 370.2,309.9 370.1,311.0 369.8,310.2 369.6,310.9 369.3,307.5 369.0,311.4 368.7,312.2 368.5,310.5 368.2,310.4 367.9,310.8 367.6,313.3 367.3,312.8 367.0,313.9 366.7,313.7 366.4,313.1 366.2,312.3 366.1,312.2 365.8,312.0 365.4,315.1 365.1,309.9 364.8,312.7 364.5,309.5 364.1,313.2 363.8,311.4 363.5,312.0 363.1,311.2 362.8,314.0 362.4,312.9 362.1,311.9 361.7,311.6 361.4,313.1 361.3,313.4 361.0,313.7 360.6,314.3 360.2,312.8 359.8,312.5 359.4,311.9 359.0,315.7 358.6,311.9 358.2,311.6 357.8,312.7 357.4,313.8 356.9,313.7 356.5,313.3 356.5,313.9 356.1,314.9 355.6,314.1 355.2,314.5 354.7,315.1 354.2,312.2 353.7,314.5 353.2,314.2 352.7,312.2 352.2,315.3 351.7,313.7 351.7,314.4 351.2,314.6 350.6,314.0 350.1,315.4 349.5,316.1 348.9,315.1 348.4,314.0 347.8,314.7 347.1,315.0 346.9,314.7 346.5,313.4 345.9,314.2 345.2,314.7 344.5,314.1 343.8,314.8 343.1,314.7 342.4,314.9 342.1,315.0 341.7,314.5 340.9,313.9 340.1,314.2 339.3,314.4 338.4,315.0 337.6,316.5 337.3,314.7 336.7,314.6 335.8,315.5 334.8,314.6 333.8,316.7 332.8,315.5 332.5,316.0 331.7,315.5 330.6,316.2 329.4,315.9 328.2,315.9 327.7,316.0 326.9,316.7 326.1,317.4 325.6,317.4 324.2,317.4 322.7,317.4 321.2,317.4 320.0,317.4 319.5,317.4 317.7,317.4 315.9,317.4 313.8,317.4 311.6,317.4 309.3,317.4 306.7,317.4 303.8,317.4 300.6,317.4 296.9,317.4 292.7,317.4 287.7,317.4 281.6,317.4 262.7,317.4" class="gb"/>
<polyline points="262.7,317.4 287.7,317.4 292.7,317.3 296.9,317.3 300.6,317.3 303.8,317.3 306.7,317.3 309.3,317.3 311.6,317.3 313.8,317.3 315.9,317.3 317.7,317.3 319.5,317.3 320.0,317.3 321.2,317.1 322.7,316.8 324.2,316.7 325.2,316.6 325.6,316.2 326.9,314.3 327.1,313.0 327.7,304.1 328.2,310.9 328.3,313.7 329.4,313.9 330.6,314.6 331.7,314.6 332.5,314.5 332.8,314.1 333.8,314.5 334.8,313.8 335.8,313.1 336.7,312.9 337.3,312.9 337.6,311.8 338.4,312.4 339.3,312.5 340.1,313.4 340.9,314.1 341.7,314.1 342.1,312.9 342.4,312.7 343.1,313.3 343.8,311.2 344.5,312.3 345.2,311.6 345.9,311.5 346.5,313.1 346.9,312.1 347.1,311.7 347.8,313.1 348.4,311.2 348.9,310.8 349.5,310.8 350.1,310.6 350.6,312.8 351.2,311.6 351.7,311.3 351.7,311.2 352.2,311.2 352.7,310.2 353.2,310.6 353.7,312.1 354.2,310.4 354.7,309.7 355.2,311.0 355.6,312.8 356.1,311.9 356.5,311.3 356.5,312.9 356.9,311.3 357.4,312.3 357.8,310.0 358.2,310.0 358.6,310.7 359.0,311.9 359.4,310.0 359.8,310.9 360.2,310.9 360.6,308.6 361.0,310.8 361.3,311.4 361.4,309.7 361.7,307.4 362.1,307.6 362.4,308.5 362.8,306.8 363.1,309.9 363.5,306.6 363.8,306.6 364.1,309.7 364.5,308.6 364.8,310.8 365.1,310.4 365.4,308.3 365.8,310.5 366.1,308.6 366.2,308.9 366.4,308.7 366.7,307.4 367.0,306.0 367.3,308.4 367.6,307.1 367.9,306.3 368.2,309.0 368.5,309.3 368.7,311.8 369.0,307.5 369.3,306.5 369.4,308.1 369.6,304.8 369.8,305.4 370.1,306.2 370.4,307.4 370.6,308.6 370.9,306.7 371.2,305.9 371.4,306.7 371.7,306.9 371.9,306.8 372.2,304.7 372.4,308.9 372.6,305.7 372.7,305.5 372.9,304.4 373.1,304.5 373.4,306.3 373.6,307.0 373.9,308.1 374.1,303.9 374.3,305.0 374.5,305.8 374.8,307.5 375.0,308.2 375.2,304.2 375.4,306.4 375.7,305.6 375.8,306.5 375.9,309.1 376.1,307.9 376.3,306.1 376.5,305.8 376.7,308.7 376.9,307.2 377.1,308.1 377.4,308.2 377.6,306.7 377.8,307.1 378.0,305.7 378.2,306.7 378.4,305.4 378.6,309.1 378.8,307.3 379.0,310.2 379.0,308.1 379.1,310.2 379.3,307.2 379.5,308.1 379.7,310.8 379.9,306.7 380.1,307.3 380.3,309.0 380.5,309.2 380.6,308.9 380.8,310.7 381.0,306.0 381.2,309.8 381.4,309.5 381.5,309.8 381.7,310.3 381.9,310.7 382.1,309.2 382.2,309.7 382.2,311.0 382.4,310.8 382.6,308.9 382.7,311.2 382.9,311.2 383.1,309.8 383.2,311.5 383.4,310.7 383.6,309.4 383.7,310.0 383.9,310.5 384.1,309.0 384.2,311.2 384.4,311.4 384.5,312.7 384.7,310.9 384.9,310.4 385.0,311.8 385.2,309.3 385.3,310.3 385.5,310.4 385.6,312.6 385.8,311.2 385.9,311.2 386.1,313.5 386.2,311.7 386.4,312.0 386.5,313.4 386.7,311.5 386.8,310.2 387.0,311.4 387.0,312.1 387.1,312.3 387.2,311.2 387.4,312.8 387.5,311.8 387.7,312.1 387.8,312.0 387.9,310.7 388.1,313.4 388.2,311.1 388.4,311.9 388.5,312.2 388.6,313.5 388.8,311.8 388.9,312.5 389.0,314.6 389.2,313.3 389.3,313.1 389.4,313.0 389.6,312.6 389.7,312.8 389.8,310.8 390.0,311.2 390.1,312.2 390.2,310.9 390.3,310.3 390.5,311.7 390.6,313.2 390.7,311.8 390.9,310.9 391.0,313.0 391.1,312.1 391.2,311.3 391.4,311.1 391.5,311.4 391.6,311.8 391.7,312.2 391.8,312.6 391.9,312.1 392.0,311.3 392.1,312.5 392.2,312.7 392.3,311.1 392.4,311.4 392.6,312.8 392.7,313.6 392.8,312.2 392.9,311.6 393.0,311.5 393.1,311.6 393.3,313.6 393.4,312.3 393.5,312.7 393.6,313.0 393.7,310.3 393.8,312.4 393.9,312.2 394.0,312.7 394.2,311.9 394.3,311.6 394.4,312.7 394.5,312.6 394.6,312.9 394.7,313.4 394.8,312.7 394.9,312.3 395.0,312.6 395.1,312.8 395.2,314.1 395.4,312.4 395.5,312.6 395.6,311.6 395.7,313.2 395.8,313.8 395.9,314.2 396.0,313.3 396.1,312.9 396.2,312.6 396.3,314.0 396.4,313.3 396.5,312.1 396.6,312.9 396.7,313.2 396.7,312.9 396.8,314.1 396.9,314.0 397.0,313.4 397.1,312.2 397.2,312.3 397.3,313.2 397.4,312.7 397.5,312.9 397.6,312.4 397.7,313.7 397.8,313.1 397.9,312.7 398.0,314.2 398.1,313.4 398.2,313.2 398.3,313.2 398.4,313.1 398.5,313.1 398.6,312.9 398.7,312.7 398.7,313.4 398.8,312.3 398.9,313.9 399.0,313.8 399.1,313.5 399.2,314.2 399.3,314.6 399.4,314.6 399.5,313.2 399.6,314.2 399.7,314.6 399.8,312.9 399.8,313.7 399.9,313.9 400.0,314.5 400.1,313.9 400.2,314.3 400.3,314.0 400.4,314.1 400.5,314.3 400.6,314.1 400.6,314.7 400.7,314.5 400.8,314.7 400.9,314.1 401.0,314.0 401.1,314.0 401.2,315.3 401.3,313.6 401.3,314.6 401.4,314.5 401.5,314.5 401.5,314.5 401.6,314.0 401.7,314.5 401.8,314.5 401.8,314.2 401.9,314.1 402.0,315.1 402.1,315.2 402.2,315.6 402.3,315.6 402.3,314.7 402.4,314.8 402.5,314.9 402.6,314.7 402.7,314.8 402.8,314.4 402.8,314.3 402.9,315.3 403.0,314.4 403.1,314.6 403.2,315.3 403.2,315.0 403.3,315.3 403.4,315.7 403.5,315.1 403.6,315.8 403.6,315.2 403.7,315.6 403.8,315.4 403.9,315.0 403.9,315.3 404.0,315.6 404.1,315.3 404.2,315.2 404.3,315.1 404.3,315.7 404.4,315.1 404.5,315.5 404.6,315.7 404.6,315.2 404.7,315.4 404.8,315.4 404.9,315.6 404.9,316.1 405.0,315.5 405.1,315.5 405.2,315.7 405.2,315.3 405.3,315.7 405.4,315.4 405.5,315.5 405.5,316.0 405.6,316.1 405.7,316.0 405.7,315.9 405.8,315.8 405.9,316.1 406.0,316.2 406.0,315.5 406.1,316.0 406.2,316.0 406.2,315.7 406.3,316.1 406.3,316.6 406.4,316.0 406.5,316.2 406.5,315.9 406.6,316.5 406.7,316.1 406.7,316.0 406.8,315.9 406.9,316.0 407.0,316.0 407.0,316.2 407.1,316.2 407.2,316.4 407.2,316.0 407.3,315.9 407.4,316.1 407.4,316.4 407.5,316.5 407.6,316.3 407.6,316.0 407.7,316.2 407.8,316.4 407.8,316.3 407.9,316.1 408.0,316.4 408.0,316.4 408.1,316.4 408.2,316.5 408.2,316.0 408.3,316.5 408.4,316.3 408.4,316.2 408.5,316.4 408.6,316.4 408.6,316.4 408.7,316.4 408.8,316.4 408.8,316.5 408.9,316.5 409.0,316.4 409.0,316.2 409.1,316.5 409.2,316.3 409.2,316.5 409.3,316.6 409.3,316.6 409.4,316.4 409.5,316.7 409.5,316.4 409.6,316.5 409.7,316.3 409.7,316.7 409.8,316.4 409.9,316.3 409.9,316.4 410.0,316.6 410.0,316.5 410.1,316.5 410.2,316.6 410.2,316.5 410.3,316.6 410.3,316.6 410.4,316.5 410.5,316.6 410.5,316.7 410.6,316.6 410.7,316.7 410.7,316.9 410.8,316.7 410.8,316.7 410.9,316.8 411.0,316.9 411.0,316.6 411.1,316.8 411.1,316.6 411.2,316.7 411.3,316.5 411.3,316.7 411.4,316.6 411.4,316.6 411.5,316.8 411.5,316.6 411.6,316.6 411.7,316.9 411.7,316.9 411.8,316.8 411.8,316.6 411.9,316.8 412.0,316.9 412.0,317.0 412.1,316.8 412.1,316.8 412.2,316.9 412.2,316.8 412.3,316.9 412.4,316.8 412.4,317.0 412.5,316.9 412.5,316.8 412.6,316.9 412.6,317.0 412.7,316.9 412.7,316.9 412.8,316.9 412.8,316.8 412.9,317.0 412.9,316.9 413.0,316.9 413.0,316.9 413.1,317.0 413.1,317.1 413.2,316.9 413.3,316.9 413.3,316.9 413.4,317.1 413.4,317.0 413.5,317.0 413.5,317.0 413.6,316.9 413.6,317.0 413.7,317.0 413.7,317.0 413.8,317.1 413.9,316.9 413.9,317.0 414.0,317.0 414.0,317.0 414.1,317.1 414.1,316.9 414.2,317.0 414.2,317.1 414.3,317.1 414.3,317.0 414.4,317.0 414.4,317.0 414.5,317.0 414.5,317.0 414.6,316.9 414.7,317.1 414.7,317.0 414.8,317.0 414.8,317.0 414.9,317.0 414.9,317.1 415.0,317.1 415.0,317.1 415.1,317.1 415.1,317.0 415.2,317.0 415.2,317.1 415.3,317.1 415.3,317.1 415.4,317.1 415.4,317.1 415.5,317.0 415.5,317.0 415.6,317.2 415.6,317.1 415.7,317.1 415.7,317.1 415.8,317.0 415.8,317.0 415.9,317.1 415.9,317.0 416.0,317.1 416.0,317.1 416.1,317.1 416.1,317.0 416.2,317.1 416.2,317.1 416.3,317.1 416.3,317.1 416.4,317.2 416.4,317.1 416.5,317.1 416.5,317.1 416.6,317.1 416.6,317.0 416.7,317.2 416.7,317.1 416.8,317.2 416.8,317.1 416.9,317.1 416.9,317.2 417.0,317.1 417.0,317.1 417.1,317.1 417.1,317.1 417.2,317.1 417.2,317.1 417.3,317.2 417.3,317.1 417.3,317.1 417.4,317.2 417.4,317.1 417.5,317.1 417.5,317.1 417.6,317.2 417.6,317.2 417.7,317.2 417.7,317.2 417.8,317.2 417.8,317.2 417.9,317.2 417.9,317.2 418.0,317.2 418.0,317.2 418.1,317.2 418.1,317.2 418.1,317.2 418.2,317.3 418.2,317.2 418.3,317.2 418.3,317.2 418.4,317.2 418.4,317.2 418.5,317.2 418.5,317.2 418.6,317.2 418.6,317.2 418.6,317.2 418.7,317.2 418.7,317.2 418.8,317.2 418.8,317.2 418.9,317.2 418.9,317.2 419.0,317.2 419.0,317.2 419.1,317.2 419.1,317.2 419.1,317.3 419.2,317.2 419.2,317.3 419.3,317.3 419.3,317.3 419.4,317.3 419.4,317.3 419.5,317.3 419.5,317.3 419.5,317.3 419.6,317.3 419.6,317.2 419.7,317.3 419.7,317.3 419.8,317.3 419.8,317.3 419.8,317.3 419.9,317.3 419.9,317.3 420.0,317.3 420.0,317.3 420.0,317.3 420.1,317.3 420.1,317.3 420.1,317.3 420.2,317.3 420.2,317.3 420.3,317.3 420.3,317.3 420.4,317.3 420.4,317.3 420.4,317.3 420.5,317.3 420.5,317.3 420.6,317.3 420.6,317.3 420.7,317.3 420.7,317.3 420.7,317.3 420.8,317.3 420.8,317.3 420.9,317.3 420.9,317.3 420.9,317.3 421.0,317.3 421.0,317.3 421.1,317.3 421.1,317.3 421.2,317.3 421.2,317.3 421.2,317.3 421.3,317.3 421.3,317.3 421.4,317.3 421.4,317.3 421.4,317.3 421.5,317.3 421.5,317.3 421.6,317.3 421.6,317.3 421.6,317.3 421.7,317.3 421.7,317.3 421.8,317.3 421.8,317.3 421.8,317.3 421.9,317.3 421.9,317.3 422.0,317.3 422.0,317.3 422.1,317.3 422.1,317.3 422.1,317.3 422.2,317.3 422.2,317.3 422.2,317.3 422.3,317.3 422.3,317.3 422.4,317.3 422.4,317.3 422.4,317.3 422.5,317.3 422.5,317.3 422.6,317.3 422.6,317.3 422.6,317.3 422.7,317.3 422.7,317.3 422.8,317.3 422.8,317.3 422.8,317.3 422.9,317.3 422.9,317.3 423.0,317.3 423.0,317.3 423.0,317.3 423.1,317.3 423.1,317.3 423.1,317.3 423.2,317.3 423.2,317.3 423.3,317.3 423.3,317.3 423.3,317.3 423.4,317.3 423.4,317.3 423.5,317.3 423.5,317.3 423.5,317.3 423.6,317.3 423.6,317.3 423.6,317.3 423.7,317.3 423.7,317.3 423.8,317.3 423.8,317.3 423.8,317.3 423.9,317.3 423.9,317.3 423.9,317.3 424.0,317.3 424.0,317.3 424.1,317.3 424.1,317.3 424.1,317.3 424.2,317.3 424.2,317.3 424.2,317.3 424.3,317.3 424.3,317.3 424.4,317.3 424.4,317.3 424.4,317.3 424.5,317.3 424.5,317.3 424.5,317.3 424.6,317.3 424.6,317.3 424.6,317.3 424.7,317.3 424.7,317.3 424.8,317.3 424.8,317.3 424.8,317.3 424.9,317.3 424.9,317.3 424.9,317.3 425.0,317.3 425.0,317.3 425.0,317.3 425.1,317.3 425.1,317.3 425.1,317.3 425.2,317.3 425.2,317.3 425.3,317.3 425.3,317.3 425.3,317.3 425.4,317.3 425.4,317.3 425.4,317.3 425.5,317.3 425.5,317.3 425.5,317.3 425.6,317.3 425.6,317.3 425.6,317.3 425.7,317.3 425.7,317.3 425.7,317.3 425.8,317.3 425.8,317.3 425.9,317.3 425.9,317.3 425.9,317.3 426.0,317.3 426.0,317.3 426.0,317.3 426.1,317.3 426.1,317.3 426.1,317.3 426.2,317.3 426.2,317.3 426.2,317.3 426.3,317.3 426.3,317.3 426.3,317.3 426.4,317.3 426.4,317.3 426.4,317.3 426.5,317.3 426.5,317.3 426.5,317.3 426.6,317.3 426.6,317.3 426.6,317.3 426.7,317.3 426.7,317.3 426.7,317.3 426.8,317.3 426.8,317.3 426.8,317.3 426.9,317.3 426.9,317.3 426.9,317.3 427.0,317.3 427.0,317.3 427.0,317.3 427.1,317.3 427.1,317.3 427.1,317.3 427.2,317.3 427.2,317.3 427.2,317.3 427.3,317.3 427.3,317.3 427.3,317.3 427.4,317.3 427.4,317.3 427.4,317.3 427.5,317.3 427.5,317.3 427.5,317.3 427.6,317.3 427.6,317.3 427.6,317.3 427.7,317.3 427.7,317.3 427.7,317.3 427.8,317.4 427.8,317.3 427.8,317.3 427.9,317.3 427.9,317.3 427.9,317.3 428.0,317.3 428.0,317.3 428.0,317.3 428.1,317.3 428.1,317.3 428.1,317.3 428.2,317.3 428.2,317.3 428.2,317.3 428.2,317.3 428.3,317.3 428.3,317.3 428.3,317.4 428.4,317.3 428.4,317.3 428.4,317.3 428.5,317.3 428.5,317.3 428.5,317.3 428.6,317.3 428.6,317.3 428.6,317.3 428.7,317.3 428.7,317.3 428.7,317.3 428.8,317.3 428.8,317.3 428.8,317.3 428.8,317.3 428.9,317.3 428.9,317.3 428.9,317.4 429.0,317.3 429.0,317.3 429.0,317.3 429.1,317.3 429.1,317.3 429.1,317.3 429.2,317.3 429.2,317.3 429.2,317.3 429.3,317.3 429.3,317.4 429.3,317.3 429.3,317.3 429.4,317.3 429.4,317.3 429.4,317.3 429.5,317.3 429.5,317.3 429.5,317.3 429.6,317.3 429.6,317.3 429.6,317.3 429.6,317.3 429.7,317.3 429.7,317.3 429.7,317.3 429.8,317.3 429.8,317.3 429.8,317.3 429.9,317.3 429.9,317.3 429.9,317.3 429.9,317.3 430.0,317.3 430.0,317.4 430.0,317.3 430.1,317.3 430.1,317.3 430.1,317.3 430.2,317.3 430.2,317.3 430.2,317.3 430.2,317.3 430.3,317.3 430.3,317.3 430.3,317.3 430.4,317.3 430.4,317.3 430.4,317.3 430.5,317.3 430.5,317.3 430.5,317.3 430.5,317.3 430.6,317.3 430.6,317.3 430.6,317.3 430.7,317.3 430.7,317.3 430.7,317.3 430.7,317.3 430.8,317.3 430.8,317.3 430.8,317.3 430.9,317.3 430.9,317.3 430.9,317.3 430.9,317.4 431.0,317.4 431.0,317.3 431.0,317.3 431.1,317.3 431.1,317.3 431.1,317.3 431.2,317.3 431.2,317.3 431.2,317.3 431.2,317.3 431.3,317.4 431.3,317.3 431.3,317.3 431.4,317.3 431.4,317.3 431.4,317.3 431.4,317.3 431.5,317.3 431.5,317.3 431.5,317.3 431.5,317.3 431.6,317.3 431.6,317.3 431.6,317.3 431.7,317.3 431.7,317.3 431.7,317.3 431.7,317.3 431.8,317.3 431.8,317.3 431.8,317.3 431.9,317.3 431.9,317.3 431.9,317.3 431.9,317.3 432.0,317.4 432.0,317.3 432.0,317.3 432.1,317.3 432.1,317.3 432.1,317.3 432.1,317.3 432.2,317.3 432.2,317.3 432.2,317.3 432.2,317.3 432.3,317.4 432.3,317.3 432.3,317.3 432.4,317.3 432.4,317.4 432.4,317.3 432.4,317.3 432.5,317.3 432.5,317.3 432.5,317.3 432.5,317.3 432.6,317.3 432.6,317.4 432.6,317.3 432.7,317.3 432.7,317.3 432.7,317.3 432.7,317.3 432.8,317.3 432.8,317.3 432.8,317.3 432.8,317.4 432.9,317.3 432.9,317.3 432.9,317.3 433.0,317.3 433.0,317.3 433.0,317.4 433.0,317.3 433.1,317.3 433.1,317.3 433.1,317.3 433.1,317.3 433.2,317.3 433.2,317.4 433.2,317.3 433.2,317.3 433.3,317.4 433.3,317.3 433.3,317.4 433.4,317.3 433.4,317.3 433.4,317.3 433.4,317.3 433.5,317.3 433.5,317.3 433.5,317.3 433.5,317.3 433.6,317.4 433.6,317.3 433.6,317.3 433.6,317.3 433.7,317.3 433.7,317.3 433.7,317.3 433.7,317.4 433.8,317.4 433.8,317.3 433.8,317.4 433.9,317.3 433.9,317.3 433.9,317.3 433.9,317.3 434.0,317.3 434.0,317.3 434.0,317.3 434.0,317.3 434.1,317.4 434.1,317.3 434.1,317.3 434.1,317.3 434.2,317.3 434.2,317.3 434.2,317.3 434.2,317.3 434.3,317.4 434.3,317.4 434.3,317.3 434.4,317.3 434.4,317.3 434.4,317.3 434.4,317.3 434.5,317.3 434.5,317.3 434.5,317.3 434.5,317.3 434.6,317.4 434.6,317.3 434.6,317.3 434.6,317.4 434.7,317.3 434.7,317.4 434.7,317.3 434.7,317.3 434.8,317.3 434.8,317.4 434.8,317.3 434.8,317.3 434.9,317.3 434.9,317.3 434.9,317.3 434.9,317.4 435.0,317.3 435.0,317.3 435.0,317.4 435.0,317.3 435.1,317.3 435.1,317.3 435.1,317.4 435.1,317.3 435.2,317.3 435.2,317.3 435.2,317.3 435.2,317.4 435.3,317.3 435.3,317.3 435.3,317.4 435.3,317.4 435.4,317.3 435.4,317.3 435.4,317.3 435.4,317.3 435.5,317.3 435.5,317.4 435.5,317.3 435.5,317.4 435.6,317.4 435.6,317.3 435.6,317.3 435.7,317.4 435.7,317.3 435.7,317.3 435.7,317.4 435.8,317.3 435.8,317.4 435.9,317.4 435.9,317.3 435.9,317.3 435.9,317.4 436.0,317.4 436.0,317.3 436.0,317.4 436.0,317.4 436.1,317.3 436.1,317.3 436.1,317.4 436.1,317.3 436.2,317.3 436.2,317.4 436.3,317.4 436.3,317.3 436.3,317.3 436.3,317.3 436.4,317.3 436.4,317.4 436.4,317.3 436.4,317.4 436.5,317.4 436.5,317.3 436.5,317.4 436.6,317.4 436.6,317.3 436.6,317.3 436.7,317.4 436.8,317.4 436.8,317.3 436.8,317.4 436.8,317.4 436.9,317.3 436.9,317.3 436.9,317.3 436.9,317.4 437.0,317.3 437.0,317.3 437.0,317.4 437.1,317.4 437.1,317.3 437.2,317.4 437.3,317.4 437.3,317.3 437.4,317.4 437.4,317.3 437.4,317.3 437.4,317.4 437.4,317.3 437.5,317.4 437.5,317.4 437.6,317.3 437.6,317.4 437.6,317.4 437.6,317.3 437.6,317.4 437.7,317.4 437.8,317.3 437.8,317.4 437.8,317.3 437.8,317.4 438.5,317.4 438.5,317.3 438.5,317.4 438.7,317.4 438.8,317.3 438.8,317.4 438.9,317.4 439.0,317.3 439.0,317.4 451.4,317.4" class="rl"/>
<polyline points="262.7,317.4 281.6,317.4 287.7,317.3 292.7,317.3 296.9,317.3 300.6,317.3 303.8,317.3 306.7,317.3 309.3,317.3 311.6,317.3 313.8,317.3 315.9,317.3 317.7,317.3 319.5,317.3 320.0,317.3 321.2,317.1 322.7,317.0 324.2,317.1 325.6,316.5 326.1,316.6 326.9,315.7 327.7,315.0 328.2,314.9 329.4,314.9 330.6,315.2 331.7,314.5 332.5,315.0 332.8,314.5 333.8,315.7 334.8,313.6 335.8,314.5 336.7,313.6 337.3,313.7 337.6,315.5 338.4,314.0 339.3,313.4 340.1,313.2 340.9,312.9 341.7,313.5 342.1,314.0 342.4,313.9 343.1,313.7 343.8,313.8 344.5,313.1 345.2,313.7 345.9,313.2 346.5,312.4 346.9,313.7 347.1,314.0 347.8,313.7 348.4,313.0 348.9,314.1 349.5,315.1 350.1,314.4 350.6,313.0 351.2,313.6 351.7,313.4 351.7,312.7 352.2,314.3 352.7,311.2 353.2,313.2 353.7,313.5 354.2,311.2 354.7,314.1 355.2,313.5 355.6,313.1 356.1,313.9 356.5,312.9 356.5,312.3 356.9,312.7 357.4,312.8 357.8,311.7 358.2,310.6 358.6,310.9 359.0,314.7 359.4,310.9 359.8,311.5 360.2,311.8 360.6,313.3 361.0,312.7 361.3,312.4 361.4,312.1 361.7,310.6 362.1,310.9 362.4,311.9 362.8,313.0 363.1,310.2 363.5,311.0 363.8,310.4 364.1,312.2 364.5,308.5 364.8,311.7 365.1,308.9 365.4,314.1 365.8,311.0 366.1,311.2 366.2,311.3 366.4,312.1 366.7,312.7 367.0,312.9 367.3,311.8 367.6,312.3 367.9,309.8 368.2,309.4 368.5,309.5 368.7,311.2 369.0,310.4 369.3,306.5 369.6,309.9 369.8,309.2 370.1,310.0 370.2,308.9 370.4,307.0 370.6,306.7 370.9,307.1 371.2,306.1 371.4,307.8 371.7,305.5 371.9,309.0 372.2,306.0 372.4,303.8 372.6,305.7 372.7,303.8 372.9,305.4 373.1,309.5 373.4,310.8 373.6,310.9 373.9,309.8 374.1,307.3 374.2,308.1 374.3,305.3 374.5,302.6 374.8,308.2 375.0,311.5 375.2,310.0 375.4,311.1 375.7,307.4 375.9,306.7 376.1,301.4 376.1,304.9 376.3,306.0 376.5,306.5 376.7,306.7 376.9,308.2 377.1,302.6 377.4,308.2 377.6,308.2 377.8,307.4 378.0,308.8 378.2,306.6 378.2,309.7 378.4,310.1 378.6,310.7 378.8,310.1 379.0,308.6 379.1,311.1 379.3,313.4 379.5,310.3 379.7,312.1 379.9,309.6 380.1,310.3 380.3,307.7 380.5,310.1 380.6,312.1 380.8,310.5 381.0,309.6 381.2,311.1 381.4,311.3 381.4,311.3 381.5,311.9 381.7,312.6 381.9,309.9 382.1,311.1 382.2,313.4 382.4,310.4 382.6,311.7 382.7,311.6 382.9,311.7 383.1,310.6 383.2,314.7 383.4,312.1 383.6,311.5 383.7,312.4 383.9,314.1 384.1,313.8 384.2,312.2 384.4,311.0 384.5,314.6 384.7,313.2 384.9,312.3 385.0,312.5 385.2,312.2 385.3,311.7 385.4,312.9 385.5,314.3 385.6,313.2 385.8,314.0 385.9,312.9 386.1,311.4 386.2,311.8 386.4,310.6 386.5,311.5 386.7,311.8 386.8,311.8 387.0,313.5 387.1,313.0 387.2,312.3 387.4,312.1 387.5,312.2 387.7,313.8 387.8,313.9 387.9,314.0 388.1,311.0 388.2,313.0 388.4,312.0 388.5,312.9 388.6,313.0 388.8,313.1 388.9,313.2 389.0,312.8 389.2,312.0 389.3,314.1 389.4,312.8 389.6,313.1 389.7,313.3 389.8,312.2 390.0,311.3 390.1,314.2 390.2,312.7 390.3,312.9 390.3,312.0 390.5,314.5 390.6,312.4 390.7,313.3 390.9,313.4 391.0,312.2 391.1,314.0 391.2,312.8 391.4,312.2 391.5,313.7 391.6,314.0 391.7,311.1 391.8,314.1 392.0,311.9 392.1,313.8 392.2,313.0 392.3,313.7 392.4,313.1 392.6,313.1 392.7,314.2 392.8,313.4 392.9,312.5 393.0,314.0 393.1,315.3 393.3,313.1 393.4,314.1 393.5,313.1 393.6,313.8 393.7,314.1 393.8,313.7 393.9,313.2 394.0,313.2 394.2,314.6 394.3,314.7 394.4,314.6 394.5,312.6 394.6,313.5 394.7,314.4 394.8,313.9 394.9,312.6 395.0,314.6 395.1,313.7 395.1,313.1 395.2,313.1 395.4,313.2 395.5,314.5 395.6,313.7 395.7,315.7 395.8,314.1 395.9,314.3 396.0,314.2 396.1,312.8 396.2,314.0 396.3,314.0 396.4,313.3 396.5,312.4 396.6,314.5 396.7,313.3 396.8,314.1 396.9,315.1 397.0,314.3 397.1,313.6 397.2,314.0 397.3,314.2 397.4,313.9 397.5,314.1 397.6,314.1 397.7,314.7 397.8,313.4 397.9,315.7 398.0,313.8 398.1,314.5 398.2,313.3 398.3,314.8 398.4,315.7 398.5,313.6 398.6,313.2 398.7,315.3 398.7,313.6 398.8,313.7 398.9,314.7 399.0,313.5 399.1,314.6 399.2,313.2 399.3,313.1 399.4,314.3 399.5,314.2 399.6,313.9 399.7,315.4 399.8,314.5 399.8,314.0 399.9,314.0 399.9,313.1 400.0,313.9 400.1,314.7 400.2,313.9 400.3,314.1 400.4,315.2 400.5,314.4 400.6,315.2 400.6,314.7 400.7,316.6 400.8,313.4 400.9,314.8 401.0,315.2 401.1,314.9 401.2,315.6 401.3,314.7 401.3,313.8 401.4,314.5 401.5,314.9 401.6,314.8 401.7,314.7 401.8,315.0 401.8,315.2 401.9,314.8 402.0,314.7 402.1,315.2 402.2,314.8 402.3,315.6 402.3,316.0 402.4,316.0 402.5,314.9 402.6,315.5 402.7,315.2 402.8,315.6 402.8,315.4 402.9,315.2 403.0,316.0 403.1,315.6 403.1,315.3 403.2,314.5 403.2,315.3 403.3,315.3 403.4,315.7 403.5,315.9 403.6,315.2 403.6,315.0 403.7,315.4 403.8,315.4 403.9,315.9 403.9,315.2 404.0,315.6 404.1,315.9 404.2,315.4 404.3,316.1 404.3,316.1 404.4,315.8 404.5,316.2 404.6,316.2 404.6,315.7 404.7,315.9 404.8,316.1 404.9,315.8 404.9,316.0 405.0,315.8 405.1,315.9 405.2,315.9 405.2,316.5 405.3,316.0 405.4,316.2 405.5,316.1 405.5,316.3 405.6,316.1 405.7,316.4 405.7,316.5 405.8,316.3 405.9,316.5 406.0,316.7 406.0,316.5 406.1,316.6 406.2,316.6 406.2,316.6 406.3,316.6 406.3,316.7 406.4,316.1 406.5,316.8 406.5,316.6 406.6,316.6 406.7,316.8 406.7,316.7 406.8,316.8 406.9,316.9 407.0,316.4 407.0,316.9 407.1,316.8 407.2,316.5 407.2,316.9 407.3,316.5 407.4,316.7 407.4,316.5 407.5,316.9 407.6,316.8 407.6,316.6 407.7,316.8 407.8,316.9 407.8,316.6 407.9,316.8 408.0,316.9 408.0,316.8 408.1,316.7 408.2,316.8 408.2,316.5 408.3,316.7 408.4,316.8 408.4,316.8 408.5,316.7 408.6,316.9 408.6,316.9 408.7,316.8 408.8,316.9 408.8,316.9 408.9,317.2 409.0,316.9 409.0,316.9 409.1,316.7 409.2,317.0 409.2,316.9 409.3,316.9 409.3,316.9 409.4,316.7 409.5,316.7 409.5,316.7 409.6,317.0 409.7,317.0 409.7,316.8 409.8,317.0 409.9,316.8 409.9,316.6 410.0,317.1 410.0,316.8 410.1,316.9 410.2,316.9 410.2,317.0 410.3,317.1 410.3,317.0 410.4,317.1 410.5,317.1 410.5,317.0 410.6,317.0 410.7,317.1 410.7,316.9 410.8,317.0 410.8,317.0 410.9,317.0 411.0,317.1 411.0,316.8 411.1,317.0 411.1,316.9 411.2,317.1 411.3,317.0 411.3,317.0 411.4,317.1 411.4,317.0 411.5,316.9 411.5,317.1 411.6,317.1 411.7,317.2 411.7,317.1 411.8,317.1 411.8,317.1 411.9,317.1 412.0,317.1 412.0,317.1 412.0,317.0 412.1,317.0 412.1,317.1 412.2,317.0 412.2,317.1 412.3,317.1 412.4,317.1 412.4,317.0 412.5,317.1 412.5,317.1 412.6,317.1 412.6,317.2 412.7,317.2 412.8,317.1 412.8,317.1 412.9,317.1 412.9,317.1 413.0,317.2 413.0,317.1 413.1,317.1 413.1,317.2 413.2,317.1 413.3,317.2 413.3,317.2 413.4,317.2 413.4,317.1 413.5,317.2 413.5,317.1 413.6,317.2 413.6,317.2 413.7,317.1 413.7,317.2 413.8,317.2 413.9,317.2 413.9,317.2 414.0,317.2 414.0,317.2 414.1,317.2 414.1,317.2 414.2,317.2 414.2,317.2 414.3,317.2 414.3,317.2 414.4,317.2 414.4,317.2 414.5,317.2 414.5,317.2 414.6,317.3 414.7,317.2 414.7,317.2 414.8,317.2 414.8,317.2 414.9,317.2 414.9,317.2 415.0,317.2 415.0,317.2 415.1,317.3 415.1,317.1 415.2,317.2 415.2,317.2 415.3,317.3 415.3,317.2 415.4,317.3 415.4,317.2 415.5,317.2 415.5,317.3 415.6,317.2 415.6,317.3 415.7,317.2 415.7,317.3 415.8,317.3 415.8,317.3 415.9,317.2 415.9,317.2 416.0,317.2 416.0,317.2 416.1,317.3 416.1,317.2 416.2,317.2 416.2,317.3 416.3,317.2 416.3,317.3 416.4,317.3 416.4,317.3 416.5,317.3 416.5,317.2 416.6,317.3 416.6,317.3 416.7,317.3 416.7,317.3 416.8,317.2 416.8,317.3 416.9,317.3 416.9,317.3 417.0,317.3 417.0,317.3 417.1,317.3 417.1,317.3 417.2,317.3 417.2,317.3 417.3,317.3 417.3,317.3 417.3,317.3 417.4,317.3 417.4,317.3 417.5,317.3 417.5,317.3 417.6,317.3 417.6,317.3 417.7,317.3 417.7,317.3 417.8,317.3 417.8,317.3 417.9,317.3 417.9,317.4 418.0,317.3 418.0,317.3 418.1,317.3 418.1,317.3 418.1,317.3 418.2,317.3 418.2,317.3 418.3,317.3 418.3,317.3 418.4,317.3 418.4,317.3 418.5,317.3 418.5,317.4 418.6,317.3 418.6,317.3 418.6,317.3 418.7,317.4 418.7,317.4 418.8,317.3 418.8,317.4 451.4,317.4" class="bl"/>
</g>
<path d="M262.70 317.4v-1.9M262.70 202.4v1.9M281.63 317.4v-1.0M281.63 202.4v1.0M292.71 317.4v-1.0M292.71 202.4v1.0M300.57 317.4v-1.0M300.57 202.4v1.0M306.67 317.4v-1.0M306.67 202.4v1.0M311.65 317.4v-1.0M311.65 202.4v1.0M315.86 317.4v-1.0M315.86 202.4v1.0M319.50 317.4v-1.0M319.50 202.4v1.0M322.72 317.4v-1.0M322.72 202.4v1.0M325.60 317.4v-1.9M325.60 202.4v1.9M344.53 317.4v-1.0M344.53 202.4v1.0M355.61 317.4v-1.0M355.61 202.4v1.0M363.47 317.4v-1.0M363.47 202.4v1.0M369.57 317.4v-1.0M369.57 202.4v1.0M374.55 317.4v-1.0M374.55 202.4v1.0M378.76 317.4v-1.0M378.76 202.4v1.0M382.40 317.4v-1.0M382.40 202.4v1.0M385.62 317.4v-1.0M385.62 202.4v1.0M388.50 317.4v-1.9M388.50 202.4v1.9M407.43 317.4v-1.0M407.43 202.4v1.0M418.51 317.4v-1.0M418.51 202.4v1.0M426.37 317.4v-1.0M426.37 202.4v1.0M432.47 317.4v-1.0M432.47 202.4v1.0M437.45 317.4v-1.0M437.45 202.4v1.0M441.66 317.4v-1.0M441.66 202.4v1.0M445.30 317.4v-1.0M445.30 202.4v1.0M448.52 317.4v-1.0M448.52 202.4v1.0M262.7 202.50h1.9M451.4 202.50h-1.9M262.7 218.50h1.9M451.4 218.50h-1.9M262.7 235.50h1.9M451.4 235.50h-1.9M262.7 251.50h1.9M451.4 251.50h-1.9M262.7 268.50h1.9M451.4 268.50h-1.9M262.7 284.50h1.9M451.4 284.50h-1.9M262.7 301.50h1.9M451.4 301.50h-1.9M262.7 317.50h1.9M451.4 317.50h-1.9" class="tk"/>
<rect x="262.7" y="202.4" width="188.70" height="115.00" class="ax"/>
<text x="356.45" y="177.10" class="tt">Electromyography</text>
<text x="356.45" y="198.20" class="tt">Held</text>
<path d="M264.40 214.40h40.5" class="lr"/>
<path d="M264.40 232.90h40.5" class="lb"/>
<text x="308.40" y="220.20" class="lg">MPF Pre:  90.07 Hz</text>
<text x="308.40" y="238.80" class="lg">MPF Post: 93.51 Hz</text>
<text x="263.90" y="336.90" class="tl" text-anchor="middle">0</text>
<text x="324.80" y="336.90" class="tl" text-anchor="middle">10</text>
<text x="385.40" y="336.90" class="tl" text-anchor="middle">100</text>
<text x="445.30" y="336.90" class="tl" text-anchor="middle">1000</text>
<text x="357.25" y="355.70" class="tt al">Frequency (Hz)</text>
<path d="M505.07 202.4V317.4M516.12 202.4V317.4M523.95 202.4V317.4M530.03 202.4V317.4M534.99 202.4V317.4M539.19 202.4V317.4M542.82 202.4V317.4M546.03 202.4V317.4M567.77 202.4V317.4M578.82 202.4V317.4M586.65 202.4V317.4M592.73 202.4V317.4M597.69 202.4V317.4M601.89 202.4V317.4M605.52 202.4V317.4M608.73 202.4V317.4M630.47 202.4V317.4M641.52 202.4V317.4M649.35 202.4V317.4M655.43 202.4V317.4M660.39 202.4V317.4M664.59 202.4V317.4M668.22 202.4V317.4M671.43 202.4V317.4" class="mg"/>
<path d="M548.50 202.4V317.4M611.50 202.4V317.4M486.2 218.50H674.3M486.2 235.50H674.3M486.2 251.50H674.3M486.2 268.50H674.3M486.2 284.50H674.3M486.2 301.50H674.3" class="Mg"/>
<clipPath id="c12"><rect x="486.2" y="202.4" width="188.10" height="115.00"/></clipPath><g clip-path="url(#c12)">
<polygon points="486.2,317.4 511.2,317.3 523.9,317.3 532.6,317.3 539.2,317.3 542.0,317.3 544.5,316.6 547.0,316.0 548.9,313.2 552.5,313.5 552.7,313.7 556.0,310.4 558.0,310.5 559.0,310.9 561.7,307.2 562.0,310.5 564.1,309.5 565.5,308.0 566.4,302.7 566.9,299.7 568.3,308.0 568.4,304.8 570.4,310.3 572.0,309.5 572.2,309.7 573.9,308.0 575.4,304.5 576.0,307.5 576.9,306.3 578.0,302.0 578.4,300.2 579.0,294.1 579.7,300.9 580.0,302.0 581.0,303.1 582.0,303.0 582.2,303.1 583.4,297.4 584.0,300.0 584.5,296.9 585.4,288.0 585.6,289.6 586.6,297.4 586.8,299.0 587.7,300.7 588.6,299.3 589.0,301.5 589.6,301.0 590.5,298.9 591.0,296.0 591.3,288.0 592.2,286.7 592.6,286.0 593.0,285.5 593.8,293.6 594.2,296.0 594.6,296.4 595.3,294.9 596.0,292.0 596.1,292.1 596.8,288.4 597.4,287.0 597.5,284.8 598.1,293.5 598.8,297.0 598.8,294.7 599.4,296.1 600.1,300.5 600.7,300.6 601.0,303.0 601.3,301.9 601.9,303.3 602.5,301.5 603.0,301.7 603.6,298.0 604.1,303.9 604.7,304.3 605.2,303.2 605.4,303.0 605.7,303.5 606.2,300.9 606.7,304.7 607.2,301.6 607.7,305.1 608.1,302.4 608.6,302.0 609.0,298.5 609.5,303.1 609.9,306.7 610.3,305.5 610.3,306.5 610.8,305.5 611.2,302.3 611.6,304.6 612.0,305.3 612.4,306.6 612.8,305.1 613.2,305.6 613.6,302.2 613.9,306.1 614.0,305.0 614.3,298.8 614.7,303.1 615.0,302.5 615.4,299.2 615.8,296.7 616.1,296.6 616.5,297.7 616.7,296.0 616.8,292.6 617.1,292.0 617.5,301.7 617.8,300.8 618.1,299.5 618.3,305.0 618.4,305.7 618.7,304.3 619.1,306.8 619.4,308.9 619.7,309.9 620.0,304.6 620.0,309.5 620.3,310.5 620.6,310.2 620.9,309.8 621.1,305.5 621.4,308.4 621.7,310.3 622.0,308.6 622.3,311.8 622.6,304.2 622.8,310.7 623.1,311.5 623.4,311.6 623.6,310.2 623.9,312.3 624.1,311.1 624.4,311.2 624.7,307.6 624.9,312.1 625.2,312.9 625.4,312.9 625.6,309.9 625.9,311.8 626.1,312.9 626.3,312.5 626.4,313.3 626.6,312.2 626.8,308.7 627.1,313.7 627.3,313.5 627.5,312.9 627.8,311.6 628.0,311.5 628.2,313.2 628.4,314.0 628.6,310.8 628.9,313.3 629.1,314.3 629.3,314.5 629.5,314.6 629.7,313.8 629.9,314.8 630.1,314.9 630.3,315.0 630.5,313.7 630.7,314.9 630.9,313.2 631.1,314.4 631.3,314.8 631.5,315.1 631.7,314.5 631.9,315.2 632.1,314.7 632.3,315.6 632.5,315.7 632.7,315.6 632.7,315.7 632.9,315.9 633.1,315.8 633.3,315.8 633.4,315.3 633.6,315.5 633.8,315.9 634.0,315.5 634.2,316.1 634.3,316.2 634.5,315.9 634.7,315.5 634.9,315.9 635.0,316.2 635.2,315.9 635.4,316.1 635.6,316.3 635.7,316.2 635.9,316.0 636.1,316.4 636.2,316.3 636.4,316.5 636.6,316.3 636.7,315.1 636.9,316.5 637.0,316.4 637.2,316.5 637.4,316.6 637.5,316.5 637.7,316.5 637.8,316.0 638.0,316.6 638.1,316.6 638.3,316.4 638.4,316.4 638.6,316.7 638.7,316.8 638.9,316.7 639.0,316.9 639.2,316.8 639.3,317.0 639.5,316.9 639.6,317.0 639.8,317.0 639.9,316.8 640.0,317.0 640.1,317.1 640.2,316.9 640.4,317.1 640.5,317.1 640.6,316.7 640.8,317.0 640.9,317.0 641.1,317.1 641.2,317.1 641.3,317.1 641.5,317.0 641.6,317.1 641.7,317.1 641.9,317.1 642.0,317.0 642.1,317.1 642.3,317.0 642.4,317.1 642.5,316.8 642.7,316.8 642.8,317.1 642.9,317.1 643.1,317.1 643.2,317.1 643.3,317.2 643.4,317.1 643.6,317.2 643.7,317.1 643.8,317.1 643.9,317.2 644.1,317.1 644.2,317.1 644.3,317.2 644.4,317.2 644.6,317.2 644.7,317.1 644.8,317.1 644.9,317.2 645.0,317.2 645.2,317.2 645.3,317.2 645.4,317.2 645.5,317.2 645.6,317.2 645.8,317.2 645.9,317.3 646.0,317.2 646.1,317.2 646.2,317.3 646.3,317.2 646.4,317.2 646.6,317.3 646.7,317.3 646.8,317.2 646.9,317.3 647.0,317.3 647.1,317.3 647.2,317.3 647.3,317.3 647.4,317.1 647.6,317.3 647.7,317.3 647.8,317.3 647.9,317.3 648.0,317.3 648.1,317.3 648.2,317.3 648.3,317.3 648.4,317.3 648.5,317.3 648.6,317.3 648.7,317.4 674.3,317.4 674.3,317.4 644.3,317.4 644.2,317.4 644.2,317.4 644.2,317.4 644.1,317.4 644.1,317.4 644.0,317.4 644.0,317.4 643.9,317.4 643.9,317.4 643.9,317.4 643.8,317.4 643.8,317.4 643.7,317.4 643.7,317.4 643.7,317.4 643.6,317.4 643.6,317.4 643.5,317.4 643.5,317.4 643.4,317.4 643.4,317.4 643.4,317.4 643.3,317.4 643.3,317.4 643.2,317.4 643.2,317.4 643.1,317.4 643.1,317.4 643.1,317.4 643.0,317.4 643.0,317.4 642.9,317.4 642.9,317.4 642.8,317.4 642.8,317.4 642.8,317.4 642.7,317.4 642.7,317.4 642.6,317.4 642.6,317.4 642.5,317.4 642.5,317.4 642.5,317.4 642.4,317.4 642.4,317.4 642.3,317.4 642.3,317.4 642.2,317.4 642.2,317.4 642.1,317.4 642.1,317.4 642.1,317.4 642.0,317.4 642.0,317.4 641.9,317.4 641.9,317.4 641.8,317.4 641.8,317.4 641.7,317.4 641.7,317.4 641.7,317.4 641.6,317.4 641.6,317.4 641.5,317.4 641.5,317.4 641.4,317.4 641.4,317.4 641.3,317.4 641.3,317.4 641.2,317.4 641.2,317.4 641.1,317.4 641.1,317.4 641.1,317.4 641.0,317.4 641.0,317.4 640.9,317.4 640.9,317.4 640.8,317.4 640.8,317.4 640.7,317.4 640.7,317.4 640.6,317.4 640.6,317.4 640.5,317.4 640.5,317.4 640.5,317.4 640.4,317.4 640.4,317.4 640.3,317.4 640.3,317.4 640.2,317.4 640.2,317.4 640.1,317.4 640.1,317.4 640.0,317.4 640.0,317.4 639.9,317.4 639.9,317.4 639.8,317.4 639.8,317.4 639.7,317.4 639.7,317.4 639.6,317.4 639.6,317.4 639.5,317.4 639.5,317.4 639.4,317.4 639.4,317.4 639.3,317.4 639.3,317.4 639.2,317.4 639.2,317.4 639.1,317.4 639.1,317.4 639.0,317.4 639.0,317.4 638.9,317.4 638.9,317.4 638.8,317.4 638.8,317.4 638.7,317.4 638.7,317.4 638.6,317.4 638.6,317.4 638.5,317.4 638.5,317.4 638.4,317.4 638.4,317.4 638.3,317.4 638.3,317.4 638.2,317.4 638.2,317.4 638.1,317.4 638.1,317.4 638.0,317.4 638.0,317.4 637.9,317.4 637.9,317.4 637.8,317.4 637.8,317.4 637.7,317.4 637.7,317.4 637.6,317.4 637.6,317.4 637.5,317.4 637.5,317.4 637.5,317.4 637.4,317.4 637.4,317.4 637.3,317.4 637.2,317.4 637.2,317.4 637.1,317.4 637.1,317.4 637.0,317.4 637.0,317.4 636.9,317.4 636.9,317.4 636.8,317.4 636.8,317.4 636.7,317.4 636.7,317.4 636.6,317.4 636.6,317.4 636.5,317.4 636.4,317.4 636.4,317.4 636.3,317.4 636.3,317.4 636.2,317.4 636.2,317.4 636.1,317.4 636.1,317.4 636.0,317.4 635.9,317.4 635.9,317.4 635.8,317.4 635.8,317.4 635.7,317.4 635.7,317.4 635.6,317.4 635.6,317.4 635.5,317.4 635.4,317.4 635.4,317.4 635.3,317.4 635.3,317.4 635.2,317.4 635.2,317.4 635.1,317.4 635.0,317.4 635.0,317.4 634.9,317.4 634.9,317.4 634.8,317.4 634.7,317.4 634.7,317.4 634.6,317.4 634.6,317.4 634.5,317.4 634.5,317.4 634.4,317.4 634.3,317.4 634.3,317.4 634.2,317.4 634.2,317.4 634.1,317.2 634.0,317.4 634.0,317.4 633.9,317.4 633.9,317.4 633.8,317.4 633.7,317.3 633.7,317.4 633.6,317.4 633.6,317.4 633.5,317.4 633.4,317.4 633.4,317.4 633.3,317.4 633.3,317.4 633.2,317.1 633.1,317.3 633.1,317.4 633.0,317.4 632.9,317.4 632.9,317.3 632.8,317.4 632.8,317.3 632.7,317.4 632.6,317.4 632.6,317.0 632.5,317.4 632.4,317.3 632.4,317.0 632.3,317.4 632.3,317.3 632.2,317.4 632.1,317.2 632.1,317.2 632.0,317.4 631.9,317.4 631.9,317.3 631.8,317.4 631.7,317.2 631.7,317.4 631.6,317.4 631.5,317.4 631.5,317.2 631.4,317.2 631.3,317.2 631.3,317.4 631.2,317.4 631.1,317.2 631.1,317.2 631.1,317.2 631.0,317.4 630.9,316.9 630.9,316.9 630.8,316.7 630.7,317.0 630.7,316.6 630.6,317.0 630.5,317.4 630.5,316.7 630.4,317.3 630.3,317.1 630.3,317.0 630.2,316.8 630.1,317.2 630.1,316.6 630.0,316.4 629.9,316.8 629.9,316.5 629.8,317.3 629.7,316.2 629.6,316.9 629.6,316.9 629.5,316.8 629.4,316.3 629.4,316.5 629.3,316.8 629.2,316.7 629.1,315.9 629.1,316.4 629.0,316.0 628.9,316.5 628.9,317.2 628.8,316.7 628.7,315.9 628.6,316.1 628.6,315.9 628.5,316.6 628.4,316.3 628.4,316.9 628.3,316.4 628.2,317.1 628.1,315.9 628.1,316.4 628.0,315.5 627.9,316.3 627.8,315.9 627.8,316.6 627.7,316.0 627.6,315.8 627.5,316.2 627.5,315.8 627.4,316.2 627.3,315.6 627.2,316.2 627.1,316.0 627.1,315.5 627.0,315.9 626.9,315.7 626.8,315.7 626.8,316.2 626.7,315.4 626.6,315.6 626.5,316.0 626.4,314.6 626.4,315.9 626.3,315.6 626.3,315.0 626.2,316.0 626.1,315.8 626.0,316.6 626.0,316.3 625.9,316.4 625.8,314.4 625.7,314.8 625.6,315.5 625.6,315.8 625.5,315.2 625.4,314.2 625.3,315.6 625.2,316.0 625.2,315.4 625.1,315.0 625.0,315.0 624.9,314.9 624.8,314.4 624.7,314.8 624.7,314.6 624.6,314.4 624.5,314.4 624.4,314.7 624.3,313.9 624.2,314.6 624.1,313.9 624.1,315.4 624.0,315.4 623.9,315.4 623.8,314.2 623.7,315.4 623.6,313.4 623.5,314.3 623.4,314.0 623.4,314.8 623.3,315.3 623.2,315.1 623.1,315.0 623.0,313.5 622.9,313.9 622.8,313.8 622.7,313.1 622.6,314.5 622.6,313.8 622.5,314.1 622.4,313.8 622.3,314.1 622.2,314.0 622.1,314.2 622.0,313.5 621.9,313.3 621.8,312.7 621.7,313.7 621.6,314.0 621.5,313.4 621.5,313.5 621.4,314.4 621.3,314.0 621.2,312.9 621.1,312.4 621.1,312.9 621.0,313.8 620.9,313.4 620.8,313.6 620.7,311.9 620.6,313.4 620.5,312.6 620.4,313.8 620.3,313.2 620.2,314.5 620.1,311.6 620.0,312.8 619.9,312.0 619.8,315.0 619.7,314.1 619.6,312.9 619.5,311.0 619.4,312.7 619.3,312.7 619.2,313.4 619.1,312.4 619.0,313.9 618.8,312.4 618.7,314.8 618.6,314.1 618.5,313.1 618.4,311.4 618.3,313.0 618.2,310.2 618.1,312.8 618.0,311.6 617.9,312.7 617.8,312.2 617.7,311.5 617.6,312.3 617.5,311.9 617.5,309.6 617.3,312.8 617.2,310.5 617.1,312.0 617.0,310.2 616.9,311.1 616.8,310.1 616.7,312.1 616.6,311.8 616.5,310.8 616.3,310.6 616.2,311.8 616.1,312.6 616.0,312.7 615.9,307.9 615.8,310.3 615.6,311.7 615.5,310.7 615.4,310.1 615.3,308.6 615.2,310.0 615.0,311.5 614.9,311.8 614.8,309.8 614.7,311.5 614.6,313.9 614.4,312.0 614.3,306.2 614.2,313.0 614.1,312.4 613.9,307.5 613.8,310.3 613.7,309.4 613.6,309.9 613.5,310.3 613.4,310.1 613.3,309.7 613.2,310.1 613.1,310.8 612.9,310.3 612.8,309.4 612.7,310.1 612.5,312.3 612.4,313.1 612.3,310.2 612.1,310.1 612.0,310.6 611.9,310.0 611.7,309.9 611.6,310.9 611.5,310.6 611.3,310.9 611.2,312.2 611.0,312.2 610.9,310.8 610.8,309.5 610.6,308.9 610.5,310.8 610.3,308.9 610.3,311.1 610.2,311.8 610.1,314.0 609.9,310.0 609.8,310.1 609.6,310.5 609.5,309.8 609.3,309.6 609.2,311.8 609.0,312.5 608.9,312.3 608.7,310.9 608.6,310.9 608.4,310.6 608.3,310.1 608.1,311.0 608.0,311.6 607.8,310.0 607.7,310.9 607.5,310.8 607.3,311.0 607.2,309.6 607.0,309.5 606.9,309.4 606.7,308.1 606.5,309.4 606.4,308.8 606.2,311.0 606.0,313.1 605.9,311.6 605.7,308.2 605.5,311.2 605.4,309.5 605.4,309.3 605.2,307.8 605.0,309.6 604.8,309.4 604.7,309.2 604.5,310.4 604.3,310.7 604.1,308.0 603.9,311.9 603.8,309.7 603.6,308.0 603.4,308.8 603.2,305.5 603.0,307.9 602.8,309.7 602.7,307.3 602.5,307.1 602.3,308.4 602.2,308.7 602.1,307.6 601.9,308.7 601.7,307.2 601.5,307.3 601.3,303.3 601.1,307.6 600.9,307.1 600.7,302.1 600.5,304.6 600.3,305.8 600.1,298.4 599.9,306.2 599.7,305.7 599.4,299.7 599.2,303.9 599.0,303.9 599.0,302.3 598.8,303.2 598.6,300.7 598.4,300.0 598.1,303.2 597.9,299.3 597.7,304.8 597.5,297.8 597.2,309.1 597.0,305.0 596.8,307.1 596.5,308.7 596.3,301.4 596.1,305.4 595.8,307.5 595.8,304.7 595.6,308.6 595.3,304.0 595.1,304.7 594.8,304.8 594.6,304.8 594.3,304.7 594.1,304.2 593.8,302.5 593.5,305.1 593.3,304.4 593.0,303.6 592.7,302.0 592.5,301.0 592.2,304.1 591.9,303.5 591.8,300.7 591.6,301.4 591.3,303.7 591.0,302.8 590.7,303.7 590.5,301.2 590.2,303.0 589.9,301.1 589.6,304.8 589.2,304.2 588.9,306.7 588.6,302.4 588.3,307.5 588.0,306.2 587.8,307.1 587.7,306.4 587.3,306.1 587.0,305.7 586.6,306.2 586.3,307.0 586.0,302.4 585.6,306.2 585.3,310.4 584.9,302.4 584.6,304.7 584.5,305.0 584.2,303.8 583.8,307.0 583.4,308.0 583.0,304.0 582.6,305.2 582.2,304.2 581.8,307.3 581.4,304.1 581.4,308.7 581.0,308.6 580.6,307.5 580.1,310.2 579.7,310.6 579.3,310.5 578.8,309.6 578.4,312.4 578.2,310.3 577.9,309.8 577.4,312.1 576.9,311.8 576.4,313.1 575.9,310.8 575.4,312.4 574.9,311.5 574.9,311.9 574.4,312.6 573.9,310.9 573.3,312.0 572.7,313.2 572.2,311.7 571.6,311.1 571.0,312.2 570.4,311.6 570.1,313.1 569.7,312.2 569.1,311.7 568.4,312.2 567.8,309.1 567.1,310.2 566.9,310.3 566.4,311.0 565.7,311.6 564.9,311.5 564.1,313.5 563.7,313.1 563.3,313.5 562.5,311.9 561.7,312.0 560.8,312.1 559.9,311.7 559.7,311.9 559.0,310.4 558.1,313.3 557.1,312.3 556.0,313.6 555.7,313.1 555.0,315.1 553.9,314.0 552.7,314.6 551.5,314.9 550.9,315.6 550.2,315.8 548.9,316.4 547.5,317.1 546.0,317.4 546.0,317.4 544.5,317.4 542.8,317.4 541.1,317.4 540.0,317.4 539.2,317.4 537.2,317.4 535.0,317.4 532.6,317.4 530.0,317.4 527.2,317.4 523.9,317.4 520.3,317.4 516.1,317.4 511.2,317.4 486.2,317.4" class="pb"/>
<polygon points="486.2,317.4 511.2,317.4 523.9,317.3 532.6,317.3 539.2,317.3 543.0,317.3 544.5,316.8 548.0,315.5 548.9,315.1 552.7,312.4 553.0,312.0 556.0,311.1 558.0,309.5 559.0,310.1 561.7,309.9 563.0,309.0 564.1,303.8 566.4,309.3 568.0,309.0 568.4,308.3 570.4,310.2 572.2,306.3 573.0,309.0 573.9,303.3 575.4,307.9 576.9,308.9 578.0,307.0 578.4,307.5 579.7,302.7 581.0,301.3 582.0,304.0 582.2,291.5 583.4,295.1 584.5,299.1 585.4,297.0 585.6,298.9 586.6,299.5 587.7,302.2 588.0,303.0 588.6,296.7 589.6,300.8 590.5,303.7 591.0,303.0 591.3,294.4 592.2,299.8 593.0,296.1 593.8,299.7 594.0,298.0 594.6,300.4 595.3,296.7 596.1,297.2 596.8,302.8 597.0,302.0 597.5,302.7 598.1,292.9 598.8,304.9 599.4,300.7 600.1,303.6 600.7,305.5 601.0,305.0 601.3,295.4 601.9,301.8 602.5,304.7 603.0,300.6 603.6,306.4 604.1,307.9 604.7,307.5 605.2,303.9 605.7,304.6 606.0,307.0 606.2,299.7 606.7,308.3 607.2,297.7 607.7,306.9 608.1,305.3 608.6,308.9 609.0,309.2 609.5,308.1 609.9,308.3 610.3,308.2 610.8,297.5 611.0,308.5 611.2,308.4 611.6,306.8 612.0,309.8 612.4,306.6 612.8,307.9 613.2,309.5 613.6,309.2 613.9,303.3 614.3,307.5 614.7,310.0 615.0,308.1 615.4,309.9 615.8,307.4 616.0,309.0 616.1,306.9 616.5,305.4 616.8,303.0 617.1,308.2 617.5,307.3 617.8,305.5 618.1,304.3 618.3,305.0 618.4,307.0 618.7,301.6 619.1,306.3 619.4,307.7 619.7,307.6 620.0,308.8 620.3,309.9 620.6,310.6 620.9,310.4 621.0,310.5 621.1,309.0 621.4,310.1 621.7,303.6 622.0,305.0 622.3,308.7 622.6,311.8 622.8,312.3 623.1,310.6 623.4,310.2 623.6,309.5 623.9,308.4 624.1,312.4 624.4,310.8 624.7,313.0 624.9,312.3 625.2,313.0 625.4,312.8 625.6,313.2 625.9,313.5 626.0,313.0 626.1,313.1 626.4,313.6 626.6,312.5 626.8,313.9 627.1,311.2 627.3,313.0 627.5,313.2 627.8,313.0 628.0,312.7 628.2,314.3 628.4,314.2 628.6,313.3 628.9,314.6 629.1,314.6 629.3,312.8 629.5,314.1 629.7,314.9 629.9,314.0 630.1,315.0 630.3,315.1 630.5,314.5 630.7,315.1 630.9,315.4 631.1,314.5 631.3,315.4 631.5,315.5 631.7,314.9 631.9,315.5 632.0,315.5 632.1,315.7 632.3,315.4 632.5,315.8 632.7,315.7 632.9,315.8 633.1,315.7 633.3,315.9 633.4,315.4 633.6,314.4 633.8,315.9 634.0,315.6 634.2,315.9 634.3,315.6 634.5,315.7 634.7,316.2 634.9,315.9 635.0,316.0 635.2,316.2 635.4,315.8 635.6,315.5 635.7,316.0 635.9,316.0 636.1,316.2 636.2,316.3 636.4,316.3 636.6,316.2 636.7,316.5 636.9,316.3 637.0,316.3 637.2,316.5 637.4,316.5 637.5,316.4 637.7,316.7 637.8,316.6 638.0,316.4 638.1,316.3 638.3,316.2 638.4,316.8 638.6,316.7 638.7,316.8 638.9,316.6 639.0,316.5 639.2,316.8 639.3,316.9 639.5,316.9 639.6,317.0 639.8,316.8 639.9,317.0 640.0,317.0 640.1,316.9 640.2,317.0 640.4,316.6 640.5,317.0 640.6,316.9 640.8,317.0 640.9,317.0 641.1,316.9 641.2,316.9 641.3,316.7 641.5,317.0 641.6,317.0 641.7,316.9 641.9,317.0 642.0,317.1 642.1,317.0 642.3,317.0 642.4,317.1 642.5,317.0 642.7,317.0 642.8,317.0 642.9,317.1 643.1,317.1 643.2,316.8 643.3,316.9 643.4,317.1 643.6,317.0 643.7,316.8 643.8,317.0 643.9,317.1 644.1,317.0 644.2,317.1 644.3,316.9 644.4,317.1 644.6,317.0 644.7,317.0 644.8,317.1 644.9,317.0 645.0,317.1 645.2,317.0 645.3,317.1 645.4,317.0 645.5,316.9 645.6,317.0 645.8,317.0 645.9,316.9 646.0,317.0 646.1,317.0 646.2,317.1 646.3,317.0 646.4,316.9 646.6,317.1 646.7,316.9 646.8,317.1 646.9,317.1 647.0,317.1 647.1,317.1 647.2,317.1 647.3,317.0 647.4,317.1 647.6,316.8 647.7,317.1 647.8,317.1 647.9,317.0 648.0,317.1 648.1,317.1 648.2,317.1 648.3,317.1 648.4,317.1 648.5,316.9 648.6,317.1 648.7,317.1 648.8,317.1 648.9,317.1 649.0,317.1 649.1,317.1 649.2,317.1 649.3,317.1 649.5,317.1 649.6,317.1 649.7,317.1 649.8,317.1 649.9,316.9 650.0,317.1 650.1,317.1 650.2,317.1 650.3,317.0 650.4,317.0 650.4,317.1 650.5,317.1 650.6,317.1 650.7,317.1 650.8,317.0 650.9,317.1 651.0,317.1 651.1,317.0 651.2,317.1 651.3,317.2 651.4,317.1 651.5,317.1 651.6,317.1 651.7,317.2 651.8,317.1 651.9,317.0 652.0,317.0 652.1,317.1 652.2,317.1 652.3,317.1 652.3,317.1 652.4,317.2 652.5,316.9 652.6,317.1 652.7,317.2 652.8,317.2 652.9,317.2 653.0,317.1 653.1,317.0 653.2,317.2 653.2,317.2 653.3,317.2 653.4,317.1 653.5,317.1 653.6,317.1 653.7,317.2 653.8,317.0 653.9,317.2 653.9,317.2 654.0,317.1 654.1,317.2 654.2,317.2 654.3,317.2 654.4,317.2 654.5,317.2 654.5,317.1 654.6,317.1 654.7,317.2 654.8,317.2 654.9,317.1 655.0,317.2 655.0,317.0 655.1,317.1 655.2,317.2 655.3,317.2 655.4,317.2 655.5,317.1 655.5,317.0 655.6,317.1 655.7,317.1 655.8,317.2 655.9,317.2 655.9,317.2 656.0,317.2 656.1,317.0 656.2,317.2 656.3,317.2 656.3,317.1 656.4,317.2 656.5,317.2 656.6,317.2 656.7,317.2 656.7,317.1 656.8,317.2 656.9,317.2 657.0,317.1 657.0,317.2 657.1,317.2 657.2,317.2 657.3,317.1 657.3,317.1 657.4,317.2 657.5,317.1 657.6,317.2 657.6,317.2 657.7,317.2 657.8,317.2 657.9,317.2 657.9,317.2 658.0,317.2 658.1,317.2 658.2,317.2 658.2,317.2 658.3,317.1 658.4,317.2 658.5,317.2 658.5,317.2 658.6,317.2 658.7,317.1 658.8,317.2 658.8,317.2 658.9,317.2 659.0,317.2 659.0,317.2 659.1,317.2 659.2,317.2 659.3,317.2 659.3,317.2 659.4,317.1 659.5,317.1 659.5,317.2 659.6,317.2 659.7,317.2 659.7,317.2 659.8,317.3 659.9,317.2 660.0,317.2 660.0,317.2 660.1,317.3 660.2,317.2 660.2,317.1 660.3,317.2 660.4,317.2 660.4,317.2 660.5,317.2 660.6,317.3 660.6,317.1 660.7,317.2 660.8,317.2 660.8,317.3 660.9,317.2 661.0,317.2 661.0,317.2 661.1,317.3 661.2,317.3 661.2,317.3 661.3,317.2 661.4,317.3 661.4,317.3 661.5,317.2 661.6,317.3 661.6,317.3 661.7,317.2 661.8,317.3 661.8,317.3 661.9,317.3 662.0,317.3 662.0,317.2 662.1,317.3 662.1,317.3 662.2,317.2 662.3,317.2 662.3,317.2 662.4,317.3 662.5,317.3 662.5,317.2 662.6,317.2 662.7,317.2 662.7,317.2 662.8,317.3 662.8,317.3 662.9,317.3 663.0,317.3 663.0,317.3 663.1,317.3 663.1,317.3 663.2,317.3 663.3,317.3 663.3,317.3 663.4,317.3 663.5,317.3 663.5,317.1 663.6,317.3 663.6,317.2 663.7,317.3 663.8,317.3 663.8,317.3 663.9,317.3 663.9,317.3 664.0,317.3 664.1,317.3 664.1,317.2 664.2,317.3 664.2,317.3 664.3,317.3 664.4,317.3 664.4,317.3 664.5,317.2 664.5,317.3 664.6,317.3 664.6,317.3 664.7,317.3 664.8,317.3 664.8,317.3 664.9,317.3 664.9,317.3 665.0,317.3 665.1,317.3 665.1,317.3 665.2,317.3 665.2,317.3 665.3,317.3 665.3,317.3 665.4,317.3 665.4,317.3 665.5,317.3 665.6,317.3 665.6,317.3 665.7,317.3 665.7,317.3 665.8,317.3 665.8,317.3 665.9,317.3 666.0,317.3 666.0,317.3 666.1,317.3 666.1,317.3 666.2,317.3 666.2,317.3 666.3,317.3 666.3,317.3 666.4,317.3 666.4,317.3 666.5,317.3 666.6,317.3 666.6,317.3 666.7,317.3 666.7,317.3 666.8,317.3 666.8,317.3 666.9,317.3 666.9,317.3 667.0,317.3 667.0,317.3 667.1,317.3 667.1,317.3 667.2,317.3 667.3,317.3 667.3,317.3 667.4,317.3 667.4,317.3 667.5,317.3 667.5,317.3 667.6,317.3 667.6,317.3 667.7,317.3 667.7,317.3 667.8,317.3 667.8,317.3 667.9,317.3 667.9,317.3 668.0,317.3 668.0,317.3 668.1,317.3 668.1,317.3 668.2,317.3 668.2,317.3 668.3,317.3 668.3,317.3 668.4,317.3 668.4,317.3 668.5,317.3 668.5,317.3 668.6,317.3 668.6,317.3 668.7,317.3 668.7,317.3 668.8,317.3 668.8,317.3 668.9,317.3 668.9,317.3 669.0,317.3 669.0,317.3 669.1,317.3 669.1,317.3 669.2,317.3 669.2,317.3 669.3,317.3 669.3,317.3 669.4,317.3 669.4,317.3 669.5,317.3 669.5,317.3 669.6,317.4 669.6,317.4 669.7,317.3 669.7,317.3 669.8,317.4 669.8,317.3 669.9,317.3 669.9,317.3 670.0,317.3 670.0,317.4 670.1,317.3 670.1,317.4 670.2,317.3 670.2,317.4 670.3,317.3 670.3,317.4 670.4,317.3 670.4,317.3 670.4,317.3 670.5,317.3 670.5,317.4 670.7,317.4 670.7,317.3 670.8,317.4 670.9,317.4 670.9,317.3 671.0,317.4 671.1,317.4 671.1,317.3 671.1,317.4 671.2,317.3 671.2,317.4 674.3,317.4 674.3,317.4 644.1,317.4 644.1,317.4 644.0,317.4 643.8,317.4 643.8,317.4 643.7,317.4 643.7,317.4 643.7,317.4 643.6,317.4 643.6,317.4 643.5,317.4 643.5,317.4 643.4,317.4 643.4,317.4 643.4,317.4 643.3,317.4 643.3,317.4 643.2,317.4 643.2,317.4 643.1,317.4 643.1,317.4 643.1,317.4 643.0,317.4 643.0,317.4 642.9,317.4 642.9,317.4 642.8,317.4 642.8,317.4 642.8,317.4 642.7,317.4 642.7,317.4 642.6,317.4 642.6,317.4 642.5,317.4 642.5,317.4 642.5,317.4 642.4,317.4 642.4,317.4 642.3,317.4 642.3,317.4 642.2,317.4 642.2,317.4 642.1,317.4 642.1,317.4 642.1,317.4 642.0,317.4 642.0,317.4 641.9,317.4 641.9,317.4 641.8,317.4 641.8,317.4 641.7,317.4 641.7,317.4 641.7,317.4 641.6,317.4 641.6,317.4 641.5,317.4 641.5,317.4 641.4,317.4 641.4,317.4 641.3,317.4 641.3,317.4 641.2,317.4 641.2,317.4 641.1,317.4 641.1,317.4 641.1,317.4 641.0,317.4 641.0,317.4 640.9,317.4 640.9,317.4 640.8,317.4 640.8,317.4 640.7,317.4 640.7,317.4 640.6,317.4 640.6,317.4 640.5,317.4 640.5,317.4 640.5,317.4 640.4,317.4 640.4,317.4 640.3,317.4 640.3,317.4 640.2,317.4 640.2,317.4 640.1,317.4 640.1,317.4 640.0,317.4 640.0,317.4 639.9,317.4 639.9,317.4 639.8,317.4 639.8,317.4 639.7,317.4 639.7,317.4 639.6,317.4 639.6,317.4 639.5,317.4 639.5,317.4 639.4,317.4 639.4,317.4 639.3,317.4 639.3,317.4 639.2,317.4 639.2,317.4 639.1,317.4 639.1,317.4 639.0,317.4 639.0,317.4 638.9,317.4 638.9,317.4 638.8,317.4 638.8,317.4 638.7,317.4 638.7,317.4 638.6,317.4 638.6,317.4 638.5,317.4 638.5,317.4 638.4,317.4 638.4,317.4 638.3,317.4 638.3,317.4 638.2,317.4 638.2,317.4 638.1,317.4 638.1,317.4 638.0,317.4 638.0,317.4 637.9,317.4 637.9,317.4 637.8,317.4 637.8,317.4 637.7,317.4 637.7,317.4 637.6,317.4 637.6,317.4 637.5,317.4 637.5,317.4 637.4,317.4 637.4,317.4 637.3,317.4 637.2,317.4 637.2,317.4 637.1,317.4 637.1,317.4 637.0,317.4 637.0,317.4 636.9,317.4 636.9,317.4 636.8,317.4 636.8,317.4 636.7,317.4 636.7,317.4 636.6,317.4 636.6,317.4 636.5,317.4 636.4,317.4 636.4,317.4 636.3,317.4 636.3,317.4 636.2,317.4 636.2,317.4 636.1,317.4 636.1,317.4 636.0,317.4 636.0,317.4 635.9,317.4 635.9,317.4 635.8,317.4 635.8,317.4 635.7,317.4 635.7,317.4 635.6,317.4 635.6,317.4 635.5,317.4 635.4,317.4 635.4,317.4 635.3,317.4 635.3,317.4 635.2,317.4 635.2,317.4 635.1,317.4 635.0,317.4 635.0,317.4 634.9,317.4 634.9,317.4 634.8,317.4 634.7,317.4 634.7,317.4 634.6,317.4 634.6,317.4 634.5,317.4 634.5,317.4 634.4,317.4 634.3,317.4 634.3,317.4 634.2,317.4 634.2,317.4 634.1,317.4 634.0,317.4 634.0,317.4 633.9,317.4 633.9,317.4 633.8,317.4 633.7,317.4 633.7,317.4 633.6,317.4 633.6,317.4 633.5,317.4 633.4,317.4 633.4,317.4 633.3,317.4 633.3,317.4 633.2,317.4 633.1,317.4 633.1,317.4 633.0,317.4 632.9,317.4 632.9,317.4 632.8,317.4 632.8,317.4 632.7,317.4 632.6,317.4 632.6,317.4 632.5,317.4 632.4,317.3 632.4,317.4 632.3,317.4 632.3,317.4 632.2,317.4 632.1,317.4 632.1,317.4 632.0,317.4 631.9,317.4 631.9,317.4 631.8,317.4 631.7,317.4 631.7,317.1 631.6,317.3 631.5,317.4 631.5,317.4 631.4,317.4 631.3,317.3 631.3,317.4 631.2,317.3 631.1,317.4 631.1,317.4 631.1,317.4 631.0,317.3 630.9,317.4 630.9,317.4 630.8,317.4 630.7,317.4 630.7,317.4 630.6,317.3 630.5,317.4 630.5,317.3 630.4,317.4 630.3,317.1 630.3,317.0 630.2,316.8 630.1,317.4 630.1,316.7 630.0,316.8 629.9,316.7 629.9,317.4 629.8,317.2 629.7,317.1 629.6,316.8 629.6,316.4 629.5,317.1 629.4,317.4 629.4,317.3 629.3,316.3 629.2,316.7 629.1,316.7 629.1,316.9 629.0,316.7 628.9,316.6 628.9,316.8 628.8,316.7 628.7,316.2 628.6,317.0 628.6,316.8 628.5,316.8 628.4,316.4 628.4,316.6 628.3,316.1 628.2,317.2 628.1,315.8 628.1,316.8 628.0,316.5 627.9,316.9 627.8,316.5 627.8,317.4 627.7,316.1 627.6,315.9 627.5,315.9 627.5,316.2 627.4,316.6 627.3,315.6 627.2,317.0 627.1,316.2 627.1,315.7 627.0,315.8 626.9,316.9 626.8,315.7 626.8,315.6 626.7,315.1 626.6,316.1 626.5,316.6 626.4,315.9 626.4,315.7 626.3,315.9 626.3,315.7 626.2,315.9 626.1,315.9 626.0,316.5 626.0,315.5 625.9,315.8 625.8,315.6 625.7,316.2 625.6,316.0 625.6,316.1 625.5,315.9 625.4,314.8 625.3,314.7 625.2,315.9 625.2,315.1 625.1,315.2 625.0,315.3 624.9,315.0 624.8,315.4 624.7,315.7 624.7,316.3 624.6,313.7 624.5,314.9 624.4,314.3 624.3,314.5 624.2,316.2 624.1,314.7 624.1,315.2 624.0,314.6 623.9,316.0 623.8,314.6 623.7,314.8 623.6,314.8 623.5,314.5 623.4,314.0 623.4,314.7 623.3,314.6 623.2,315.9 623.1,314.7 623.1,314.5 623.0,315.3 622.9,314.7 622.8,314.8 622.7,315.8 622.6,313.9 622.6,315.1 622.5,314.6 622.4,314.6 622.3,315.3 622.2,315.1 622.1,313.8 622.0,314.9 621.9,313.5 621.8,314.9 621.7,314.5 621.6,315.0 621.5,314.3 621.4,313.9 621.3,314.2 621.2,315.6 621.1,314.8 621.1,314.6 621.0,314.2 620.9,312.7 620.8,314.3 620.7,315.3 620.6,314.2 620.5,314.6 620.4,314.0 620.3,314.2 620.2,314.5 620.1,314.8 620.0,314.2 619.9,314.3 619.9,313.9 619.8,313.1 619.7,312.8 619.6,314.3 619.5,313.1 619.4,314.5 619.3,313.2 619.2,311.5 619.1,312.2 619.0,308.6 618.8,311.6 618.7,309.9 618.6,313.6 618.5,309.2 618.4,311.6 618.3,312.3 618.3,310.3 618.2,307.3 618.1,308.2 618.0,311.6 617.9,309.1 617.8,309.6 617.7,311.7 617.6,313.2 617.5,312.4 617.3,316.0 617.2,312.6 617.1,314.6 617.0,312.0 616.9,314.3 616.8,313.4 616.7,313.5 616.7,315.4 616.6,313.3 616.5,313.4 616.3,312.8 616.2,312.9 616.1,313.6 616.0,313.9 615.9,313.0 615.8,312.3 615.6,314.7 615.5,313.1 615.4,312.8 615.3,314.1 615.2,313.7 615.0,312.5 614.9,311.7 614.8,310.9 614.7,314.6 614.6,312.3 614.4,314.9 614.3,311.4 614.2,314.9 614.1,313.9 613.9,314.6 613.8,312.8 613.7,312.3 613.6,315.1 613.4,313.2 613.3,313.5 613.2,311.4 613.1,314.1 612.9,312.9 612.8,315.5 612.7,313.6 612.5,313.0 612.4,314.1 612.3,314.0 612.1,312.9 612.0,313.9 611.9,313.5 611.9,312.9 611.7,312.1 611.6,314.2 611.5,315.1 611.3,314.8 611.2,312.5 611.0,315.3 610.9,312.8 610.8,312.6 610.6,312.2 610.5,313.3 610.3,311.8 610.2,312.3 610.1,315.3 609.9,313.4 609.8,312.2 609.6,314.5 609.5,311.2 609.3,311.2 609.2,311.8 609.0,313.1 608.9,310.8 608.7,313.8 608.7,311.9 608.6,311.2 608.4,312.0 608.3,315.3 608.1,310.9 608.0,311.6 607.8,312.7 607.7,311.2 607.5,312.0 607.3,311.5 607.2,313.1 607.0,312.8 606.9,309.5 606.7,311.3 606.5,314.8 606.4,310.2 606.2,312.2 606.0,311.3 605.9,312.2 605.7,312.0 605.5,310.8 605.4,311.9 605.4,312.7 605.2,308.2 605.0,310.5 604.8,309.4 604.7,308.2 604.5,311.5 604.3,312.0 604.1,315.2 603.9,312.9 603.8,310.3 603.6,309.3 603.4,311.1 603.2,309.9 603.0,309.7 602.8,308.8 602.7,311.3 602.5,310.5 602.3,310.2 602.2,309.5 602.1,308.1 601.9,310.1 601.7,309.1 601.5,309.5 601.3,308.4 601.1,309.2 600.9,310.5 600.7,312.8 600.5,308.1 600.3,308.1 600.1,315.1 599.9,314.6 599.7,308.2 599.4,309.0 599.2,310.9 599.0,310.9 599.0,310.3 598.8,310.4 598.6,310.0 598.4,306.1 598.1,309.2 597.9,313.6 597.7,310.1 597.5,312.8 597.2,304.4 597.0,309.2 596.8,312.0 596.5,307.1 596.3,304.5 596.1,310.9 595.8,305.5 595.8,307.1 595.6,308.0 595.3,305.4 595.1,300.3 594.8,308.5 594.6,303.4 594.3,300.6 594.1,301.6 593.9,303.1 593.8,303.5 593.5,308.2 593.3,308.0 593.0,309.5 592.7,305.3 592.5,304.9 592.2,307.6 591.9,304.3 591.6,307.2 591.3,308.6 591.0,310.0 591.0,310.3 590.7,312.1 590.5,308.4 590.2,309.6 589.9,306.8 589.6,311.3 589.2,307.5 588.9,309.8 588.6,311.5 588.3,309.0 588.0,308.6 587.8,309.5 587.7,310.1 587.3,309.5 587.0,307.3 586.6,305.5 586.3,306.8 586.0,307.0 585.6,305.1 585.4,303.1 585.3,304.1 584.9,304.1 584.5,303.2 584.2,302.4 583.8,306.2 583.4,308.2 583.0,310.3 582.6,307.3 582.2,307.7 581.8,310.0 581.4,311.0 581.4,310.3 581.0,309.5 580.6,308.8 580.1,312.3 579.7,308.7 579.3,310.3 578.8,311.0 578.4,314.2 578.2,311.9 577.9,310.9 577.4,313.5 576.9,311.5 576.4,311.3 575.9,313.0 575.4,314.5 574.9,313.4 574.4,313.7 573.9,313.9 573.3,312.3 573.3,314.3 572.7,315.1 572.2,314.3 571.6,312.5 571.0,312.3 570.4,313.0 570.1,313.1 569.7,310.5 569.1,314.6 568.4,313.8 567.8,314.0 567.1,314.7 566.4,313.8 565.7,315.1 565.3,314.3 564.9,313.8 564.1,313.5 563.3,310.3 562.5,312.2 562.1,313.1 561.7,313.0 560.8,314.5 559.9,313.1 559.0,314.5 558.9,313.1 558.1,311.1 557.1,313.8 556.0,312.0 555.0,316.2 554.1,314.7 553.9,314.5 552.7,314.7 551.5,315.3 550.2,316.7 549.3,316.7 548.9,317.2 547.5,317.1 546.0,317.4 544.5,317.4 544.4,317.4 542.8,317.4 541.1,317.4 540.0,317.4 539.2,317.4 537.2,317.4 535.0,317.4 532.6,317.4 530.0,317.4 527.2,317.4 523.9,317.4 520.3,317.4 516.1,317.4 511.2,317.4 505.1,317.4 486.2,317.4" class="gb"/>
<polyline points="486.2,317.4 511.2,317.4 516.1,317.3 520.3,317.3 523.9,317.3 527.2,317.3 530.0,317.3 532.6,317.3 535.0,317.3 537.2,317.3 539.2,317.3 540.0,317.3 541.1,317.1 542.8,316.8 544.5,316.6 546.0,316.5 546.0,316.6 547.5,316.1 548.9,315.4 550.2,314.8 550.9,314.6 551.5,313.9 552.7,313.6 553.9,313.0 555.0,314.1 555.7,312.1 556.0,312.6 557.1,311.3 558.1,312.3 559.0,309.4 559.7,310.9 559.9,310.7 560.8,311.1 561.7,311.0 562.5,310.9 563.3,312.5 563.7,312.1 564.1,312.5 564.9,310.5 565.7,310.6 566.4,310.0 566.9,309.3 567.1,309.2 567.8,308.1 568.4,311.2 569.1,310.7 569.7,311.2 570.1,312.1 570.4,310.6 571.0,311.2 571.6,310.1 572.2,310.7 572.7,312.2 573.3,311.0 573.9,309.9 574.4,311.6 574.9,310.9 574.9,310.5 575.4,311.4 575.9,309.8 576.4,312.1 576.9,310.8 577.4,311.1 577.9,308.8 578.2,309.3 578.4,311.4 578.8,308.6 579.3,309.5 579.7,309.6 580.1,309.2 580.6,306.5 581.0,307.6 581.4,307.7 581.4,303.1 581.8,306.3 582.2,303.2 582.6,304.2 583.0,303.0 583.4,307.0 583.8,306.0 584.2,302.8 584.5,304.0 584.6,303.7 584.9,301.4 585.3,309.4 585.6,305.2 586.0,301.4 586.3,306.0 586.6,305.2 587.0,304.7 587.3,305.1 587.7,305.4 587.8,306.1 588.0,305.2 588.3,306.5 588.6,301.4 588.9,305.7 589.2,303.2 589.6,303.8 589.9,300.1 590.2,302.0 590.5,300.2 590.7,302.7 591.0,301.8 591.3,302.7 591.6,300.4 591.8,299.7 591.9,302.5 592.2,303.1 592.5,300.0 592.7,301.0 593.0,302.6 593.3,303.4 593.5,304.1 593.8,301.5 594.1,303.2 594.3,303.7 594.6,303.8 594.8,303.8 595.1,303.7 595.3,303.0 595.6,307.6 595.8,303.7 595.8,306.5 596.1,304.4 596.3,300.4 596.5,307.7 596.8,306.1 597.0,304.0 597.2,308.1 597.5,296.8 597.7,303.8 597.9,298.3 598.1,302.2 598.4,299.0 598.6,299.7 598.8,302.2 599.0,301.3 599.0,302.9 599.2,302.9 599.4,298.7 599.7,304.7 599.9,305.2 600.1,297.4 600.3,304.8 600.5,303.6 600.7,301.1 600.9,306.1 601.1,306.6 601.3,302.3 601.5,306.3 601.7,306.2 601.9,307.7 602.1,306.6 602.2,307.7 602.3,307.4 602.5,306.1 602.7,306.3 602.8,308.7 603.0,306.9 603.2,304.5 603.4,307.8 603.6,307.0 603.8,308.7 603.9,310.9 604.1,307.0 604.3,309.7 604.5,309.4 604.7,308.2 604.8,308.4 605.0,308.6 605.2,306.8 605.4,308.3 605.4,308.5 605.5,310.2 605.7,307.2 605.9,310.6 606.0,312.1 606.2,310.0 606.4,307.8 606.5,308.4 606.7,307.1 606.9,308.4 607.0,308.5 607.2,308.6 607.3,310.0 607.5,309.8 607.7,309.9 607.8,309.0 608.0,310.6 608.1,310.0 608.3,309.1 608.4,309.6 608.6,309.9 608.7,309.9 608.9,311.3 609.0,311.5 609.2,310.8 609.3,308.6 609.5,308.8 609.6,309.5 609.8,309.1 609.9,309.0 610.1,313.0 610.2,310.8 610.3,310.1 610.3,307.9 610.5,309.8 610.6,307.9 610.8,308.5 610.9,309.8 611.0,311.2 611.2,311.2 611.3,309.9 611.5,309.6 611.6,309.9 611.7,308.9 611.9,309.0 612.0,309.6 612.1,309.1 612.3,309.2 612.4,312.1 612.5,311.3 612.7,309.1 612.8,308.4 612.9,309.3 613.1,309.8 613.2,309.1 613.3,308.7 613.4,309.1 613.5,309.3 613.6,308.9 613.7,308.4 613.8,309.3 613.9,306.5 614.1,311.4 614.2,312.0 614.3,305.2 614.4,311.0 614.6,312.9 614.7,310.5 614.8,308.8 614.9,310.8 615.0,310.5 615.2,309.0 615.3,307.6 615.4,309.1 615.5,309.7 615.6,310.7 615.8,309.3 615.9,306.9 616.0,311.7 616.1,311.6 616.2,310.8 616.3,309.6 616.5,309.8 616.6,310.8 616.7,311.1 616.8,309.1 616.9,310.1 617.0,309.2 617.1,311.0 617.2,309.5 617.3,311.8 617.5,308.6 617.5,310.9 617.6,311.3 617.7,310.5 617.8,311.2 617.9,311.7 618.0,310.6 618.1,311.8 618.2,309.2 618.3,312.0 618.4,310.4 618.5,312.1 618.6,313.1 618.7,313.8 618.8,311.4 619.0,312.9 619.1,311.4 619.2,312.4 619.3,311.7 619.4,311.7 619.5,310.0 619.6,311.9 619.7,313.1 619.8,314.0 619.9,311.0 620.0,311.8 620.1,310.6 620.2,313.5 620.3,312.2 620.4,312.8 620.5,311.6 620.6,312.4 620.7,310.9 620.8,312.6 620.9,312.4 621.0,312.8 621.1,311.9 621.1,311.4 621.2,311.9 621.3,313.0 621.4,313.4 621.5,312.5 621.5,312.4 621.6,313.0 621.7,312.7 621.8,311.7 621.9,312.3 622.0,312.5 622.1,313.2 622.2,313.0 622.3,313.1 622.4,312.8 622.5,313.1 622.6,312.8 622.6,313.5 622.7,312.1 622.8,312.8 622.9,312.9 623.0,312.5 623.1,314.0 623.2,314.1 623.3,314.3 623.4,313.8 623.4,313.0 623.5,313.3 623.6,312.4 623.7,314.4 623.8,313.2 623.9,314.4 624.0,314.4 624.1,314.4 624.1,312.9 624.2,313.6 624.3,312.9 624.4,313.7 624.5,313.4 624.6,313.4 624.7,313.6 624.7,313.8 624.8,313.4 624.9,313.9 625.0,314.0 625.1,314.0 625.2,314.4 625.2,315.0 625.3,314.6 625.4,313.2 625.5,314.2 625.6,314.8 625.6,314.5 625.7,313.8 625.8,313.4 625.9,315.4 626.0,315.3 626.0,315.6 626.1,314.8 626.2,315.0 626.3,314.0 626.3,314.6 626.4,314.9 626.4,313.6 626.5,315.0 626.6,314.6 626.7,314.4 626.8,315.2 626.8,314.7 626.9,314.7 627.0,314.9 627.1,314.5 627.1,315.0 627.2,315.2 627.3,314.6 627.4,315.2 627.5,314.8 627.5,315.2 627.6,314.8 627.7,315.0 627.8,315.6 627.8,314.9 627.9,315.3 628.0,314.5 628.1,315.4 628.1,314.9 628.2,316.1 628.3,315.4 628.4,315.9 628.4,315.3 628.5,315.6 628.6,314.9 628.6,315.1 628.7,314.9 628.8,315.7 628.9,316.2 628.9,315.5 629.0,315.0 629.1,315.4 629.1,314.9 629.2,315.7 629.3,315.8 629.4,315.5 629.4,315.3 629.5,315.8 629.6,315.9 629.6,315.9 629.7,315.2 629.8,316.3 629.9,315.5 629.9,315.8 630.0,315.4 630.1,315.6 630.1,316.2 630.2,315.8 630.3,316.0 630.3,316.1 630.4,316.3 630.5,315.7 630.5,316.5 630.6,316.0 630.7,315.6 630.7,316.0 630.8,315.7 630.9,315.9 630.9,315.9 631.0,316.4 631.1,316.2 631.1,316.2 631.1,316.2 631.2,316.4 631.3,316.4 631.3,316.2 631.4,316.2 631.5,316.2 631.5,316.6 631.6,316.4 631.7,316.4 631.7,316.2 631.8,316.5 631.9,316.3 631.9,316.5 632.0,316.4 632.1,316.2 632.1,316.2 632.2,316.6 632.3,316.3 632.3,316.5 632.4,316.0 632.4,316.3 632.5,316.4 632.6,316.0 632.6,316.9 632.7,316.5 632.8,316.3 632.8,316.4 632.9,316.3 632.9,316.5 633.0,316.5 633.1,316.4 633.1,316.3 633.2,316.1 633.3,316.6 633.3,316.4 633.4,316.8 633.4,316.6 633.5,316.4 633.6,316.6 633.6,316.5 633.7,316.5 633.7,316.3 633.8,316.5 633.9,316.6 633.9,316.8 634.0,316.6 634.0,316.5 634.1,316.2 634.2,316.5 634.2,316.6 634.3,316.6 634.3,316.5 634.4,316.5 634.5,316.5 634.5,316.6 634.6,316.6 634.6,316.7 634.7,316.5 634.7,316.8 634.8,316.5 634.9,316.7 634.9,316.7 635.0,316.6 635.0,316.7 635.1,316.8 635.2,316.7 635.2,316.7 635.3,316.7 635.3,316.6 635.4,316.8 635.4,316.9 635.5,316.8 635.6,316.7 635.6,316.7 635.7,317.0 635.7,316.7 635.8,316.6 635.8,316.8 635.9,316.7 635.9,316.7 636.0,316.7 636.1,316.9 636.1,316.7 636.2,316.9 636.2,317.0 636.3,316.8 636.3,316.9 636.4,316.8 636.4,316.8 636.5,316.9 636.6,316.8 636.6,316.8 636.7,317.0 636.7,316.9 636.8,316.9 636.8,316.8 636.9,316.9 636.9,317.0 637.0,317.0 637.0,317.1 637.1,316.9 637.1,316.9 637.2,316.9 637.2,317.0 637.3,316.9 637.4,317.0 637.4,317.0 637.5,317.0 637.5,317.0 637.5,316.9 637.6,317.0 637.6,317.1 637.7,317.1 637.7,317.0 637.8,317.0 637.8,317.0 637.9,317.1 637.9,317.1 638.0,317.0 638.0,317.1 638.1,316.9 638.1,317.1 638.2,317.0 638.2,317.1 638.3,317.0 638.3,317.0 638.4,317.0 638.4,316.9 638.5,317.1 638.5,317.1 638.6,317.1 638.6,317.0 638.7,317.1 638.7,317.1 638.8,317.1 638.8,317.1 638.9,317.1 638.9,317.1 639.0,317.1 639.0,317.1 639.1,317.2 639.1,317.1 639.2,317.1 639.2,317.1 639.3,317.1 639.3,317.2 639.4,317.1 639.4,317.1 639.5,317.2 639.5,317.1 639.6,317.1 639.6,317.1 639.7,317.1 639.7,317.1 639.8,317.2 639.8,317.0 639.9,317.2 639.9,317.1 640.0,317.2 640.0,317.1 640.1,317.2 640.1,317.2 640.2,317.1 640.2,317.2 640.3,317.2 640.3,317.1 640.4,317.2 640.4,317.1 640.5,317.1 640.5,317.1 640.5,317.1 640.6,317.1 640.6,317.2 640.7,317.2 640.7,317.2 640.8,317.1 640.8,317.2 640.9,317.2 640.9,317.1 641.0,317.2 641.0,317.2 641.1,317.2 641.1,317.2 641.1,317.2 641.2,317.2 641.2,317.2 641.3,317.2 641.3,317.2 641.4,317.2 641.4,317.2 641.5,317.2 641.5,317.2 641.6,317.2 641.6,317.2 641.7,317.3 641.7,317.2 641.7,317.2 641.8,317.2 641.8,317.3 641.9,317.2 641.9,317.3 642.0,317.2 642.0,317.2 642.1,317.2 642.1,317.3 642.1,317.2 642.2,317.3 642.2,317.2 642.3,317.2 642.3,317.3 642.4,317.3 642.4,317.2 642.5,317.2 642.5,317.3 642.5,317.3 642.6,317.3 642.6,317.3 642.7,317.2 642.7,317.3 642.8,317.3 642.8,317.3 642.8,317.3 642.9,317.3 642.9,317.3 643.0,317.3 643.0,317.3 643.1,317.3 643.1,317.3 643.1,317.3 643.2,317.3 643.2,317.3 643.3,317.3 643.3,317.3 643.4,317.3 643.4,317.3 643.4,317.3 643.5,317.3 643.5,317.3 643.6,317.3 643.6,317.3 643.7,317.3 643.7,317.3 643.7,317.3 643.8,317.3 643.8,317.3 643.9,317.3 643.9,317.3 643.9,317.3 644.0,317.3 644.0,317.3 644.1,317.4 644.1,317.4 644.2,317.3 644.2,317.4 644.2,317.3 644.3,317.4 674.3,317.4" class="rl"/>
<polyline points="486.2,317.4 505.1,317.4 511.2,317.3 516.1,317.3 520.3,317.3 523.9,317.3 527.2,317.3 530.0,317.3 532.6,317.3 535.0,317.3 537.2,317.3 539.2,317.3 540.0,317.3 541.1,317.3 542.8,317.1 544.4,317.0 544.5,317.1 546.0,316.9 547.5,316.1 548.9,316.2 549.3,315.7 550.2,315.7 551.5,314.3 552.7,313.7 553.9,313.5 554.1,313.7 555.0,315.2 556.0,311.0 557.1,312.8 558.1,310.1 558.9,312.1 559.0,313.5 559.9,312.1 560.8,313.5 561.7,312.0 562.1,312.1 562.5,311.2 563.3,309.3 564.1,312.5 564.9,312.8 565.3,313.3 565.7,314.1 566.4,312.8 567.1,313.7 567.8,313.0 568.4,312.8 569.1,313.6 569.7,309.5 570.1,312.1 570.4,312.0 571.0,311.3 571.6,311.5 572.2,313.3 572.7,314.1 573.3,313.3 573.3,311.3 573.9,312.9 574.4,312.7 574.9,312.4 575.4,313.5 575.9,312.0 576.4,310.3 576.9,310.5 577.4,312.5 577.9,309.9 578.2,310.9 578.4,313.2 578.8,310.0 579.3,309.3 579.7,307.7 580.1,311.3 580.6,307.8 581.0,308.5 581.4,309.3 581.4,310.0 581.8,309.0 582.2,306.7 582.6,306.3 583.0,309.3 583.4,307.2 583.8,305.2 584.2,301.4 584.5,302.2 584.9,303.1 585.3,303.1 585.4,302.1 585.6,304.1 586.0,306.0 586.3,305.8 586.6,304.5 587.0,306.3 587.3,308.5 587.7,309.1 587.8,308.5 588.0,307.6 588.3,308.0 588.6,310.5 588.9,308.8 589.2,306.5 589.6,310.3 589.9,305.8 590.2,308.6 590.5,307.4 590.7,311.1 591.0,309.3 591.0,309.0 591.3,307.6 591.6,306.2 591.9,303.3 592.2,306.6 592.5,303.9 592.7,304.3 593.0,308.5 593.3,307.0 593.5,307.2 593.8,302.5 593.9,302.1 594.1,300.6 594.3,299.6 594.6,302.4 594.8,307.5 595.1,299.3 595.3,304.4 595.6,307.0 595.8,306.1 595.8,304.5 596.1,309.9 596.3,303.5 596.5,306.1 596.8,311.0 597.0,308.2 597.2,303.4 597.5,311.8 597.7,309.1 597.9,312.6 598.1,308.2 598.4,305.1 598.6,309.0 598.8,309.4 599.0,309.3 599.0,309.9 599.2,309.9 599.4,308.0 599.7,307.2 599.9,313.6 600.1,314.1 600.3,307.1 600.5,307.1 600.7,311.8 600.9,309.5 601.1,308.2 601.3,307.4 601.5,308.5 601.7,308.1 601.9,309.1 602.1,307.1 602.2,308.5 602.3,309.2 602.5,309.5 602.7,310.3 602.8,307.8 603.0,308.7 603.2,308.9 603.4,310.1 603.6,308.3 603.8,309.3 603.9,311.9 604.1,314.2 604.3,311.0 604.5,310.5 604.7,307.2 604.8,308.4 605.0,309.5 605.2,307.2 605.4,311.7 605.4,310.9 605.5,309.8 605.7,311.0 605.9,311.2 606.0,310.3 606.2,311.2 606.4,309.2 606.5,313.8 606.7,310.3 606.9,308.5 607.0,311.8 607.2,312.1 607.3,310.5 607.5,311.0 607.7,310.2 607.8,311.7 608.0,310.6 608.1,309.9 608.3,314.3 608.4,311.0 608.6,310.2 608.7,310.9 608.7,312.8 608.9,309.8 609.0,312.1 609.2,310.8 609.3,310.2 609.5,310.2 609.6,313.5 609.8,311.2 609.9,312.4 610.1,314.3 610.2,311.3 610.3,310.8 610.5,312.3 610.6,311.2 610.8,311.6 610.9,311.8 611.0,314.3 611.2,311.5 611.3,313.8 611.5,314.1 611.6,313.2 611.7,311.1 611.9,311.9 611.9,312.5 612.0,312.9 612.1,311.9 612.3,313.0 612.4,313.1 612.5,312.0 612.7,312.6 612.8,314.5 612.9,311.9 613.1,313.1 613.2,310.4 613.3,312.5 613.4,312.2 613.6,314.1 613.7,311.3 613.8,311.8 613.9,313.6 614.1,312.9 614.2,313.9 614.3,310.4 614.4,313.9 614.6,311.3 614.7,313.6 614.8,309.9 614.9,310.7 615.0,311.5 615.2,312.7 615.3,313.1 615.4,311.8 615.5,312.1 615.6,313.7 615.8,311.3 615.9,312.0 616.0,312.9 616.1,312.6 616.2,311.9 616.3,311.8 616.5,312.4 616.6,312.3 616.7,314.4 616.7,312.5 616.8,312.4 616.9,313.3 617.0,311.0 617.1,313.6 617.2,311.6 617.3,315.0 617.5,311.4 617.6,312.2 617.7,310.7 617.8,308.6 617.9,308.1 618.0,310.6 618.1,307.2 618.2,306.3 618.3,309.3 618.3,311.3 618.4,310.6 618.5,308.2 618.6,312.6 618.7,308.9 618.8,310.6 619.0,307.6 619.1,311.2 619.2,310.5 619.3,312.2 619.4,313.5 619.5,312.1 619.6,313.3 619.7,311.8 619.8,312.1 619.9,312.9 619.9,313.3 620.0,313.2 620.1,313.8 620.2,313.5 620.3,313.2 620.4,313.0 620.5,313.6 620.6,313.2 620.7,314.3 620.8,313.3 620.9,311.7 621.0,313.2 621.1,313.6 621.1,313.8 621.2,314.6 621.3,313.2 621.4,312.9 621.5,313.3 621.6,314.0 621.7,313.5 621.8,313.9 621.9,312.5 622.0,313.9 622.1,312.8 622.2,314.1 622.3,314.3 622.4,313.6 622.5,313.6 622.6,314.1 622.6,312.9 622.7,314.8 622.8,313.8 622.9,313.7 623.0,314.3 623.1,313.5 623.1,313.7 623.2,314.9 623.3,313.6 623.4,313.7 623.4,313.0 623.5,313.5 623.6,313.8 623.7,313.8 623.8,313.6 623.9,315.0 624.0,313.6 624.1,314.2 624.1,313.7 624.2,315.2 624.3,313.5 624.4,313.3 624.5,313.9 624.6,312.7 624.7,315.3 624.7,314.7 624.8,314.4 624.9,314.0 625.0,314.3 625.1,314.2 625.2,314.1 625.2,314.9 625.3,313.7 625.4,313.8 625.5,314.9 625.6,315.1 625.6,315.0 625.7,315.2 625.8,314.6 625.9,314.8 626.0,314.5 626.0,315.5 626.1,314.9 626.2,314.9 626.3,314.7 626.3,314.9 626.4,314.7 626.4,314.9 626.5,315.6 626.6,315.1 626.7,314.1 626.8,314.6 626.8,314.7 626.9,315.9 627.0,314.8 627.1,314.7 627.1,315.2 627.2,316.0 627.3,314.6 627.4,315.6 627.5,315.2 627.5,314.9 627.6,314.9 627.7,315.1 627.8,316.4 627.8,315.5 627.9,315.9 628.0,315.5 628.1,315.8 628.1,314.8 628.2,316.2 628.3,315.1 628.4,315.6 628.4,315.4 628.5,315.8 628.6,315.8 628.6,316.0 628.7,315.2 628.8,315.7 628.9,315.8 628.9,315.6 629.0,315.7 629.1,315.9 629.1,315.7 629.2,315.7 629.3,315.3 629.4,316.3 629.4,316.6 629.5,316.1 629.6,315.4 629.6,315.8 629.7,316.1 629.8,316.2 629.9,316.5 629.9,315.7 630.0,315.8 630.1,315.7 630.1,316.4 630.2,315.8 630.3,316.0 630.3,316.1 630.4,316.5 630.5,316.3 630.5,316.5 630.6,316.3 630.7,316.7 630.7,316.6 630.8,316.5 630.9,316.9 630.9,316.4 631.0,316.3 631.1,316.6 631.1,316.5 631.1,316.5 631.2,316.3 631.3,316.4 631.3,316.3 631.4,316.4 631.5,316.5 631.5,316.4 631.6,316.3 631.7,316.1 631.7,316.4 631.8,316.7 631.9,316.7 631.9,316.7 632.0,316.5 632.1,316.5 632.1,316.7 632.2,316.7 632.3,316.5 632.3,316.4 632.4,316.6 632.4,316.3 632.5,316.5 632.6,316.6 632.6,316.8 632.7,316.5 632.8,316.7 632.8,316.7 632.9,317.0 632.9,316.5 633.0,316.4 633.1,316.7 633.1,316.7 633.2,316.7 633.3,316.8 633.3,316.6 633.4,316.7 633.4,316.8 633.5,316.9 633.6,316.8 633.6,316.8 633.7,316.9 633.7,316.5 633.8,317.0 633.9,316.9 633.9,316.8 634.0,316.7 634.0,316.9 634.1,316.9 634.2,316.7 634.2,316.6 634.3,316.9 634.3,316.7 634.4,316.7 634.5,316.9 634.5,317.0 634.6,316.9 634.6,316.9 634.7,316.8 634.7,316.9 634.8,316.6 634.9,316.7 634.9,316.9 635.0,316.9 635.0,316.9 635.1,317.1 635.2,316.9 635.2,316.9 635.3,316.9 635.3,316.8 635.4,316.9 635.4,316.9 635.5,317.0 635.6,316.9 635.6,317.1 635.7,317.0 635.7,317.0 635.8,316.8 635.8,317.1 635.9,317.0 635.9,316.9 636.0,317.0 636.0,316.9 636.1,317.0 636.1,317.0 636.2,316.9 636.2,316.9 636.3,317.1 636.3,316.9 636.4,317.1 636.4,316.9 636.5,317.1 636.6,317.0 636.6,317.1 636.7,316.9 636.7,316.9 636.8,317.0 636.8,317.0 636.9,317.2 636.9,317.1 637.0,317.0 637.0,317.1 637.1,317.0 637.1,317.0 637.2,316.9 637.2,317.0 637.3,317.1 637.4,317.0 637.4,317.0 637.5,317.0 637.5,317.0 637.6,316.9 637.6,317.0 637.7,317.0 637.7,317.1 637.8,317.0 637.8,317.1 637.9,317.0 637.9,317.1 638.0,317.0 638.0,317.1 638.1,317.2 638.1,317.3 638.2,317.1 638.2,317.1 638.3,317.1 638.3,317.2 638.4,317.1 638.4,317.1 638.5,317.2 638.5,317.0 638.6,317.2 638.6,317.2 638.7,317.1 638.7,317.2 638.8,317.1 638.8,317.0 638.9,317.1 638.9,317.1 639.0,317.1 639.0,317.2 639.1,317.2 639.1,317.1 639.2,317.1 639.2,317.2 639.3,317.2 639.3,317.1 639.4,317.2 639.4,317.1 639.5,317.1 639.5,317.1 639.6,317.2 639.6,317.2 639.7,317.2 639.7,317.2 639.8,317.1 639.8,317.1 639.9,317.2 639.9,317.1 640.0,317.2 640.0,317.2 640.1,317.1 640.1,317.2 640.2,317.1 640.2,317.3 640.3,317.2 640.3,317.2 640.4,317.1 640.4,317.2 640.5,317.1 640.5,317.2 640.5,317.2 640.6,317.3 640.6,317.2 640.7,317.2 640.7,317.2 640.8,317.2 640.8,317.2 640.9,317.2 640.9,317.2 641.0,317.3 641.0,317.3 641.1,317.2 641.1,317.2 641.1,317.2 641.2,317.2 641.2,317.3 641.3,317.1 641.3,317.2 641.4,317.3 641.4,317.3 641.5,317.2 641.5,317.2 641.6,317.3 641.6,317.3 641.7,317.3 641.7,317.3 641.7,317.2 641.8,317.3 641.8,317.3 641.9,317.2 641.9,317.3 642.0,317.2 642.0,317.2 642.1,317.3 642.1,317.3 642.1,317.3 642.2,317.3 642.2,317.2 642.3,317.3 642.3,317.3 642.4,317.2 642.4,317.3 642.5,317.3 642.5,317.3 642.5,317.3 642.6,317.3 642.6,317.3 642.7,317.3 642.7,317.3 642.8,317.3 642.8,317.3 642.8,317.3 642.9,317.3 642.9,317.3 643.0,317.3 643.0,317.3 643.1,317.3 643.1,317.3 643.1,317.3 643.2,317.3 643.2,317.3 643.3,317.3 643.3,317.4 643.4,317.3 643.4,317.3 643.4,317.3 643.5,317.3 643.5,317.3 643.6,317.3 643.6,317.3 643.7,317.4 643.7,317.3 643.7,317.4 643.8,317.3 643.8,317.4 644.0,317.4 644.1,317.3 644.1,317.4 674.3,317.4" class="bl"/>
</g>
<path d="M486.20 317.4v-1.9M486.20 202.4v1.9M505.07 317.4v-1.0M505.07 202.4v1.0M516.12 317.4v-1.0M516.12 202.4v1.0M523.95 317.4v-1.0M523.95 202.4v1.0M530.03 317.4v-1.0M530.03 202.4v1.0M534.99 317.4v-1.0M534.99 202.4v1.0M539.19 317.4v-1.0M539.19 202.4v1.0M542.82 317.4v-1.0M542.82 202.4v1.0M546.03 317.4v-1.0M546.03 202.4v1.0M548.90 317.4v-1.9M548.90 202.4v1.9M567.77 317.4v-1.0M567.77 202.4v1.0M578.82 317.4v-1.0M578.82 202.4v1.0M586.65 317.4v-1.0M586.65 202.4v1.0M592.73 317.4v-1.0M592.73 202.4v1.0M597.69 317.4v-1.0M597.69 202.4v1.0M601.89 317.4v-1.0M601.89 202.4v1.0M605.52 317.4v-1.0M605.52 202.4v1.0M608.73 317.4v-1.0M608.73 202.4v1.0M611.60 317.4v-1.9M611.60 202.4v1.9M630.47 317.4v-1.0M630.47 202.4v1.0M641.52 317.4v-1.0M641.52 202.4v1.0M649.35 317.4v-1.0M649.35 202.4v1.0M655.43 317.4v-1.0M655.43 202.4v1.0M660.39 317.4v-1.0M660.39 202.4v1.0M664.59 317.4v-1.0M664.59 202.4v1.0M668.22 317.4v-1.0M668.22 202.4v1.0M671.43 317.4v-1.0M671.43 202.4v1.0M486.2 202.50h1.9M674.3 202.50h-1.9M486.2 218.50h1.9M674.3 218.50h-1.9M486.2 235.50h1.9M674.3 235.50h-1.9M486.2 251.50h1.9M674.3 251.50h-1.9M486.2 268.50h1.9M674.3 268.50h-1.9M486.2 284.50h1.9M674.3 284.50h-1.9M486.2 301.50h1.9M674.3 301.50h-1.9M486.2 317.50h1.9M674.3 317.50h-1.9" class="tk"/>
<rect x="486.2" y="202.4" width="188.10" height="115.00" class="ax"/>
<text x="579.65" y="177.10" class="tt">Electromyography</text>
<text x="579.65" y="198.20" class="tt">Exiting</text>
<path d="M486.30 214.40h40.5" class="lr"/>
<path d="M486.30 232.90h40.5" class="lb"/>
<text x="530.30" y="220.20" class="lg">MPF Pre:  92.65 Hz</text>
<text x="530.30" y="238.80" class="lg">MPF Post: 94.61 Hz</text>
<text x="487.40" y="336.90" class="tl" text-anchor="middle">0</text>
<text x="548.30" y="336.90" class="tl" text-anchor="middle">10</text>
<text x="608.90" y="336.90" class="tl" text-anchor="middle">100</text>
<text x="668.80" y="336.90" class="tl" text-anchor="middle">1000</text>
<text x="580.45" y="355.70" class="tt al">Frequency (Hz)</text>
</svg></body></html>
